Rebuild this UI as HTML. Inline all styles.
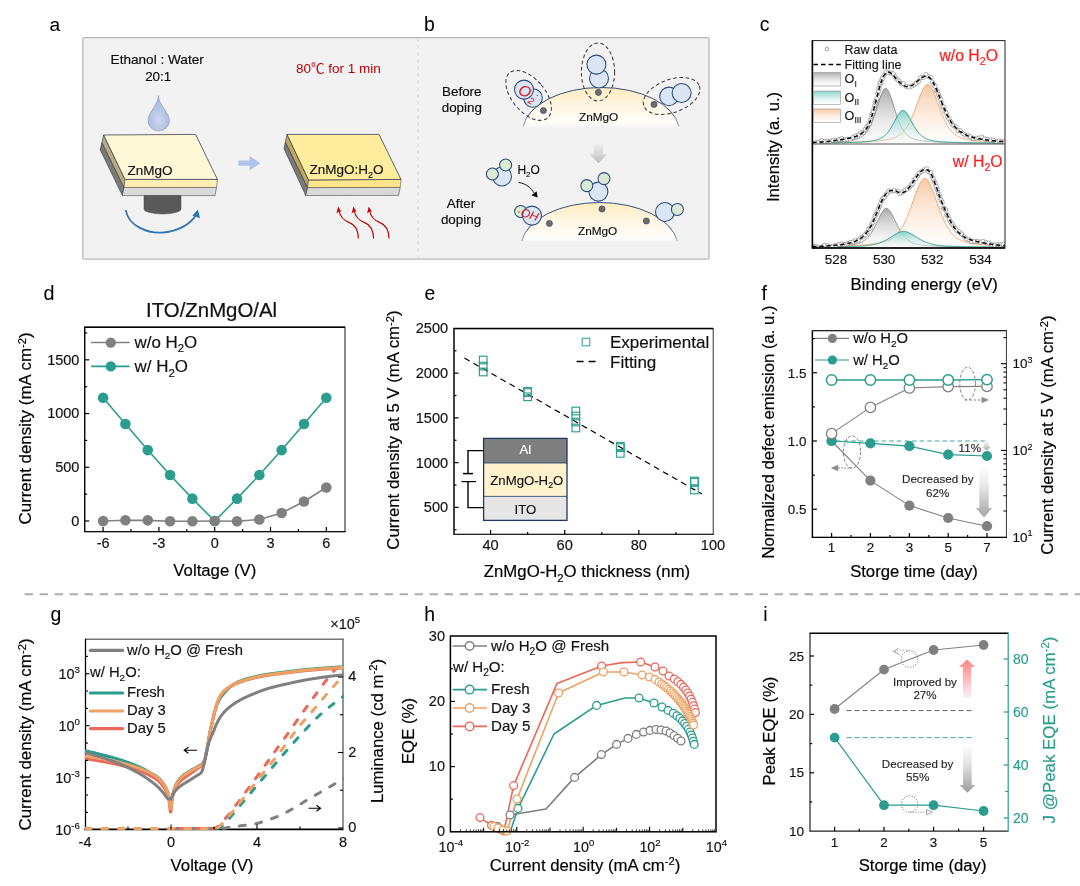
<!DOCTYPE html>
<html lang="en"><head><meta charset="utf-8"><title>Figure</title>
<style>
html,body{margin:0;padding:0;background:#fff;}
body{width:1080px;height:886px;overflow:hidden;}
svg{display:block;font-family:'Liberation Sans', 'Noto Sans CJK SC', sans-serif;}
text{paint-order:stroke;}
</style></head><body>
<svg width="1080" height="886" viewBox="0 0 1080 886">
<defs>
<radialGradient id="drop" cx="0.5" cy="0.68" r="0.5"><stop offset="0" stop-color="#cbd6ea"/><stop offset="1" stop-color="#a9bde3"/></radialGradient>
<linearGradient id="dome" x1="0" y1="0" x2="0" y2="1" gradientUnits="objectBoundingBox"><stop offset="0" stop-color="#ffecbf" stop-opacity="1"/><stop offset="0.45" stop-color="#fff5e0" stop-opacity="1"/><stop offset="0.85" stop-color="#fffdf8" stop-opacity="1"/><stop offset="1" stop-color="#fffefc" stop-opacity="0.5"/></linearGradient>
<linearGradient id="domeS" x1="0" y1="0" x2="1" y2="0" gradientUnits="objectBoundingBox"><stop offset="0" stop-color="#33507f" stop-opacity="0.5"/><stop offset="0.04" stop-color="#33507f" stop-opacity="1"/><stop offset="0.96" stop-color="#33507f" stop-opacity="1"/><stop offset="1" stop-color="#33507f" stop-opacity="0.5"/></linearGradient>
<linearGradient id="garr" x1="0" y1="0" x2="0" y2="1" gradientUnits="objectBoundingBox"><stop offset="0" stop-color="#d0d0d0" stop-opacity="0"/><stop offset="0.5" stop-color="#cfcfcf" stop-opacity="0.7"/><stop offset="1" stop-color="#bdbdbd" stop-opacity="1"/></linearGradient>
<linearGradient id="cg1" x1="0" y1="0" x2="0" y2="1" gradientUnits="objectBoundingBox"><stop offset="0" stop-color="#a6a6a6" stop-opacity="0.95"/><stop offset="1" stop-color="#f2f2f2" stop-opacity="0.2"/></linearGradient>
<linearGradient id="cg2" x1="0" y1="0" x2="0" y2="1" gradientUnits="objectBoundingBox"><stop offset="0" stop-color="#7fd0c6" stop-opacity="0.95"/><stop offset="1" stop-color="#eefaf8" stop-opacity="0.2"/></linearGradient>
<linearGradient id="cg3" x1="0" y1="0" x2="0" y2="1" gradientUnits="objectBoundingBox"><stop offset="0" stop-color="#f6c6a0" stop-opacity="0.95"/><stop offset="1" stop-color="#fff4ec" stop-opacity="0.2"/></linearGradient>
<clipPath id="clipc1"><rect x="812.4" y="40.6" width="192.6" height="103.4"/></clipPath>
<clipPath id="clipc2"><rect x="812.4" y="144" width="192.6" height="104"/></clipPath>
<linearGradient id="farr" x1="0" y1="0" x2="0" y2="1" gradientUnits="objectBoundingBox"><stop offset="0" stop-color="#f2f2f2" stop-opacity="0.3"/><stop offset="0.5" stop-color="#d9d9d9" stop-opacity="1"/><stop offset="1" stop-color="#a6a6a6" stop-opacity="1"/></linearGradient>
<clipPath id="clipg"><rect x="85" y="638.8" width="259" height="191.8"/></clipPath>
<linearGradient id="iarrR" x1="0" y1="0" x2="0" y2="1" gradientUnits="objectBoundingBox"><stop offset="0" stop-color="#ff8585" stop-opacity="1"/><stop offset="0.45" stop-color="#ffb3b3" stop-opacity="1"/><stop offset="1" stop-color="#f4f0fb" stop-opacity="0.9"/></linearGradient>
<linearGradient id="iarrG" x1="0" y1="0" x2="0" y2="1" gradientUnits="objectBoundingBox"><stop offset="0" stop-color="#f4f4f8" stop-opacity="0.6"/><stop offset="0.5" stop-color="#d4d4d4" stop-opacity="1"/><stop offset="1" stop-color="#9c9c9c" stop-opacity="1"/></linearGradient>
</defs>
<rect x="0" y="0" width="1080" height="886" fill="#fff"/>
<text x="49.4" y="30.6" font-size="19.2" text-anchor="start" fill="#000" stroke="#000" stroke-width="0.05">a</text>
<text x="424" y="30.6" font-size="19.4" text-anchor="start" fill="#000" stroke="#000" stroke-width="0.05">b</text>
<rect x="82.8" y="37.7" width="626.2" height="221.4" fill="#f2f2f2" stroke="#a6a6a6" stroke-width="1" rx="0.8"/>
<line x1="418" y1="38" x2="418" y2="259" stroke="#d9d9d9" stroke-width="1" stroke-dasharray="4 3"/>
<text x="157.2" y="64.4" font-size="13.6" text-anchor="middle" fill="#0a0a0a" stroke="#0a0a0a" stroke-width="0.15">Ethanol : Water</text>
<text x="158.2" y="80.6" font-size="13.4" text-anchor="middle" fill="#0a0a0a" stroke="#0a0a0a" stroke-width="0.15">20:1</text>
<text x="296" y="72.6" font-size="13.5" text-anchor="start" fill="#c00000" stroke="#c00000" stroke-width="0">80℃ for 1 min</text>
<path d="M158.4,95.6 C159,106 169.4,112 169.4,120.6 A10.7,10.4 0 0 1 148,120.6 C148,112 157.8,106 158.4,95.6 Z" stroke="#8a97ad" stroke-width="0.6" fill="url(#drop)"/>
<polygon points="101.9,142.4 124,187.4 122.4,195.6 100.2,149.8" fill="#7a7a7a" stroke="#2a2a2a" stroke-width="0.55"/>
<polygon points="103.6,135 125,179.4 124,187.4 101.9,142.4" fill="#b9ab82" stroke="#2a2a2a" stroke-width="0.55"/>
<polygon points="124,187.4 216.6,187.4 215,195.6 122.4,195.6" fill="#d9d9d9" stroke="#3a3a3a" stroke-width="0.55"/>
<polygon points="125,179.4 217.4,179.4 216.6,187.4 124,187.4" fill="#ffefb5" stroke="#3a3a3a" stroke-width="0.5"/>
<polygon points="103.6,135 195.6,134.4 217.4,179.4 125,179.4" fill="#fff8d6" stroke="#1f2a44" stroke-width="0.7"/>
<text x="127.4" y="175" font-size="13.5" text-anchor="start" fill="#111" stroke="#111" stroke-width="0.15">ZnMgO</text>
<path d="M144,195.6 L181,195.6 L181,209 A18.5,5 0 0 1 144,209 Z" stroke="#444" stroke-width="0.5" fill="#595959"/>
<path d="M125.8,210 C128,226 148,233.4 162,232.6 C177,231.6 190,225 196,215" stroke="#2e75b6" stroke-width="1.8" fill="none"/>
<polygon points="198,209.6 192.4,215.4 200,218.2" fill="#2e75b6" stroke="none" stroke-width="1"/>
<polygon points="238.4,160.6 249.6,160.6 249.6,156 260.2,163.2 249.6,170.4 249.6,165.8 238.4,165.8" fill="#adc3e9" stroke="none" stroke-width="1"/>
<polygon points="285.4,142 307.6,187.6 305.8,195.5 284,148.8" fill="#7a7a7a" stroke="#2a2a2a" stroke-width="0.55"/>
<polygon points="287,134.4 308.6,180 307.6,187.6 285.4,142" fill="#bfa661" stroke="#2a2a2a" stroke-width="0.55"/>
<polygon points="307.6,187.6 400.2,187.4 398.6,195.4 305.8,195.5" fill="#d9d9d9" stroke="#3a3a3a" stroke-width="0.55"/>
<polygon points="308.6,180 401,179.4 400.2,187.4 307.6,187.6" fill="#ffe48e" stroke="#3a3a3a" stroke-width="0.5"/>
<polygon points="287,134.4 379,134.4 401,179.4 308.6,180" fill="#ffec9c" stroke="#1f2a44" stroke-width="0.7"/>
<text x="309.4" y="174.4" font-size="13.5" text-anchor="start" fill="#111" stroke="#111" stroke-width="0.15">ZnMgO:H<tspan dy="3.65" font-size="9.04">2</tspan><tspan dy="-3.65">O</tspan></text>
<path d="M358.4,238.6 C358.2,231 356,225 349.4,222.6 C343,220.4 340.2,217 338.7,210" stroke="#c00000" stroke-width="1.15" fill="none"/>
<polygon points="338.2,206.6 336.4,213.4 338.9,211.4 341.2,211.8" fill="#c00000" stroke="none" stroke-width="1"/>
<path d="M373.6,238.6 C373.4,231 371.2,225 364.6,222.6 C358.2,220.4 355.4,217 353.9,210" stroke="#c00000" stroke-width="1.15" fill="none"/>
<polygon points="353.4,206.6 351.6,213.4 354.1,211.4 356.4,211.8" fill="#c00000" stroke="none" stroke-width="1"/>
<path d="M389,238.6 C388.8,231 386.6,225 380,222.6 C373.6,220.4 370.8,217 369.3,210" stroke="#c00000" stroke-width="1.15" fill="none"/>
<polygon points="368.8,206.6 367,213.4 369.5,211.4 371.8,211.8" fill="#c00000" stroke="none" stroke-width="1"/>
<text x="461.8" y="96" font-size="13.4" text-anchor="middle" fill="#0a0a0a" stroke="#0a0a0a" stroke-width="0.15">Before</text>
<text x="461.8" y="112" font-size="13.4" text-anchor="middle" fill="#0a0a0a" stroke="#0a0a0a" stroke-width="0.15">doping</text>
<text x="461" y="208" font-size="13.4" text-anchor="middle" fill="#0a0a0a" stroke="#0a0a0a" stroke-width="0.15">After</text>
<text x="461" y="224" font-size="13.4" text-anchor="middle" fill="#0a0a0a" stroke="#0a0a0a" stroke-width="0.15">doping</text>
<path d="M523.12,126.4 A78.5,44.5 0 0 1 678.88,126.4 Z" stroke="none" stroke-width="1" fill="url(#dome)"/>
<path d="M523.12,126.4 A78.5,44.5 0 0 1 678.88,126.4" stroke="url(#domeS)" stroke-width="1" fill="none"/>
<text x="598.6" y="121" font-size="11.8" text-anchor="middle" fill="#0a0a0a" stroke="#0a0a0a" stroke-width="0.13">ZnMgO</text>
<circle cx="599" cy="78.4" r="9.5" fill="#dbe6f4" stroke="#2c4a80" stroke-width="1.05"/>
<circle cx="596.4" cy="64.6" r="9.5" fill="#dbe6f4" stroke="#2c4a80" stroke-width="1.05"/>
<circle cx="533" cy="98" r="9.3" fill="#dbe6f4" stroke="#2c4a80" stroke-width="1.05"/>
<circle cx="524" cy="89.6" r="9.5" fill="#dbe6f4" stroke="#2c4a80" stroke-width="1.05"/>
<circle cx="669" cy="96.4" r="9.3" fill="#dbe6f4" stroke="#2c4a80" stroke-width="1.05"/>
<circle cx="681.6" cy="93" r="9.5" fill="#dbe6f4" stroke="#2c4a80" stroke-width="1.05"/>
<circle cx="598.4" cy="92.4" r="3" fill="#6e6e6e" stroke="#3b4a6b" stroke-width="0.8"/>
<circle cx="543.4" cy="110.6" r="3" fill="#6e6e6e" stroke="#3b4a6b" stroke-width="0.8"/>
<circle cx="654" cy="104.4" r="3" fill="#6e6e6e" stroke="#3b4a6b" stroke-width="0.8"/>
<ellipse cx="598" cy="72" rx="16.6" ry="29" fill="none" stroke="#3a3a3a" stroke-width="1.05" stroke-dasharray="3.6 2.6" transform="rotate(0 598 72)"/>
<ellipse cx="528.6" cy="95.4" rx="16.5" ry="29.5" fill="none" stroke="#3a3a3a" stroke-width="1.05" stroke-dasharray="3.6 2.6" transform="rotate(-40 528.6 95.4)"/>
<ellipse cx="671.6" cy="96" rx="29.5" ry="16.5" fill="none" stroke="#3a3a3a" stroke-width="1.05" stroke-dasharray="3.6 2.6" transform="rotate(-20 671.6 96)"/>
<text fill="#e0101a" font-style="italic" text-anchor="middle" font-size="15.6" transform="rotate(28 525 91)"><tspan x="525" y="96.4">O</tspan><tspan x="535" y="100.2" font-size="9.5">2</tspan><tspan x="538" y="92.2" font-size="10">·</tspan></text>
<polygon points="593.8,142 603,142 603,154.4 607.1,154.4 598.4,163.2 589.7,154.4 593.8,154.4" fill="url(#garr)" stroke="none" stroke-width="1"/>
<circle cx="502" cy="176.4" r="9.5" fill="#dbe6f4" stroke="#2c4a80" stroke-width="1.05"/>
<circle cx="505.6" cy="165" r="6" fill="#dbead3" stroke="#2c4a80" stroke-width="1.05"/>
<circle cx="492.4" cy="174" r="6" fill="#dbead3" stroke="#2c4a80" stroke-width="1.05"/>
<text x="517.4" y="173.6" font-size="12" text-anchor="start" fill="#0a0a0a" stroke="#0a0a0a" stroke-width="0.13">H<tspan dy="3.24" font-size="8.04">2</tspan><tspan dy="-3.24">O</tspan></text>
<path d="M518.4,182.4 C526,183.6 531,187.6 534.4,193.4" stroke="#000" stroke-width="0.9" fill="none"/>
<polygon points="537.6,197.4 531.4,195.2 536.6,191.6" fill="#000" stroke="none" stroke-width="1"/>
<path d="M521.72,241 A78.5,44.5 0 0 1 677.28,241 Z" stroke="none" stroke-width="1" fill="url(#dome)"/>
<path d="M521.72,241 A78.5,44.5 0 0 1 677.28,241" stroke="url(#domeS)" stroke-width="1" fill="none"/>
<text x="597.6" y="235" font-size="11.8" text-anchor="middle" fill="#0a0a0a" stroke="#0a0a0a" stroke-width="0.13">ZnMgO</text>
<circle cx="520.6" cy="211.4" r="6" fill="#dbead3" stroke="#2c4a80" stroke-width="1.05"/>
<circle cx="532" cy="215.6" r="9.5" fill="#dbe6f4" stroke="#2c4a80" stroke-width="1.05"/>
<text x="527.8" y="218" font-size="11.8" text-anchor="middle" fill="#e0101a" font-style="italic" transform="rotate(18 527.8 214)">·OH</text>
<circle cx="598.4" cy="191.6" r="9.5" fill="#dbe6f4" stroke="#2c4a80" stroke-width="1.05"/>
<circle cx="604" cy="178.6" r="6" fill="#dbead3" stroke="#2c4a80" stroke-width="1.05"/>
<circle cx="586.8" cy="185.6" r="6" fill="#dbead3" stroke="#2c4a80" stroke-width="1.05"/>
<circle cx="665" cy="212" r="9.5" fill="#dbe6f4" stroke="#2c4a80" stroke-width="1.05"/>
<circle cx="677.4" cy="209.4" r="6" fill="#dbead3" stroke="#2c4a80" stroke-width="1.05"/>
<circle cx="549.4" cy="223.4" r="3" fill="#6e6e6e" stroke="#3b4a6b" stroke-width="0.8"/>
<circle cx="602" cy="209" r="3" fill="#6e6e6e" stroke="#3b4a6b" stroke-width="0.8"/>
<circle cx="646.4" cy="221" r="3" fill="#6e6e6e" stroke="#3b4a6b" stroke-width="0.8"/>
<text x="759.8" y="30.6" font-size="19.4" text-anchor="start" fill="#000" stroke="#000" stroke-width="0.05">c</text>
<g clip-path="url(#clipc1)">
<path d="M812.4,143.4 L812.4,142.7 L812.9,142.69 L813.4,142.68 L813.9,142.67 L814.4,142.66 L814.9,142.65 L815.4,142.64 L815.9,142.63 L816.4,142.62 L816.9,142.61 L817.4,142.6 L817.9,142.59 L818.4,142.58 L818.9,142.56 L819.4,142.55 L819.9,142.54 L820.4,142.53 L820.9,142.51 L821.4,142.5 L821.9,142.49 L822.4,142.47 L822.9,142.46 L823.4,142.44 L823.9,142.43 L824.4,142.41 L824.9,142.4 L825.4,142.38 L825.9,142.36 L826.4,142.35 L826.9,142.33 L827.4,142.31 L827.9,142.29 L828.4,142.27 L828.9,142.25 L829.4,142.23 L829.9,142.21 L830.4,142.19 L830.9,142.17 L831.4,142.15 L831.9,142.13 L832.4,142.11 L832.9,142.08 L833.4,142.06 L833.9,142.03 L834.4,142.01 L834.9,141.98 L835.4,141.95 L835.9,141.93 L836.4,141.9 L836.9,141.87 L837.4,141.84 L837.9,141.81 L838.4,141.77 L838.9,141.74 L839.4,141.71 L839.9,141.67 L840.4,141.64 L840.9,141.6 L841.4,141.56 L841.9,141.52 L842.4,141.48 L842.9,141.44 L843.4,141.39 L843.9,141.35 L844.4,141.3 L844.9,141.25 L845.4,141.2 L845.9,141.15 L846.4,141.09 L846.9,141.04 L847.4,140.98 L847.9,140.92 L848.4,140.85 L848.9,140.79 L849.4,140.72 L849.9,140.64 L850.4,140.57 L850.9,140.49 L851.4,140.41 L851.9,140.32 L852.4,140.23 L852.9,140.13 L853.4,140.02 L853.9,139.92 L854.4,139.8 L854.9,139.68 L855.4,139.55 L855.9,139.41 L856.4,139.26 L856.9,139.1 L857.4,138.93 L857.9,138.75 L858.4,138.55 L858.9,138.34 L859.4,138.11 L859.9,137.87 L860.4,137.61 L860.9,137.33 L861.4,137.02 L861.9,136.7 L862.4,136.34 L862.9,135.96 L863.4,135.55 L863.9,135.11 L864.4,134.64 L864.9,134.13 L865.4,133.59 L865.9,133.01 L866.4,132.38 L866.9,131.72 L867.4,131 L867.9,130.25 L868.4,129.44 L868.9,128.58 L869.4,127.68 L869.9,126.72 L870.4,125.71 L870.9,124.65 L871.4,123.53 L871.9,122.36 L872.4,121.14 L872.9,119.87 L873.4,118.54 L873.9,117.17 L874.4,115.76 L874.9,114.3 L875.4,112.8 L875.9,111.27 L876.4,109.7 L876.9,108.12 L877.4,106.52 L877.9,104.91 L878.4,103.31 L878.9,101.71 L879.4,100.15 L879.9,98.61 L880.4,97.13 L880.9,95.72 L881.4,94.38 L881.9,93.14 L882.4,92.01 L882.9,91.02 L883.4,90.16 L883.9,89.46 L884.4,88.93 L884.9,88.58 L885.4,88.41 L885.9,88.43 L886.4,88.64 L886.9,89.03 L887.4,89.59 L887.9,90.32 L888.4,91.2 L888.9,92.23 L889.4,93.38 L889.9,94.64 L890.4,95.99 L890.9,97.42 L891.4,98.92 L891.9,100.46 L892.4,102.03 L892.9,103.63 L893.4,105.23 L893.9,106.84 L894.4,108.44 L894.9,110.02 L895.4,111.57 L895.9,113.1 L896.4,114.59 L896.9,116.04 L897.4,117.45 L897.9,118.81 L898.4,120.13 L898.9,121.39 L899.4,122.6 L899.9,123.76 L900.4,124.86 L900.9,125.92 L901.4,126.92 L901.9,127.86 L902.4,128.76 L902.9,129.6 L903.4,130.4 L903.9,131.15 L904.4,131.85 L904.9,132.51 L905.4,133.13 L905.9,133.7 L906.4,134.24 L906.9,134.74 L907.4,135.21 L907.9,135.64 L908.4,136.04 L908.9,136.42 L909.4,136.76 L909.9,137.09 L910.4,137.39 L910.9,137.66 L911.4,137.92 L911.9,138.16 L912.4,138.38 L912.9,138.59 L913.4,138.78 L913.9,138.96 L914.4,139.13 L914.9,139.29 L915.4,139.44 L915.9,139.57 L916.4,139.7 L916.9,139.82 L917.4,139.94 L917.9,140.05 L918.4,140.15 L918.9,140.24 L919.4,140.34 L919.9,140.42 L920.4,140.51 L920.9,140.58 L921.4,140.66 L921.9,140.73 L922.4,140.8 L922.9,140.87 L923.4,140.93 L923.9,140.99 L924.4,141.05 L924.9,141.1 L925.4,141.16 L925.9,141.21 L926.4,141.26 L926.9,141.31 L927.4,141.36 L927.9,141.4 L928.4,141.44 L928.9,141.49 L929.4,141.53 L929.9,141.57 L930.4,141.61 L930.9,141.64 L931.4,141.68 L931.9,141.71 L932.4,141.75 L932.9,141.78 L933.4,141.81 L933.9,141.84 L934.4,141.87 L934.9,141.9 L935.4,141.93 L935.9,141.96 L936.4,141.99 L936.9,142.01 L937.4,142.04 L937.9,142.06 L938.4,142.09 L938.9,142.11 L939.4,142.13 L939.9,142.15 L940.4,142.18 L940.9,142.2 L941.4,142.22 L941.9,142.24 L942.4,142.26 L942.9,142.28 L943.4,142.3 L943.9,142.31 L944.4,142.33 L944.9,142.35 L945.4,142.37 L945.9,142.38 L946.4,142.4 L946.9,142.41 L947.4,142.43 L947.9,142.44 L948.4,142.46 L948.9,142.47 L949.4,142.49 L949.9,142.5 L950.4,142.51 L950.9,142.53 L951.4,142.54 L951.9,142.55 L952.4,142.57 L952.9,142.58 L953.4,142.59 L953.9,142.6 L954.4,142.61 L954.9,142.62 L955.4,142.63 L955.9,142.64 L956.4,142.66 L956.9,142.67 L957.4,142.68 L957.9,142.68 L958.4,142.69 L958.9,142.7 L959.4,142.71 L959.9,142.72 L960.4,142.73 L960.9,142.74 L961.4,142.75 L961.9,142.76 L962.4,142.76 L962.9,142.77 L963.4,142.78 L963.9,142.79 L964.4,142.8 L964.9,142.8 L965.4,142.81 L965.9,142.82 L966.4,142.82 L966.9,142.83 L967.4,142.84 L967.9,142.85 L968.4,142.85 L968.9,142.86 L969.4,142.86 L969.9,142.87 L970.4,142.88 L970.9,142.88 L971.4,142.89 L971.9,142.89 L972.4,142.9 L972.9,142.91 L973.4,142.91 L973.9,142.92 L974.4,142.92 L974.9,142.93 L975.4,142.93 L975.9,142.94 L976.4,142.94 L976.9,142.95 L977.4,142.95 L977.9,142.96 L978.4,142.96 L978.9,142.97 L979.4,142.97 L979.9,142.98 L980.4,142.98 L980.9,142.98 L981.4,142.99 L981.9,142.99 L982.4,143 L982.9,143 L983.4,143 L983.9,143.01 L984.4,143.01 L984.9,143.02 L985.4,143.02 L985.9,143.02 L986.4,143.03 L986.9,143.03 L987.4,143.04 L987.9,143.04 L988.4,143.04 L988.9,143.05 L989.4,143.05 L989.9,143.05 L990.4,143.06 L990.9,143.06 L991.4,143.06 L991.9,143.06 L992.4,143.07 L992.9,143.07 L993.4,143.07 L993.9,143.08 L994.4,143.08 L994.9,143.08 L995.4,143.09 L995.9,143.09 L996.4,143.09 L996.9,143.09 L997.4,143.1 L997.9,143.1 L998.4,143.1 L998.9,143.1 L999.4,143.11 L999.9,143.11 L1000.4,143.11 L1000.9,143.11 L1001.4,143.12 L1001.9,143.12 L1002.4,143.12 L1002.9,143.12 L1003.4,143.13 L1003.9,143.13 L1004.4,143.13 L1004.9,143.13 L1005,143.4 Z" stroke="none" stroke-width="1" fill="url(#cg1)"/>
<polyline points="812.4,142.7 812.9,142.69 813.4,142.68 813.9,142.67 814.4,142.66 814.9,142.65 815.4,142.64 815.9,142.63 816.4,142.62 816.9,142.61 817.4,142.6 817.9,142.59 818.4,142.58 818.9,142.56 819.4,142.55 819.9,142.54 820.4,142.53 820.9,142.51 821.4,142.5 821.9,142.49 822.4,142.47 822.9,142.46 823.4,142.44 823.9,142.43 824.4,142.41 824.9,142.4 825.4,142.38 825.9,142.36 826.4,142.35 826.9,142.33 827.4,142.31 827.9,142.29 828.4,142.27 828.9,142.25 829.4,142.23 829.9,142.21 830.4,142.19 830.9,142.17 831.4,142.15 831.9,142.13 832.4,142.11 832.9,142.08 833.4,142.06 833.9,142.03 834.4,142.01 834.9,141.98 835.4,141.95 835.9,141.93 836.4,141.9 836.9,141.87 837.4,141.84 837.9,141.81 838.4,141.77 838.9,141.74 839.4,141.71 839.9,141.67 840.4,141.64 840.9,141.6 841.4,141.56 841.9,141.52 842.4,141.48 842.9,141.44 843.4,141.39 843.9,141.35 844.4,141.3 844.9,141.25 845.4,141.2 845.9,141.15 846.4,141.09 846.9,141.04 847.4,140.98 847.9,140.92 848.4,140.85 848.9,140.79 849.4,140.72 849.9,140.64 850.4,140.57 850.9,140.49 851.4,140.41 851.9,140.32 852.4,140.23 852.9,140.13 853.4,140.02 853.9,139.92 854.4,139.8 854.9,139.68 855.4,139.55 855.9,139.41 856.4,139.26 856.9,139.1 857.4,138.93 857.9,138.75 858.4,138.55 858.9,138.34 859.4,138.11 859.9,137.87 860.4,137.61 860.9,137.33 861.4,137.02 861.9,136.7 862.4,136.34 862.9,135.96 863.4,135.55 863.9,135.11 864.4,134.64 864.9,134.13 865.4,133.59 865.9,133.01 866.4,132.38 866.9,131.72 867.4,131 867.9,130.25 868.4,129.44 868.9,128.58 869.4,127.68 869.9,126.72 870.4,125.71 870.9,124.65 871.4,123.53 871.9,122.36 872.4,121.14 872.9,119.87 873.4,118.54 873.9,117.17 874.4,115.76 874.9,114.3 875.4,112.8 875.9,111.27 876.4,109.7 876.9,108.12 877.4,106.52 877.9,104.91 878.4,103.31 878.9,101.71 879.4,100.15 879.9,98.61 880.4,97.13 880.9,95.72 881.4,94.38 881.9,93.14 882.4,92.01 882.9,91.02 883.4,90.16 883.9,89.46 884.4,88.93 884.9,88.58 885.4,88.41 885.9,88.43 886.4,88.64 886.9,89.03 887.4,89.59 887.9,90.32 888.4,91.2 888.9,92.23 889.4,93.38 889.9,94.64 890.4,95.99 890.9,97.42 891.4,98.92 891.9,100.46 892.4,102.03 892.9,103.63 893.4,105.23 893.9,106.84 894.4,108.44 894.9,110.02 895.4,111.57 895.9,113.1 896.4,114.59 896.9,116.04 897.4,117.45 897.9,118.81 898.4,120.13 898.9,121.39 899.4,122.6 899.9,123.76 900.4,124.86 900.9,125.92 901.4,126.92 901.9,127.86 902.4,128.76 902.9,129.6 903.4,130.4 903.9,131.15 904.4,131.85 904.9,132.51 905.4,133.13 905.9,133.7 906.4,134.24 906.9,134.74 907.4,135.21 907.9,135.64 908.4,136.04 908.9,136.42 909.4,136.76 909.9,137.09 910.4,137.39 910.9,137.66 911.4,137.92 911.9,138.16 912.4,138.38 912.9,138.59 913.4,138.78 913.9,138.96 914.4,139.13 914.9,139.29 915.4,139.44 915.9,139.57 916.4,139.7 916.9,139.82 917.4,139.94 917.9,140.05 918.4,140.15 918.9,140.24 919.4,140.34 919.9,140.42 920.4,140.51 920.9,140.58 921.4,140.66 921.9,140.73 922.4,140.8 922.9,140.87 923.4,140.93 923.9,140.99 924.4,141.05 924.9,141.1 925.4,141.16 925.9,141.21 926.4,141.26 926.9,141.31 927.4,141.36 927.9,141.4 928.4,141.44 928.9,141.49 929.4,141.53 929.9,141.57 930.4,141.61 930.9,141.64 931.4,141.68 931.9,141.71 932.4,141.75 932.9,141.78 933.4,141.81 933.9,141.84 934.4,141.87 934.9,141.9 935.4,141.93 935.9,141.96 936.4,141.99 936.9,142.01 937.4,142.04 937.9,142.06 938.4,142.09 938.9,142.11 939.4,142.13 939.9,142.15 940.4,142.18 940.9,142.2 941.4,142.22 941.9,142.24 942.4,142.26 942.9,142.28 943.4,142.3 943.9,142.31 944.4,142.33 944.9,142.35 945.4,142.37 945.9,142.38 946.4,142.4 946.9,142.41 947.4,142.43 947.9,142.44 948.4,142.46 948.9,142.47 949.4,142.49 949.9,142.5 950.4,142.51 950.9,142.53 951.4,142.54 951.9,142.55 952.4,142.57 952.9,142.58 953.4,142.59 953.9,142.6 954.4,142.61 954.9,142.62 955.4,142.63 955.9,142.64 956.4,142.66 956.9,142.67 957.4,142.68 957.9,142.68 958.4,142.69 958.9,142.7 959.4,142.71 959.9,142.72 960.4,142.73 960.9,142.74 961.4,142.75 961.9,142.76 962.4,142.76 962.9,142.77 963.4,142.78 963.9,142.79 964.4,142.8 964.9,142.8 965.4,142.81 965.9,142.82 966.4,142.82 966.9,142.83 967.4,142.84 967.9,142.85 968.4,142.85 968.9,142.86 969.4,142.86 969.9,142.87 970.4,142.88 970.9,142.88 971.4,142.89 971.9,142.89 972.4,142.9 972.9,142.91 973.4,142.91 973.9,142.92 974.4,142.92 974.9,142.93 975.4,142.93 975.9,142.94 976.4,142.94 976.9,142.95 977.4,142.95 977.9,142.96 978.4,142.96 978.9,142.97 979.4,142.97 979.9,142.98 980.4,142.98 980.9,142.98 981.4,142.99 981.9,142.99 982.4,143 982.9,143 983.4,143 983.9,143.01 984.4,143.01 984.9,143.02 985.4,143.02 985.9,143.02 986.4,143.03 986.9,143.03 987.4,143.04 987.9,143.04 988.4,143.04 988.9,143.05 989.4,143.05 989.9,143.05 990.4,143.06 990.9,143.06 991.4,143.06 991.9,143.06 992.4,143.07 992.9,143.07 993.4,143.07 993.9,143.08 994.4,143.08 994.9,143.08 995.4,143.09 995.9,143.09 996.4,143.09 996.9,143.09 997.4,143.1 997.9,143.1 998.4,143.1 998.9,143.1 999.4,143.11 999.9,143.11 1000.4,143.11 1000.9,143.11 1001.4,143.12 1001.9,143.12 1002.4,143.12 1002.9,143.12 1003.4,143.13 1003.9,143.13 1004.4,143.13 1004.9,143.13" fill="none" stroke="#8c8c8c" stroke-width="1"/>
<path d="M812.4,143.4 L812.4,142.91 L812.9,142.91 L813.4,142.9 L813.9,142.9 L814.4,142.89 L814.9,142.89 L815.4,142.88 L815.9,142.88 L816.4,142.88 L816.9,142.87 L817.4,142.87 L817.9,142.86 L818.4,142.86 L818.9,142.85 L819.4,142.85 L819.9,142.84 L820.4,142.84 L820.9,142.83 L821.4,142.83 L821.9,142.82 L822.4,142.82 L822.9,142.81 L823.4,142.8 L823.9,142.8 L824.4,142.79 L824.9,142.79 L825.4,142.78 L825.9,142.78 L826.4,142.77 L826.9,142.76 L827.4,142.76 L827.9,142.75 L828.4,142.74 L828.9,142.74 L829.4,142.73 L829.9,142.72 L830.4,142.72 L830.9,142.71 L831.4,142.7 L831.9,142.7 L832.4,142.69 L832.9,142.68 L833.4,142.67 L833.9,142.67 L834.4,142.66 L834.9,142.65 L835.4,142.64 L835.9,142.63 L836.4,142.63 L836.9,142.62 L837.4,142.61 L837.9,142.6 L838.4,142.59 L838.9,142.58 L839.4,142.57 L839.9,142.57 L840.4,142.56 L840.9,142.55 L841.4,142.54 L841.9,142.53 L842.4,142.52 L842.9,142.51 L843.4,142.5 L843.9,142.49 L844.4,142.48 L844.9,142.46 L845.4,142.45 L845.9,142.44 L846.4,142.43 L846.9,142.42 L847.4,142.41 L847.9,142.39 L848.4,142.38 L848.9,142.37 L849.4,142.36 L849.9,142.34 L850.4,142.33 L850.9,142.32 L851.4,142.3 L851.9,142.29 L852.4,142.28 L852.9,142.26 L853.4,142.25 L853.9,142.23 L854.4,142.22 L854.9,142.2 L855.4,142.18 L855.9,142.17 L856.4,142.15 L856.9,142.13 L857.4,142.12 L857.9,142.1 L858.4,142.08 L858.9,142.06 L859.4,142.04 L859.9,142.02 L860.4,142 L860.9,141.98 L861.4,141.96 L861.9,141.94 L862.4,141.92 L862.9,141.9 L863.4,141.88 L863.9,141.85 L864.4,141.83 L864.9,141.81 L865.4,141.78 L865.9,141.76 L866.4,141.73 L866.9,141.7 L867.4,141.68 L867.9,141.65 L868.4,141.62 L868.9,141.59 L869.4,141.56 L869.9,141.53 L870.4,141.5 L870.9,141.47 L871.4,141.44 L871.9,141.41 L872.4,141.37 L872.9,141.34 L873.4,141.3 L873.9,141.26 L874.4,141.23 L874.9,141.19 L875.4,141.15 L875.9,141.11 L876.4,141.06 L876.9,141.02 L877.4,140.98 L877.9,140.93 L878.4,140.88 L878.9,140.83 L879.4,140.78 L879.9,140.73 L880.4,140.68 L880.9,140.62 L881.4,140.56 L881.9,140.5 L882.4,140.44 L882.9,140.38 L883.4,140.31 L883.9,140.24 L884.4,140.17 L884.9,140.1 L885.4,140.02 L885.9,139.94 L886.4,139.85 L886.9,139.76 L887.4,139.67 L887.9,139.57 L888.4,139.47 L888.9,139.37 L889.4,139.25 L889.9,139.14 L890.4,139.01 L890.9,138.88 L891.4,138.74 L891.9,138.6 L892.4,138.44 L892.9,138.28 L893.4,138.11 L893.9,137.93 L894.4,137.74 L894.9,137.53 L895.4,137.31 L895.9,137.09 L896.4,136.84 L896.9,136.58 L897.4,136.31 L897.9,136.02 L898.4,135.71 L898.9,135.39 L899.4,135.04 L899.9,134.67 L900.4,134.29 L900.9,133.88 L901.4,133.44 L901.9,132.98 L902.4,132.5 L902.9,131.99 L903.4,131.45 L903.9,130.88 L904.4,130.28 L904.9,129.65 L905.4,128.99 L905.9,128.3 L906.4,127.58 L906.9,126.82 L907.4,126.02 L907.9,125.19 L908.4,124.33 L908.9,123.43 L909.4,122.5 L909.9,121.53 L910.4,120.52 L910.9,119.48 L911.4,118.41 L911.9,117.3 L912.4,116.15 L912.9,114.98 L913.4,113.78 L913.9,112.55 L914.4,111.29 L914.9,110.01 L915.4,108.7 L915.9,107.38 L916.4,106.04 L916.9,104.69 L917.4,103.33 L917.9,101.97 L918.4,100.61 L918.9,99.26 L919.4,97.92 L919.9,96.6 L920.4,95.31 L920.9,94.05 L921.4,92.83 L921.9,91.66 L922.4,90.55 L922.9,89.51 L923.4,88.55 L923.9,87.66 L924.4,86.87 L924.9,86.18 L925.4,85.59 L925.9,85.12 L926.4,84.76 L926.9,84.52 L927.4,84.41 L927.9,84.42 L928.4,84.56 L928.9,84.82 L929.4,85.2 L929.9,85.7 L930.4,86.31 L930.9,87.02 L931.4,87.83 L931.9,88.73 L932.4,89.71 L932.9,90.77 L933.4,91.89 L933.9,93.07 L934.4,94.3 L934.9,95.56 L935.4,96.86 L935.9,98.18 L936.4,99.53 L936.9,100.88 L937.4,102.24 L937.9,103.6 L938.4,104.96 L938.9,106.31 L939.4,107.64 L939.9,108.96 L940.4,110.26 L940.9,111.54 L941.4,112.8 L941.9,114.02 L942.4,115.22 L942.9,116.39 L943.4,117.52 L943.9,118.62 L944.4,119.69 L944.9,120.72 L945.4,121.72 L945.9,122.69 L946.4,123.61 L946.9,124.51 L947.4,125.36 L947.9,126.18 L948.4,126.97 L948.9,127.72 L949.4,128.44 L949.9,129.13 L950.4,129.78 L950.9,130.4 L951.4,131 L951.9,131.56 L952.4,132.09 L952.9,132.6 L953.4,133.08 L953.9,133.53 L954.4,133.96 L954.9,134.37 L955.4,134.75 L955.9,135.11 L956.4,135.45 L956.9,135.78 L957.4,136.08 L957.9,136.37 L958.4,136.64 L958.9,136.89 L959.4,137.13 L959.9,137.36 L960.4,137.57 L960.9,137.77 L961.4,137.97 L961.9,138.14 L962.4,138.31 L962.9,138.48 L963.4,138.63 L963.9,138.77 L964.4,138.91 L964.9,139.04 L965.4,139.16 L965.9,139.28 L966.4,139.39 L966.9,139.49 L967.4,139.59 L967.9,139.69 L968.4,139.78 L968.9,139.87 L969.4,139.95 L969.9,140.03 L970.4,140.11 L970.9,140.18 L971.4,140.26 L971.9,140.32 L972.4,140.39 L972.9,140.45 L973.4,140.52 L973.9,140.57 L974.4,140.63 L974.9,140.69 L975.4,140.74 L975.9,140.79 L976.4,140.84 L976.9,140.89 L977.4,140.94 L977.9,140.98 L978.4,141.03 L978.9,141.07 L979.4,141.11 L979.9,141.16 L980.4,141.19 L980.9,141.23 L981.4,141.27 L981.9,141.31 L982.4,141.34 L982.9,141.38 L983.4,141.41 L983.9,141.45 L984.4,141.48 L984.9,141.51 L985.4,141.54 L985.9,141.57 L986.4,141.6 L986.9,141.63 L987.4,141.66 L987.9,141.68 L988.4,141.71 L988.9,141.74 L989.4,141.76 L989.9,141.79 L990.4,141.81 L990.9,141.83 L991.4,141.86 L991.9,141.88 L992.4,141.9 L992.9,141.92 L993.4,141.95 L993.9,141.97 L994.4,141.99 L994.9,142.01 L995.4,142.03 L995.9,142.05 L996.4,142.07 L996.9,142.08 L997.4,142.1 L997.9,142.12 L998.4,142.14 L998.9,142.15 L999.4,142.17 L999.9,142.19 L1000.4,142.2 L1000.9,142.22 L1001.4,142.23 L1001.9,142.25 L1002.4,142.26 L1002.9,142.28 L1003.4,142.29 L1003.9,142.31 L1004.4,142.32 L1004.9,142.33 L1005,143.4 Z" stroke="none" stroke-width="1" fill="url(#cg3)"/>
<polyline points="812.4,142.91 812.9,142.91 813.4,142.9 813.9,142.9 814.4,142.89 814.9,142.89 815.4,142.88 815.9,142.88 816.4,142.88 816.9,142.87 817.4,142.87 817.9,142.86 818.4,142.86 818.9,142.85 819.4,142.85 819.9,142.84 820.4,142.84 820.9,142.83 821.4,142.83 821.9,142.82 822.4,142.82 822.9,142.81 823.4,142.8 823.9,142.8 824.4,142.79 824.9,142.79 825.4,142.78 825.9,142.78 826.4,142.77 826.9,142.76 827.4,142.76 827.9,142.75 828.4,142.74 828.9,142.74 829.4,142.73 829.9,142.72 830.4,142.72 830.9,142.71 831.4,142.7 831.9,142.7 832.4,142.69 832.9,142.68 833.4,142.67 833.9,142.67 834.4,142.66 834.9,142.65 835.4,142.64 835.9,142.63 836.4,142.63 836.9,142.62 837.4,142.61 837.9,142.6 838.4,142.59 838.9,142.58 839.4,142.57 839.9,142.57 840.4,142.56 840.9,142.55 841.4,142.54 841.9,142.53 842.4,142.52 842.9,142.51 843.4,142.5 843.9,142.49 844.4,142.48 844.9,142.46 845.4,142.45 845.9,142.44 846.4,142.43 846.9,142.42 847.4,142.41 847.9,142.39 848.4,142.38 848.9,142.37 849.4,142.36 849.9,142.34 850.4,142.33 850.9,142.32 851.4,142.3 851.9,142.29 852.4,142.28 852.9,142.26 853.4,142.25 853.9,142.23 854.4,142.22 854.9,142.2 855.4,142.18 855.9,142.17 856.4,142.15 856.9,142.13 857.4,142.12 857.9,142.1 858.4,142.08 858.9,142.06 859.4,142.04 859.9,142.02 860.4,142 860.9,141.98 861.4,141.96 861.9,141.94 862.4,141.92 862.9,141.9 863.4,141.88 863.9,141.85 864.4,141.83 864.9,141.81 865.4,141.78 865.9,141.76 866.4,141.73 866.9,141.7 867.4,141.68 867.9,141.65 868.4,141.62 868.9,141.59 869.4,141.56 869.9,141.53 870.4,141.5 870.9,141.47 871.4,141.44 871.9,141.41 872.4,141.37 872.9,141.34 873.4,141.3 873.9,141.26 874.4,141.23 874.9,141.19 875.4,141.15 875.9,141.11 876.4,141.06 876.9,141.02 877.4,140.98 877.9,140.93 878.4,140.88 878.9,140.83 879.4,140.78 879.9,140.73 880.4,140.68 880.9,140.62 881.4,140.56 881.9,140.5 882.4,140.44 882.9,140.38 883.4,140.31 883.9,140.24 884.4,140.17 884.9,140.1 885.4,140.02 885.9,139.94 886.4,139.85 886.9,139.76 887.4,139.67 887.9,139.57 888.4,139.47 888.9,139.37 889.4,139.25 889.9,139.14 890.4,139.01 890.9,138.88 891.4,138.74 891.9,138.6 892.4,138.44 892.9,138.28 893.4,138.11 893.9,137.93 894.4,137.74 894.9,137.53 895.4,137.31 895.9,137.09 896.4,136.84 896.9,136.58 897.4,136.31 897.9,136.02 898.4,135.71 898.9,135.39 899.4,135.04 899.9,134.67 900.4,134.29 900.9,133.88 901.4,133.44 901.9,132.98 902.4,132.5 902.9,131.99 903.4,131.45 903.9,130.88 904.4,130.28 904.9,129.65 905.4,128.99 905.9,128.3 906.4,127.58 906.9,126.82 907.4,126.02 907.9,125.19 908.4,124.33 908.9,123.43 909.4,122.5 909.9,121.53 910.4,120.52 910.9,119.48 911.4,118.41 911.9,117.3 912.4,116.15 912.9,114.98 913.4,113.78 913.9,112.55 914.4,111.29 914.9,110.01 915.4,108.7 915.9,107.38 916.4,106.04 916.9,104.69 917.4,103.33 917.9,101.97 918.4,100.61 918.9,99.26 919.4,97.92 919.9,96.6 920.4,95.31 920.9,94.05 921.4,92.83 921.9,91.66 922.4,90.55 922.9,89.51 923.4,88.55 923.9,87.66 924.4,86.87 924.9,86.18 925.4,85.59 925.9,85.12 926.4,84.76 926.9,84.52 927.4,84.41 927.9,84.42 928.4,84.56 928.9,84.82 929.4,85.2 929.9,85.7 930.4,86.31 930.9,87.02 931.4,87.83 931.9,88.73 932.4,89.71 932.9,90.77 933.4,91.89 933.9,93.07 934.4,94.3 934.9,95.56 935.4,96.86 935.9,98.18 936.4,99.53 936.9,100.88 937.4,102.24 937.9,103.6 938.4,104.96 938.9,106.31 939.4,107.64 939.9,108.96 940.4,110.26 940.9,111.54 941.4,112.8 941.9,114.02 942.4,115.22 942.9,116.39 943.4,117.52 943.9,118.62 944.4,119.69 944.9,120.72 945.4,121.72 945.9,122.69 946.4,123.61 946.9,124.51 947.4,125.36 947.9,126.18 948.4,126.97 948.9,127.72 949.4,128.44 949.9,129.13 950.4,129.78 950.9,130.4 951.4,131 951.9,131.56 952.4,132.09 952.9,132.6 953.4,133.08 953.9,133.53 954.4,133.96 954.9,134.37 955.4,134.75 955.9,135.11 956.4,135.45 956.9,135.78 957.4,136.08 957.9,136.37 958.4,136.64 958.9,136.89 959.4,137.13 959.9,137.36 960.4,137.57 960.9,137.77 961.4,137.97 961.9,138.14 962.4,138.31 962.9,138.48 963.4,138.63 963.9,138.77 964.4,138.91 964.9,139.04 965.4,139.16 965.9,139.28 966.4,139.39 966.9,139.49 967.4,139.59 967.9,139.69 968.4,139.78 968.9,139.87 969.4,139.95 969.9,140.03 970.4,140.11 970.9,140.18 971.4,140.26 971.9,140.32 972.4,140.39 972.9,140.45 973.4,140.52 973.9,140.57 974.4,140.63 974.9,140.69 975.4,140.74 975.9,140.79 976.4,140.84 976.9,140.89 977.4,140.94 977.9,140.98 978.4,141.03 978.9,141.07 979.4,141.11 979.9,141.16 980.4,141.19 980.9,141.23 981.4,141.27 981.9,141.31 982.4,141.34 982.9,141.38 983.4,141.41 983.9,141.45 984.4,141.48 984.9,141.51 985.4,141.54 985.9,141.57 986.4,141.6 986.9,141.63 987.4,141.66 987.9,141.68 988.4,141.71 988.9,141.74 989.4,141.76 989.9,141.79 990.4,141.81 990.9,141.83 991.4,141.86 991.9,141.88 992.4,141.9 992.9,141.92 993.4,141.95 993.9,141.97 994.4,141.99 994.9,142.01 995.4,142.03 995.9,142.05 996.4,142.07 996.9,142.08 997.4,142.1 997.9,142.12 998.4,142.14 998.9,142.15 999.4,142.17 999.9,142.19 1000.4,142.2 1000.9,142.22 1001.4,142.23 1001.9,142.25 1002.4,142.26 1002.9,142.28 1003.4,142.29 1003.9,142.31 1004.4,142.32 1004.9,142.33" fill="none" stroke="#f0a46a" stroke-width="1"/>
<path d="M812.4,143.4 L812.4,143.09 L812.9,143.08 L813.4,143.08 L813.9,143.08 L814.4,143.07 L814.9,143.07 L815.4,143.06 L815.9,143.06 L816.4,143.06 L816.9,143.05 L817.4,143.05 L817.9,143.04 L818.4,143.04 L818.9,143.04 L819.4,143.03 L819.9,143.03 L820.4,143.02 L820.9,143.02 L821.4,143.01 L821.9,143.01 L822.4,143 L822.9,143 L823.4,143 L823.9,142.99 L824.4,142.99 L824.9,142.98 L825.4,142.97 L825.9,142.97 L826.4,142.96 L826.9,142.96 L827.4,142.95 L827.9,142.95 L828.4,142.94 L828.9,142.93 L829.4,142.93 L829.9,142.92 L830.4,142.92 L830.9,142.91 L831.4,142.9 L831.9,142.9 L832.4,142.89 L832.9,142.88 L833.4,142.87 L833.9,142.87 L834.4,142.86 L834.9,142.85 L835.4,142.84 L835.9,142.84 L836.4,142.83 L836.9,142.82 L837.4,142.81 L837.9,142.8 L838.4,142.79 L838.9,142.78 L839.4,142.77 L839.9,142.76 L840.4,142.75 L840.9,142.74 L841.4,142.73 L841.9,142.72 L842.4,142.71 L842.9,142.7 L843.4,142.69 L843.9,142.68 L844.4,142.67 L844.9,142.65 L845.4,142.64 L845.9,142.63 L846.4,142.62 L846.9,142.6 L847.4,142.59 L847.9,142.57 L848.4,142.56 L848.9,142.54 L849.4,142.53 L849.9,142.51 L850.4,142.5 L850.9,142.48 L851.4,142.46 L851.9,142.45 L852.4,142.43 L852.9,142.41 L853.4,142.39 L853.9,142.37 L854.4,142.35 L854.9,142.33 L855.4,142.31 L855.9,142.29 L856.4,142.26 L856.9,142.24 L857.4,142.22 L857.9,142.19 L858.4,142.17 L858.9,142.14 L859.4,142.11 L859.9,142.08 L860.4,142.05 L860.9,142.02 L861.4,141.99 L861.9,141.96 L862.4,141.93 L862.9,141.89 L863.4,141.86 L863.9,141.82 L864.4,141.78 L864.9,141.74 L865.4,141.7 L865.9,141.65 L866.4,141.61 L866.9,141.56 L867.4,141.51 L867.9,141.46 L868.4,141.41 L868.9,141.35 L869.4,141.29 L869.9,141.23 L870.4,141.16 L870.9,141.09 L871.4,141.01 L871.9,140.94 L872.4,140.85 L872.9,140.76 L873.4,140.67 L873.9,140.57 L874.4,140.46 L874.9,140.35 L875.4,140.23 L875.9,140.1 L876.4,139.96 L876.9,139.81 L877.4,139.65 L877.9,139.48 L878.4,139.3 L878.9,139.1 L879.4,138.89 L879.9,138.66 L880.4,138.42 L880.9,138.16 L881.4,137.88 L881.9,137.59 L882.4,137.27 L882.9,136.93 L883.4,136.57 L883.9,136.18 L884.4,135.77 L884.9,135.34 L885.4,134.87 L885.9,134.38 L886.4,133.86 L886.9,133.32 L887.4,132.74 L887.9,132.14 L888.4,131.5 L888.9,130.83 L889.4,130.14 L889.9,129.41 L890.4,128.66 L890.9,127.88 L891.4,127.07 L891.9,126.23 L892.4,125.37 L892.9,124.49 L893.4,123.59 L893.9,122.67 L894.4,121.74 L894.9,120.81 L895.4,119.87 L895.9,118.93 L896.4,118 L896.9,117.09 L897.4,116.2 L897.9,115.34 L898.4,114.52 L898.9,113.75 L899.4,113.03 L899.9,112.39 L900.4,111.82 L900.9,111.34 L901.4,110.95 L901.9,110.66 L902.4,110.48 L902.9,110.4 L903.4,110.43 L903.9,110.58 L904.4,110.82 L904.9,111.17 L905.4,111.62 L905.9,112.15 L906.4,112.77 L906.9,113.45 L907.4,114.2 L907.9,115 L908.4,115.85 L908.9,116.73 L909.4,117.63 L909.9,118.56 L910.4,119.49 L910.9,120.43 L911.4,121.37 L911.9,122.3 L912.4,123.22 L912.9,124.13 L913.4,125.02 L913.9,125.89 L914.4,126.73 L914.9,127.55 L915.4,128.35 L915.9,129.11 L916.4,129.85 L916.9,130.56 L917.4,131.24 L917.9,131.89 L918.4,132.5 L918.9,133.09 L919.4,133.65 L919.9,134.18 L920.4,134.68 L920.9,135.15 L921.4,135.6 L921.9,136.02 L922.4,136.42 L922.9,136.79 L923.4,137.13 L923.9,137.46 L924.4,137.77 L924.9,138.05 L925.4,138.32 L925.9,138.57 L926.4,138.8 L926.9,139.02 L927.4,139.22 L927.9,139.41 L928.4,139.58 L928.9,139.75 L929.4,139.9 L929.9,140.04 L930.4,140.18 L930.9,140.3 L931.4,140.42 L931.9,140.53 L932.4,140.63 L932.9,140.73 L933.4,140.82 L933.9,140.9 L934.4,140.98 L934.9,141.06 L935.4,141.13 L935.9,141.2 L936.4,141.26 L936.9,141.32 L937.4,141.38 L937.9,141.44 L938.4,141.49 L938.9,141.54 L939.4,141.59 L939.9,141.64 L940.4,141.68 L940.9,141.72 L941.4,141.76 L941.9,141.8 L942.4,141.84 L942.9,141.88 L943.4,141.91 L943.9,141.95 L944.4,141.98 L944.9,142.01 L945.4,142.04 L945.9,142.07 L946.4,142.1 L946.9,142.13 L947.4,142.15 L947.9,142.18 L948.4,142.21 L948.9,142.23 L949.4,142.25 L949.9,142.28 L950.4,142.3 L950.9,142.32 L951.4,142.34 L951.9,142.36 L952.4,142.38 L952.9,142.4 L953.4,142.42 L953.9,142.44 L954.4,142.46 L954.9,142.47 L955.4,142.49 L955.9,142.51 L956.4,142.52 L956.9,142.54 L957.4,142.55 L957.9,142.57 L958.4,142.58 L958.9,142.6 L959.4,142.61 L959.9,142.62 L960.4,142.64 L960.9,142.65 L961.4,142.66 L961.9,142.67 L962.4,142.68 L962.9,142.7 L963.4,142.71 L963.9,142.72 L964.4,142.73 L964.9,142.74 L965.4,142.75 L965.9,142.76 L966.4,142.77 L966.9,142.78 L967.4,142.79 L967.9,142.8 L968.4,142.81 L968.9,142.81 L969.4,142.82 L969.9,142.83 L970.4,142.84 L970.9,142.85 L971.4,142.86 L971.9,142.86 L972.4,142.87 L972.9,142.88 L973.4,142.89 L973.9,142.89 L974.4,142.9 L974.9,142.91 L975.4,142.91 L975.9,142.92 L976.4,142.93 L976.9,142.93 L977.4,142.94 L977.9,142.94 L978.4,142.95 L978.9,142.96 L979.4,142.96 L979.9,142.97 L980.4,142.97 L980.9,142.98 L981.4,142.98 L981.9,142.99 L982.4,142.99 L982.9,143 L983.4,143 L983.9,143.01 L984.4,143.01 L984.9,143.02 L985.4,143.02 L985.9,143.03 L986.4,143.03 L986.9,143.03 L987.4,143.04 L987.9,143.04 L988.4,143.05 L988.9,143.05 L989.4,143.06 L989.9,143.06 L990.4,143.06 L990.9,143.07 L991.4,143.07 L991.9,143.07 L992.4,143.08 L992.9,143.08 L993.4,143.08 L993.9,143.09 L994.4,143.09 L994.9,143.09 L995.4,143.1 L995.9,143.1 L996.4,143.1 L996.9,143.11 L997.4,143.11 L997.9,143.11 L998.4,143.12 L998.9,143.12 L999.4,143.12 L999.9,143.12 L1000.4,143.13 L1000.9,143.13 L1001.4,143.13 L1001.9,143.14 L1002.4,143.14 L1002.9,143.14 L1003.4,143.14 L1003.9,143.15 L1004.4,143.15 L1004.9,143.15 L1005,143.4 Z" stroke="none" stroke-width="1" fill="url(#cg2)"/>
<polyline points="812.4,143.09 812.9,143.08 813.4,143.08 813.9,143.08 814.4,143.07 814.9,143.07 815.4,143.06 815.9,143.06 816.4,143.06 816.9,143.05 817.4,143.05 817.9,143.04 818.4,143.04 818.9,143.04 819.4,143.03 819.9,143.03 820.4,143.02 820.9,143.02 821.4,143.01 821.9,143.01 822.4,143 822.9,143 823.4,143 823.9,142.99 824.4,142.99 824.9,142.98 825.4,142.97 825.9,142.97 826.4,142.96 826.9,142.96 827.4,142.95 827.9,142.95 828.4,142.94 828.9,142.93 829.4,142.93 829.9,142.92 830.4,142.92 830.9,142.91 831.4,142.9 831.9,142.9 832.4,142.89 832.9,142.88 833.4,142.87 833.9,142.87 834.4,142.86 834.9,142.85 835.4,142.84 835.9,142.84 836.4,142.83 836.9,142.82 837.4,142.81 837.9,142.8 838.4,142.79 838.9,142.78 839.4,142.77 839.9,142.76 840.4,142.75 840.9,142.74 841.4,142.73 841.9,142.72 842.4,142.71 842.9,142.7 843.4,142.69 843.9,142.68 844.4,142.67 844.9,142.65 845.4,142.64 845.9,142.63 846.4,142.62 846.9,142.6 847.4,142.59 847.9,142.57 848.4,142.56 848.9,142.54 849.4,142.53 849.9,142.51 850.4,142.5 850.9,142.48 851.4,142.46 851.9,142.45 852.4,142.43 852.9,142.41 853.4,142.39 853.9,142.37 854.4,142.35 854.9,142.33 855.4,142.31 855.9,142.29 856.4,142.26 856.9,142.24 857.4,142.22 857.9,142.19 858.4,142.17 858.9,142.14 859.4,142.11 859.9,142.08 860.4,142.05 860.9,142.02 861.4,141.99 861.9,141.96 862.4,141.93 862.9,141.89 863.4,141.86 863.9,141.82 864.4,141.78 864.9,141.74 865.4,141.7 865.9,141.65 866.4,141.61 866.9,141.56 867.4,141.51 867.9,141.46 868.4,141.41 868.9,141.35 869.4,141.29 869.9,141.23 870.4,141.16 870.9,141.09 871.4,141.01 871.9,140.94 872.4,140.85 872.9,140.76 873.4,140.67 873.9,140.57 874.4,140.46 874.9,140.35 875.4,140.23 875.9,140.1 876.4,139.96 876.9,139.81 877.4,139.65 877.9,139.48 878.4,139.3 878.9,139.1 879.4,138.89 879.9,138.66 880.4,138.42 880.9,138.16 881.4,137.88 881.9,137.59 882.4,137.27 882.9,136.93 883.4,136.57 883.9,136.18 884.4,135.77 884.9,135.34 885.4,134.87 885.9,134.38 886.4,133.86 886.9,133.32 887.4,132.74 887.9,132.14 888.4,131.5 888.9,130.83 889.4,130.14 889.9,129.41 890.4,128.66 890.9,127.88 891.4,127.07 891.9,126.23 892.4,125.37 892.9,124.49 893.4,123.59 893.9,122.67 894.4,121.74 894.9,120.81 895.4,119.87 895.9,118.93 896.4,118 896.9,117.09 897.4,116.2 897.9,115.34 898.4,114.52 898.9,113.75 899.4,113.03 899.9,112.39 900.4,111.82 900.9,111.34 901.4,110.95 901.9,110.66 902.4,110.48 902.9,110.4 903.4,110.43 903.9,110.58 904.4,110.82 904.9,111.17 905.4,111.62 905.9,112.15 906.4,112.77 906.9,113.45 907.4,114.2 907.9,115 908.4,115.85 908.9,116.73 909.4,117.63 909.9,118.56 910.4,119.49 910.9,120.43 911.4,121.37 911.9,122.3 912.4,123.22 912.9,124.13 913.4,125.02 913.9,125.89 914.4,126.73 914.9,127.55 915.4,128.35 915.9,129.11 916.4,129.85 916.9,130.56 917.4,131.24 917.9,131.89 918.4,132.5 918.9,133.09 919.4,133.65 919.9,134.18 920.4,134.68 920.9,135.15 921.4,135.6 921.9,136.02 922.4,136.42 922.9,136.79 923.4,137.13 923.9,137.46 924.4,137.77 924.9,138.05 925.4,138.32 925.9,138.57 926.4,138.8 926.9,139.02 927.4,139.22 927.9,139.41 928.4,139.58 928.9,139.75 929.4,139.9 929.9,140.04 930.4,140.18 930.9,140.3 931.4,140.42 931.9,140.53 932.4,140.63 932.9,140.73 933.4,140.82 933.9,140.9 934.4,140.98 934.9,141.06 935.4,141.13 935.9,141.2 936.4,141.26 936.9,141.32 937.4,141.38 937.9,141.44 938.4,141.49 938.9,141.54 939.4,141.59 939.9,141.64 940.4,141.68 940.9,141.72 941.4,141.76 941.9,141.8 942.4,141.84 942.9,141.88 943.4,141.91 943.9,141.95 944.4,141.98 944.9,142.01 945.4,142.04 945.9,142.07 946.4,142.1 946.9,142.13 947.4,142.15 947.9,142.18 948.4,142.21 948.9,142.23 949.4,142.25 949.9,142.28 950.4,142.3 950.9,142.32 951.4,142.34 951.9,142.36 952.4,142.38 952.9,142.4 953.4,142.42 953.9,142.44 954.4,142.46 954.9,142.47 955.4,142.49 955.9,142.51 956.4,142.52 956.9,142.54 957.4,142.55 957.9,142.57 958.4,142.58 958.9,142.6 959.4,142.61 959.9,142.62 960.4,142.64 960.9,142.65 961.4,142.66 961.9,142.67 962.4,142.68 962.9,142.7 963.4,142.71 963.9,142.72 964.4,142.73 964.9,142.74 965.4,142.75 965.9,142.76 966.4,142.77 966.9,142.78 967.4,142.79 967.9,142.8 968.4,142.81 968.9,142.81 969.4,142.82 969.9,142.83 970.4,142.84 970.9,142.85 971.4,142.86 971.9,142.86 972.4,142.87 972.9,142.88 973.4,142.89 973.9,142.89 974.4,142.9 974.9,142.91 975.4,142.91 975.9,142.92 976.4,142.93 976.9,142.93 977.4,142.94 977.9,142.94 978.4,142.95 978.9,142.96 979.4,142.96 979.9,142.97 980.4,142.97 980.9,142.98 981.4,142.98 981.9,142.99 982.4,142.99 982.9,143 983.4,143 983.9,143.01 984.4,143.01 984.9,143.02 985.4,143.02 985.9,143.03 986.4,143.03 986.9,143.03 987.4,143.04 987.9,143.04 988.4,143.05 988.9,143.05 989.4,143.06 989.9,143.06 990.4,143.06 990.9,143.07 991.4,143.07 991.9,143.07 992.4,143.08 992.9,143.08 993.4,143.08 993.9,143.09 994.4,143.09 994.9,143.09 995.4,143.1 995.9,143.1 996.4,143.1 996.9,143.11 997.4,143.11 997.9,143.11 998.4,143.12 998.9,143.12 999.4,143.12 999.9,143.12 1000.4,143.13 1000.9,143.13 1001.4,143.13 1001.9,143.14 1002.4,143.14 1002.9,143.14 1003.4,143.14 1003.9,143.15 1004.4,143.15 1004.9,143.15" fill="none" stroke="#2a9d8f" stroke-width="1"/>
<circle cx="812.9" cy="143.9" r="2.15" fill="#fff" stroke="#333" stroke-width="0.38"/>
<circle cx="815.8" cy="142.73" r="2.15" fill="#fff" stroke="#333" stroke-width="0.38"/>
<circle cx="818.69" cy="142.28" r="2.15" fill="#fff" stroke="#333" stroke-width="0.38"/>
<circle cx="821.58" cy="140.59" r="2.15" fill="#fff" stroke="#333" stroke-width="0.38"/>
<circle cx="824.47" cy="141.53" r="2.15" fill="#fff" stroke="#333" stroke-width="0.38"/>
<circle cx="827.36" cy="141.2" r="2.15" fill="#fff" stroke="#333" stroke-width="0.38"/>
<circle cx="830.24" cy="141.09" r="2.15" fill="#fff" stroke="#333" stroke-width="0.38"/>
<circle cx="833.12" cy="140.33" r="2.15" fill="#fff" stroke="#333" stroke-width="0.38"/>
<circle cx="835.99" cy="140.37" r="2.15" fill="#fff" stroke="#333" stroke-width="0.38"/>
<circle cx="838.86" cy="139.62" r="2.15" fill="#fff" stroke="#333" stroke-width="0.38"/>
<circle cx="841.72" cy="138.55" r="2.15" fill="#fff" stroke="#333" stroke-width="0.38"/>
<circle cx="844.59" cy="139.74" r="2.15" fill="#fff" stroke="#333" stroke-width="0.38"/>
<circle cx="847.44" cy="139.23" r="2.15" fill="#fff" stroke="#333" stroke-width="0.38"/>
<circle cx="850.28" cy="139.26" r="2.15" fill="#fff" stroke="#333" stroke-width="0.38"/>
<circle cx="853.09" cy="137.3" r="2.15" fill="#fff" stroke="#333" stroke-width="0.38"/>
<circle cx="855.85" cy="136.07" r="2.15" fill="#fff" stroke="#333" stroke-width="0.38"/>
<circle cx="858.5" cy="134.79" r="2.15" fill="#fff" stroke="#333" stroke-width="0.38"/>
<circle cx="861.01" cy="132.58" r="2.15" fill="#fff" stroke="#333" stroke-width="0.38"/>
<circle cx="863.35" cy="132.77" r="2.15" fill="#fff" stroke="#333" stroke-width="0.38"/>
<circle cx="865.41" cy="129.18" r="2.15" fill="#fff" stroke="#333" stroke-width="0.38"/>
<circle cx="867.05" cy="126.72" r="2.15" fill="#fff" stroke="#333" stroke-width="0.38"/>
<circle cx="868.46" cy="124.92" r="2.15" fill="#fff" stroke="#333" stroke-width="0.38"/>
<circle cx="869.68" cy="123.56" r="2.15" fill="#fff" stroke="#333" stroke-width="0.38"/>
<circle cx="870.66" cy="119.9" r="2.15" fill="#fff" stroke="#333" stroke-width="0.38"/>
<circle cx="871.53" cy="116.19" r="2.15" fill="#fff" stroke="#333" stroke-width="0.38"/>
<circle cx="872.35" cy="113.64" r="2.15" fill="#fff" stroke="#333" stroke-width="0.38"/>
<circle cx="873.18" cy="111.86" r="2.15" fill="#fff" stroke="#333" stroke-width="0.38"/>
<circle cx="873.97" cy="108.48" r="2.15" fill="#fff" stroke="#333" stroke-width="0.38"/>
<circle cx="874.71" cy="105.22" r="2.15" fill="#fff" stroke="#333" stroke-width="0.38"/>
<circle cx="875.44" cy="102.82" r="2.15" fill="#fff" stroke="#333" stroke-width="0.38"/>
<circle cx="876.16" cy="100.74" r="2.15" fill="#fff" stroke="#333" stroke-width="0.38"/>
<circle cx="876.9" cy="98.86" r="2.15" fill="#fff" stroke="#333" stroke-width="0.38"/>
<circle cx="877.63" cy="93.64" r="2.15" fill="#fff" stroke="#333" stroke-width="0.38"/>
<circle cx="878.34" cy="91.29" r="2.15" fill="#fff" stroke="#333" stroke-width="0.38"/>
<circle cx="879.06" cy="88.35" r="2.15" fill="#fff" stroke="#333" stroke-width="0.38"/>
<circle cx="879.83" cy="84.34" r="2.15" fill="#fff" stroke="#333" stroke-width="0.38"/>
<circle cx="880.71" cy="82.7" r="2.15" fill="#fff" stroke="#333" stroke-width="0.38"/>
<circle cx="881.65" cy="79.88" r="2.15" fill="#fff" stroke="#333" stroke-width="0.38"/>
<circle cx="882.69" cy="78.79" r="2.15" fill="#fff" stroke="#333" stroke-width="0.38"/>
<circle cx="884.07" cy="75.31" r="2.15" fill="#fff" stroke="#333" stroke-width="0.38"/>
<circle cx="885.92" cy="71.96" r="2.15" fill="#fff" stroke="#333" stroke-width="0.38"/>
<circle cx="888.45" cy="72.52" r="2.15" fill="#fff" stroke="#333" stroke-width="0.38"/>
<circle cx="891.03" cy="73.05" r="2.15" fill="#fff" stroke="#333" stroke-width="0.38"/>
<circle cx="893.25" cy="73.86" r="2.15" fill="#fff" stroke="#333" stroke-width="0.38"/>
<circle cx="895.07" cy="76.97" r="2.15" fill="#fff" stroke="#333" stroke-width="0.38"/>
<circle cx="897" cy="79.14" r="2.15" fill="#fff" stroke="#333" stroke-width="0.38"/>
<circle cx="898.98" cy="81.05" r="2.15" fill="#fff" stroke="#333" stroke-width="0.38"/>
<circle cx="901.16" cy="83.64" r="2.15" fill="#fff" stroke="#333" stroke-width="0.38"/>
<circle cx="903.47" cy="83.67" r="2.15" fill="#fff" stroke="#333" stroke-width="0.38"/>
<circle cx="906.08" cy="86.37" r="2.15" fill="#fff" stroke="#333" stroke-width="0.38"/>
<circle cx="908.96" cy="87.06" r="2.15" fill="#fff" stroke="#333" stroke-width="0.38"/>
<circle cx="911.74" cy="86.13" r="2.15" fill="#fff" stroke="#333" stroke-width="0.38"/>
<circle cx="914.21" cy="84.85" r="2.15" fill="#fff" stroke="#333" stroke-width="0.38"/>
<circle cx="916.39" cy="82.94" r="2.15" fill="#fff" stroke="#333" stroke-width="0.38"/>
<circle cx="918.61" cy="81.35" r="2.15" fill="#fff" stroke="#333" stroke-width="0.38"/>
<circle cx="920.82" cy="77.52" r="2.15" fill="#fff" stroke="#333" stroke-width="0.38"/>
<circle cx="923.31" cy="77.52" r="2.15" fill="#fff" stroke="#333" stroke-width="0.38"/>
<circle cx="926.04" cy="74.61" r="2.15" fill="#fff" stroke="#333" stroke-width="0.38"/>
<circle cx="928.7" cy="76.61" r="2.15" fill="#fff" stroke="#333" stroke-width="0.38"/>
<circle cx="930.92" cy="77.48" r="2.15" fill="#fff" stroke="#333" stroke-width="0.38"/>
<circle cx="932.52" cy="82.11" r="2.15" fill="#fff" stroke="#333" stroke-width="0.38"/>
<circle cx="933.9" cy="84.87" r="2.15" fill="#fff" stroke="#333" stroke-width="0.38"/>
<circle cx="935.22" cy="86.31" r="2.15" fill="#fff" stroke="#333" stroke-width="0.38"/>
<circle cx="936.38" cy="90.45" r="2.15" fill="#fff" stroke="#333" stroke-width="0.38"/>
<circle cx="937.45" cy="91.3" r="2.15" fill="#fff" stroke="#333" stroke-width="0.38"/>
<circle cx="938.5" cy="94.62" r="2.15" fill="#fff" stroke="#333" stroke-width="0.38"/>
<circle cx="939.58" cy="97.32" r="2.15" fill="#fff" stroke="#333" stroke-width="0.38"/>
<circle cx="940.67" cy="99.09" r="2.15" fill="#fff" stroke="#333" stroke-width="0.38"/>
<circle cx="941.75" cy="102.91" r="2.15" fill="#fff" stroke="#333" stroke-width="0.38"/>
<circle cx="942.84" cy="106.72" r="2.15" fill="#fff" stroke="#333" stroke-width="0.38"/>
<circle cx="943.97" cy="107.17" r="2.15" fill="#fff" stroke="#333" stroke-width="0.38"/>
<circle cx="945.15" cy="111.27" r="2.15" fill="#fff" stroke="#333" stroke-width="0.38"/>
<circle cx="946.36" cy="113.11" r="2.15" fill="#fff" stroke="#333" stroke-width="0.38"/>
<circle cx="947.64" cy="117.15" r="2.15" fill="#fff" stroke="#333" stroke-width="0.38"/>
<circle cx="949.03" cy="118.74" r="2.15" fill="#fff" stroke="#333" stroke-width="0.38"/>
<circle cx="950.47" cy="121.4" r="2.15" fill="#fff" stroke="#333" stroke-width="0.38"/>
<circle cx="952.04" cy="123.81" r="2.15" fill="#fff" stroke="#333" stroke-width="0.38"/>
<circle cx="953.83" cy="125.79" r="2.15" fill="#fff" stroke="#333" stroke-width="0.38"/>
<circle cx="955.78" cy="126.71" r="2.15" fill="#fff" stroke="#333" stroke-width="0.38"/>
<circle cx="957.88" cy="130.79" r="2.15" fill="#fff" stroke="#333" stroke-width="0.38"/>
<circle cx="960.18" cy="130.49" r="2.15" fill="#fff" stroke="#333" stroke-width="0.38"/>
<circle cx="962.61" cy="133.28" r="2.15" fill="#fff" stroke="#333" stroke-width="0.38"/>
<circle cx="965.13" cy="135" r="2.15" fill="#fff" stroke="#333" stroke-width="0.38"/>
<circle cx="967.75" cy="135.15" r="2.15" fill="#fff" stroke="#333" stroke-width="0.38"/>
<circle cx="970.48" cy="136.86" r="2.15" fill="#fff" stroke="#333" stroke-width="0.38"/>
<circle cx="973.27" cy="138.41" r="2.15" fill="#fff" stroke="#333" stroke-width="0.38"/>
<circle cx="976.09" cy="138.19" r="2.15" fill="#fff" stroke="#333" stroke-width="0.38"/>
<circle cx="978.93" cy="138.12" r="2.15" fill="#fff" stroke="#333" stroke-width="0.38"/>
<circle cx="981.79" cy="137.09" r="2.15" fill="#fff" stroke="#333" stroke-width="0.38"/>
<circle cx="984.66" cy="138.96" r="2.15" fill="#fff" stroke="#333" stroke-width="0.38"/>
<circle cx="987.53" cy="139.63" r="2.15" fill="#fff" stroke="#333" stroke-width="0.38"/>
<circle cx="990.41" cy="140.04" r="2.15" fill="#fff" stroke="#333" stroke-width="0.38"/>
<circle cx="993.29" cy="140.04" r="2.15" fill="#fff" stroke="#333" stroke-width="0.38"/>
<circle cx="996.18" cy="141.34" r="2.15" fill="#fff" stroke="#333" stroke-width="0.38"/>
<circle cx="999.07" cy="140.87" r="2.15" fill="#fff" stroke="#333" stroke-width="0.38"/>
<circle cx="1001.96" cy="141.4" r="2.15" fill="#fff" stroke="#333" stroke-width="0.38"/>
<circle cx="1004.86" cy="142.11" r="2.15" fill="#fff" stroke="#333" stroke-width="0.38"/>
<polyline points="812.4,142.58 812.9,142.56 813.4,142.53 813.9,142.51 814.4,142.48 814.9,142.45 815.4,142.43 815.9,142.4 816.4,142.36 816.9,142.33 817.4,142.3 817.9,142.26 818.4,142.23 818.9,142.19 819.4,142.16 819.9,142.12 820.4,142.08 820.9,142.04 821.4,142 821.9,141.96 822.4,141.92 822.9,141.88 823.4,141.83 823.9,141.79 824.4,141.74 824.9,141.7 825.4,141.65 825.9,141.61 826.4,141.56 826.9,141.51 827.4,141.47 827.9,141.41 828.4,141.36 828.9,141.31 829.4,141.25 829.9,141.2 830.4,141.14 830.9,141.08 831.4,141.02 831.9,140.95 832.4,140.89 832.9,140.83 833.4,140.76 833.9,140.69 834.4,140.63 834.9,140.56 835.4,140.49 835.9,140.42 836.4,140.34 836.9,140.27 837.4,140.2 837.9,140.12 838.4,140.05 838.9,139.97 839.4,139.89 839.9,139.82 840.4,139.74 840.9,139.66 841.4,139.58 841.9,139.5 842.4,139.43 842.9,139.35 843.4,139.27 843.9,139.19 844.4,139.11 844.9,139.02 845.4,138.94 845.9,138.85 846.4,138.76 846.9,138.67 847.4,138.58 847.9,138.48 848.4,138.38 848.9,138.28 849.4,138.17 849.9,138.06 850.4,137.95 850.9,137.83 851.4,137.71 851.9,137.59 852.4,137.45 852.9,137.32 853.4,137.18 853.9,137.03 854.4,136.88 854.9,136.71 855.4,136.54 855.9,136.35 856.4,136.16 856.9,135.95 857.4,135.73 857.9,135.49 858.4,135.25 858.9,134.99 859.4,134.71 859.9,134.43 860.4,134.13 860.9,133.81 861.4,133.48 861.9,133.13 862.4,132.77 862.9,132.39 863.4,132 863.9,131.58 864.4,131.14 864.9,130.61 865.4,130.02 865.9,129.36 866.4,128.64 866.9,127.85 867.4,127.02 867.9,126.12 868.4,125.19 868.9,124.2 869.4,123.13 869.9,121.88 870.4,120.48 870.9,118.97 871.4,117.37 871.9,115.71 872.4,114.02 872.9,112.33 873.4,110.63 873.9,108.85 874.4,106.99 874.9,105.08 875.4,103.15 875.9,101.21 876.4,99.27 876.9,97.37 877.4,95.48 877.9,93.51 878.4,91.53 878.9,89.57 879.4,87.68 879.9,85.91 880.4,84.3 880.9,82.82 881.4,81.37 881.9,79.96 882.4,78.65 882.9,77.47 883.4,76.45 883.9,75.63 884.4,74.98 884.9,74.35 885.4,73.74 885.9,73.2 886.4,72.73 886.9,72.36 887.4,72.11 887.9,72 888.4,72.03 888.9,72.15 889.4,72.34 889.9,72.6 890.4,72.9 890.9,73.23 891.4,73.58 891.9,73.93 892.4,74.31 892.9,74.79 893.4,75.34 893.9,75.94 894.4,76.57 894.9,77.2 895.4,77.82 895.9,78.39 896.4,78.93 896.9,79.47 897.4,80.02 897.9,80.57 898.4,81.1 898.9,81.63 899.4,82.13 899.9,82.6 900.4,83.03 900.9,83.43 901.4,83.8 901.9,84.18 902.4,84.56 902.9,84.94 903.4,85.31 903.9,85.65 904.4,85.95 904.9,86.2 905.4,86.41 905.9,86.54 906.4,86.6 906.9,86.59 907.4,86.56 907.9,86.5 908.4,86.42 908.9,86.32 909.4,86.2 909.9,86.07 910.4,85.92 910.9,85.77 911.4,85.6 911.9,85.43 912.4,85.24 912.9,84.97 913.4,84.64 913.9,84.27 914.4,83.86 914.9,83.42 915.4,82.98 915.9,82.53 916.4,82.09 916.9,81.68 917.4,81.28 917.9,80.86 918.4,80.42 918.9,79.97 919.4,79.53 919.9,79.1 920.4,78.69 920.9,78.3 921.4,77.95 921.9,77.65 922.4,77.38 922.9,77.11 923.4,76.84 923.9,76.58 924.4,76.36 924.9,76.18 925.4,76.06 925.9,76 926.4,76.03 926.9,76.14 927.4,76.32 927.9,76.57 928.4,76.86 928.9,77.2 929.4,77.55 929.9,77.93 930.4,78.34 930.9,78.89 931.4,79.54 931.9,80.29 932.4,81.12 932.9,82 933.4,82.92 933.9,83.86 934.4,84.81 934.9,85.78 935.4,86.84 935.9,87.98 936.4,89.17 936.9,90.41 937.4,91.68 937.9,92.96 938.4,94.25 938.9,95.52 939.4,96.76 939.9,97.98 940.4,99.21 940.9,100.46 941.4,101.71 941.9,102.96 942.4,104.2 942.9,105.42 943.4,106.61 943.9,107.77 944.4,108.91 944.9,110.03 945.4,111.15 945.9,112.25 946.4,113.32 946.9,114.35 947.4,115.36 947.9,116.31 948.4,117.24 948.9,118.15 949.4,119.04 949.9,119.92 950.4,120.77 950.9,121.59 951.4,122.37 951.9,123.12 952.4,123.82 952.9,124.48 953.4,125.09 953.9,125.68 954.4,126.26 954.9,126.81 955.4,127.35 955.9,127.87 956.4,128.38 956.9,128.86 957.4,129.32 957.9,129.76 958.4,130.19 958.9,130.59 959.4,130.97 959.9,131.33 960.4,131.67 960.9,132.01 961.4,132.34 961.9,132.66 962.4,132.97 962.9,133.28 963.4,133.58 963.9,133.87 964.4,134.15 964.9,134.42 965.4,134.68 965.9,134.94 966.4,135.18 966.9,135.41 967.4,135.63 967.9,135.84 968.4,136.04 968.9,136.23 969.4,136.4 969.9,136.57 970.4,136.72 970.9,136.87 971.4,137.02 971.9,137.16 972.4,137.3 972.9,137.43 973.4,137.57 973.9,137.69 974.4,137.82 974.9,137.94 975.4,138.05 975.9,138.17 976.4,138.28 976.9,138.39 977.4,138.49 977.9,138.59 978.4,138.69 978.9,138.78 979.4,138.88 979.9,138.97 980.4,139.05 980.9,139.14 981.4,139.22 981.9,139.3 982.4,139.37 982.9,139.45 983.4,139.52 983.9,139.59 984.4,139.65 984.9,139.72 985.4,139.79 985.9,139.86 986.4,139.92 986.9,139.99 987.4,140.05 987.9,140.12 988.4,140.18 988.9,140.24 989.4,140.31 989.9,140.37 990.4,140.43 990.9,140.49 991.4,140.55 991.9,140.61 992.4,140.67 992.9,140.72 993.4,140.78 993.9,140.83 994.4,140.88 994.9,140.93 995.4,140.98 995.9,141.03 996.4,141.08 996.9,141.12 997.4,141.17 997.9,141.21 998.4,141.25 998.9,141.29 999.4,141.33 999.9,141.36 1000.4,141.39 1000.9,141.43 1001.4,141.45 1001.9,141.48 1002.4,141.51 1002.9,141.53 1003.4,141.55 1003.9,141.57 1004.4,141.58 1004.9,141.6" fill="none" stroke="#000" stroke-width="1.45" stroke-dasharray="4.2 2.8"/>
</g>
<g clip-path="url(#clipc2)">
<path d="M812.4,247.4 L812.4,246.83 L812.9,246.82 L813.4,246.81 L813.9,246.8 L814.4,246.8 L814.9,246.79 L815.4,246.78 L815.9,246.77 L816.4,246.76 L816.9,246.75 L817.4,246.74 L817.9,246.74 L818.4,246.73 L818.9,246.72 L819.4,246.71 L819.9,246.7 L820.4,246.69 L820.9,246.68 L821.4,246.66 L821.9,246.65 L822.4,246.64 L822.9,246.63 L823.4,246.62 L823.9,246.61 L824.4,246.59 L824.9,246.58 L825.4,246.57 L825.9,246.56 L826.4,246.54 L826.9,246.53 L827.4,246.51 L827.9,246.5 L828.4,246.48 L828.9,246.47 L829.4,246.45 L829.9,246.44 L830.4,246.42 L830.9,246.4 L831.4,246.39 L831.9,246.37 L832.4,246.35 L832.9,246.33 L833.4,246.31 L833.9,246.29 L834.4,246.27 L834.9,246.25 L835.4,246.23 L835.9,246.21 L836.4,246.19 L836.9,246.16 L837.4,246.14 L837.9,246.11 L838.4,246.09 L838.9,246.06 L839.4,246.03 L839.9,246.01 L840.4,245.98 L840.9,245.95 L841.4,245.92 L841.9,245.89 L842.4,245.85 L842.9,245.82 L843.4,245.79 L843.9,245.75 L844.4,245.71 L844.9,245.67 L845.4,245.63 L845.9,245.59 L846.4,245.55 L846.9,245.5 L847.4,245.46 L847.9,245.41 L848.4,245.36 L848.9,245.31 L849.4,245.25 L849.9,245.19 L850.4,245.13 L850.9,245.07 L851.4,245 L851.9,244.93 L852.4,244.85 L852.9,244.77 L853.4,244.69 L853.9,244.6 L854.4,244.5 L854.9,244.4 L855.4,244.3 L855.9,244.18 L856.4,244.06 L856.9,243.93 L857.4,243.79 L857.9,243.64 L858.4,243.48 L858.9,243.31 L859.4,243.13 L859.9,242.94 L860.4,242.73 L860.9,242.51 L861.4,242.27 L861.9,242.01 L862.4,241.74 L862.9,241.45 L863.4,241.14 L863.9,240.8 L864.4,240.45 L864.9,240.07 L865.4,239.67 L865.9,239.24 L866.4,238.78 L866.9,238.3 L867.4,237.79 L867.9,237.25 L868.4,236.68 L868.9,236.08 L869.4,235.45 L869.9,234.79 L870.4,234.09 L870.9,233.37 L871.4,232.61 L871.9,231.82 L872.4,231 L872.9,230.15 L873.4,229.27 L873.9,228.36 L874.4,227.43 L874.9,226.47 L875.4,225.49 L875.9,224.49 L876.4,223.47 L876.9,222.44 L877.4,221.4 L877.9,220.35 L878.4,219.3 L878.9,218.26 L879.4,217.23 L879.9,216.22 L880.4,215.24 L880.9,214.29 L881.4,213.38 L881.9,212.52 L882.4,211.72 L882.9,210.98 L883.4,210.33 L883.9,209.76 L884.4,209.28 L884.9,208.9 L885.4,208.62 L885.9,208.46 L886.4,208.4 L886.9,208.46 L887.4,208.62 L887.9,208.9 L888.4,209.28 L888.9,209.76 L889.4,210.33 L889.9,210.98 L890.4,211.72 L890.9,212.52 L891.4,213.38 L891.9,214.29 L892.4,215.24 L892.9,216.22 L893.4,217.23 L893.9,218.26 L894.4,219.3 L894.9,220.35 L895.4,221.4 L895.9,222.44 L896.4,223.47 L896.9,224.49 L897.4,225.49 L897.9,226.47 L898.4,227.43 L898.9,228.36 L899.4,229.27 L899.9,230.15 L900.4,231 L900.9,231.82 L901.4,232.61 L901.9,233.37 L902.4,234.09 L902.9,234.79 L903.4,235.45 L903.9,236.08 L904.4,236.68 L904.9,237.25 L905.4,237.79 L905.9,238.3 L906.4,238.78 L906.9,239.24 L907.4,239.67 L907.9,240.07 L908.4,240.45 L908.9,240.8 L909.4,241.14 L909.9,241.45 L910.4,241.74 L910.9,242.01 L911.4,242.27 L911.9,242.51 L912.4,242.73 L912.9,242.94 L913.4,243.13 L913.9,243.31 L914.4,243.48 L914.9,243.64 L915.4,243.79 L915.9,243.93 L916.4,244.06 L916.9,244.18 L917.4,244.3 L917.9,244.4 L918.4,244.5 L918.9,244.6 L919.4,244.69 L919.9,244.77 L920.4,244.85 L920.9,244.93 L921.4,245 L921.9,245.07 L922.4,245.13 L922.9,245.19 L923.4,245.25 L923.9,245.31 L924.4,245.36 L924.9,245.41 L925.4,245.46 L925.9,245.5 L926.4,245.55 L926.9,245.59 L927.4,245.63 L927.9,245.67 L928.4,245.71 L928.9,245.75 L929.4,245.79 L929.9,245.82 L930.4,245.85 L930.9,245.89 L931.4,245.92 L931.9,245.95 L932.4,245.98 L932.9,246.01 L933.4,246.03 L933.9,246.06 L934.4,246.09 L934.9,246.11 L935.4,246.14 L935.9,246.16 L936.4,246.19 L936.9,246.21 L937.4,246.23 L937.9,246.25 L938.4,246.27 L938.9,246.29 L939.4,246.31 L939.9,246.33 L940.4,246.35 L940.9,246.37 L941.4,246.39 L941.9,246.4 L942.4,246.42 L942.9,246.44 L943.4,246.45 L943.9,246.47 L944.4,246.48 L944.9,246.5 L945.4,246.51 L945.9,246.53 L946.4,246.54 L946.9,246.56 L947.4,246.57 L947.9,246.58 L948.4,246.59 L948.9,246.61 L949.4,246.62 L949.9,246.63 L950.4,246.64 L950.9,246.65 L951.4,246.66 L951.9,246.68 L952.4,246.69 L952.9,246.7 L953.4,246.71 L953.9,246.72 L954.4,246.73 L954.9,246.74 L955.4,246.74 L955.9,246.75 L956.4,246.76 L956.9,246.77 L957.4,246.78 L957.9,246.79 L958.4,246.8 L958.9,246.8 L959.4,246.81 L959.9,246.82 L960.4,246.83 L960.9,246.84 L961.4,246.84 L961.9,246.85 L962.4,246.86 L962.9,246.86 L963.4,246.87 L963.9,246.88 L964.4,246.88 L964.9,246.89 L965.4,246.9 L965.9,246.9 L966.4,246.91 L966.9,246.91 L967.4,246.92 L967.9,246.93 L968.4,246.93 L968.9,246.94 L969.4,246.94 L969.9,246.95 L970.4,246.95 L970.9,246.96 L971.4,246.96 L971.9,246.97 L972.4,246.97 L972.9,246.98 L973.4,246.98 L973.9,246.99 L974.4,246.99 L974.9,247 L975.4,247 L975.9,247.01 L976.4,247.01 L976.9,247.01 L977.4,247.02 L977.9,247.02 L978.4,247.03 L978.9,247.03 L979.4,247.03 L979.9,247.04 L980.4,247.04 L980.9,247.05 L981.4,247.05 L981.9,247.05 L982.4,247.06 L982.9,247.06 L983.4,247.06 L983.9,247.07 L984.4,247.07 L984.9,247.07 L985.4,247.08 L985.9,247.08 L986.4,247.08 L986.9,247.09 L987.4,247.09 L987.9,247.09 L988.4,247.1 L988.9,247.1 L989.4,247.1 L989.9,247.1 L990.4,247.11 L990.9,247.11 L991.4,247.11 L991.9,247.11 L992.4,247.12 L992.9,247.12 L993.4,247.12 L993.9,247.13 L994.4,247.13 L994.9,247.13 L995.4,247.13 L995.9,247.13 L996.4,247.14 L996.9,247.14 L997.4,247.14 L997.9,247.14 L998.4,247.15 L998.9,247.15 L999.4,247.15 L999.9,247.15 L1000.4,247.16 L1000.9,247.16 L1001.4,247.16 L1001.9,247.16 L1002.4,247.16 L1002.9,247.17 L1003.4,247.17 L1003.9,247.17 L1004.4,247.17 L1004.9,247.17 L1005,247.4 Z" stroke="none" stroke-width="1" fill="url(#cg1)"/>
<polyline points="812.4,246.83 812.9,246.82 813.4,246.81 813.9,246.8 814.4,246.8 814.9,246.79 815.4,246.78 815.9,246.77 816.4,246.76 816.9,246.75 817.4,246.74 817.9,246.74 818.4,246.73 818.9,246.72 819.4,246.71 819.9,246.7 820.4,246.69 820.9,246.68 821.4,246.66 821.9,246.65 822.4,246.64 822.9,246.63 823.4,246.62 823.9,246.61 824.4,246.59 824.9,246.58 825.4,246.57 825.9,246.56 826.4,246.54 826.9,246.53 827.4,246.51 827.9,246.5 828.4,246.48 828.9,246.47 829.4,246.45 829.9,246.44 830.4,246.42 830.9,246.4 831.4,246.39 831.9,246.37 832.4,246.35 832.9,246.33 833.4,246.31 833.9,246.29 834.4,246.27 834.9,246.25 835.4,246.23 835.9,246.21 836.4,246.19 836.9,246.16 837.4,246.14 837.9,246.11 838.4,246.09 838.9,246.06 839.4,246.03 839.9,246.01 840.4,245.98 840.9,245.95 841.4,245.92 841.9,245.89 842.4,245.85 842.9,245.82 843.4,245.79 843.9,245.75 844.4,245.71 844.9,245.67 845.4,245.63 845.9,245.59 846.4,245.55 846.9,245.5 847.4,245.46 847.9,245.41 848.4,245.36 848.9,245.31 849.4,245.25 849.9,245.19 850.4,245.13 850.9,245.07 851.4,245 851.9,244.93 852.4,244.85 852.9,244.77 853.4,244.69 853.9,244.6 854.4,244.5 854.9,244.4 855.4,244.3 855.9,244.18 856.4,244.06 856.9,243.93 857.4,243.79 857.9,243.64 858.4,243.48 858.9,243.31 859.4,243.13 859.9,242.94 860.4,242.73 860.9,242.51 861.4,242.27 861.9,242.01 862.4,241.74 862.9,241.45 863.4,241.14 863.9,240.8 864.4,240.45 864.9,240.07 865.4,239.67 865.9,239.24 866.4,238.78 866.9,238.3 867.4,237.79 867.9,237.25 868.4,236.68 868.9,236.08 869.4,235.45 869.9,234.79 870.4,234.09 870.9,233.37 871.4,232.61 871.9,231.82 872.4,231 872.9,230.15 873.4,229.27 873.9,228.36 874.4,227.43 874.9,226.47 875.4,225.49 875.9,224.49 876.4,223.47 876.9,222.44 877.4,221.4 877.9,220.35 878.4,219.3 878.9,218.26 879.4,217.23 879.9,216.22 880.4,215.24 880.9,214.29 881.4,213.38 881.9,212.52 882.4,211.72 882.9,210.98 883.4,210.33 883.9,209.76 884.4,209.28 884.9,208.9 885.4,208.62 885.9,208.46 886.4,208.4 886.9,208.46 887.4,208.62 887.9,208.9 888.4,209.28 888.9,209.76 889.4,210.33 889.9,210.98 890.4,211.72 890.9,212.52 891.4,213.38 891.9,214.29 892.4,215.24 892.9,216.22 893.4,217.23 893.9,218.26 894.4,219.3 894.9,220.35 895.4,221.4 895.9,222.44 896.4,223.47 896.9,224.49 897.4,225.49 897.9,226.47 898.4,227.43 898.9,228.36 899.4,229.27 899.9,230.15 900.4,231 900.9,231.82 901.4,232.61 901.9,233.37 902.4,234.09 902.9,234.79 903.4,235.45 903.9,236.08 904.4,236.68 904.9,237.25 905.4,237.79 905.9,238.3 906.4,238.78 906.9,239.24 907.4,239.67 907.9,240.07 908.4,240.45 908.9,240.8 909.4,241.14 909.9,241.45 910.4,241.74 910.9,242.01 911.4,242.27 911.9,242.51 912.4,242.73 912.9,242.94 913.4,243.13 913.9,243.31 914.4,243.48 914.9,243.64 915.4,243.79 915.9,243.93 916.4,244.06 916.9,244.18 917.4,244.3 917.9,244.4 918.4,244.5 918.9,244.6 919.4,244.69 919.9,244.77 920.4,244.85 920.9,244.93 921.4,245 921.9,245.07 922.4,245.13 922.9,245.19 923.4,245.25 923.9,245.31 924.4,245.36 924.9,245.41 925.4,245.46 925.9,245.5 926.4,245.55 926.9,245.59 927.4,245.63 927.9,245.67 928.4,245.71 928.9,245.75 929.4,245.79 929.9,245.82 930.4,245.85 930.9,245.89 931.4,245.92 931.9,245.95 932.4,245.98 932.9,246.01 933.4,246.03 933.9,246.06 934.4,246.09 934.9,246.11 935.4,246.14 935.9,246.16 936.4,246.19 936.9,246.21 937.4,246.23 937.9,246.25 938.4,246.27 938.9,246.29 939.4,246.31 939.9,246.33 940.4,246.35 940.9,246.37 941.4,246.39 941.9,246.4 942.4,246.42 942.9,246.44 943.4,246.45 943.9,246.47 944.4,246.48 944.9,246.5 945.4,246.51 945.9,246.53 946.4,246.54 946.9,246.56 947.4,246.57 947.9,246.58 948.4,246.59 948.9,246.61 949.4,246.62 949.9,246.63 950.4,246.64 950.9,246.65 951.4,246.66 951.9,246.68 952.4,246.69 952.9,246.7 953.4,246.71 953.9,246.72 954.4,246.73 954.9,246.74 955.4,246.74 955.9,246.75 956.4,246.76 956.9,246.77 957.4,246.78 957.9,246.79 958.4,246.8 958.9,246.8 959.4,246.81 959.9,246.82 960.4,246.83 960.9,246.84 961.4,246.84 961.9,246.85 962.4,246.86 962.9,246.86 963.4,246.87 963.9,246.88 964.4,246.88 964.9,246.89 965.4,246.9 965.9,246.9 966.4,246.91 966.9,246.91 967.4,246.92 967.9,246.93 968.4,246.93 968.9,246.94 969.4,246.94 969.9,246.95 970.4,246.95 970.9,246.96 971.4,246.96 971.9,246.97 972.4,246.97 972.9,246.98 973.4,246.98 973.9,246.99 974.4,246.99 974.9,247 975.4,247 975.9,247.01 976.4,247.01 976.9,247.01 977.4,247.02 977.9,247.02 978.4,247.03 978.9,247.03 979.4,247.03 979.9,247.04 980.4,247.04 980.9,247.05 981.4,247.05 981.9,247.05 982.4,247.06 982.9,247.06 983.4,247.06 983.9,247.07 984.4,247.07 984.9,247.07 985.4,247.08 985.9,247.08 986.4,247.08 986.9,247.09 987.4,247.09 987.9,247.09 988.4,247.1 988.9,247.1 989.4,247.1 989.9,247.1 990.4,247.11 990.9,247.11 991.4,247.11 991.9,247.11 992.4,247.12 992.9,247.12 993.4,247.12 993.9,247.13 994.4,247.13 994.9,247.13 995.4,247.13 995.9,247.13 996.4,247.14 996.9,247.14 997.4,247.14 997.9,247.14 998.4,247.15 998.9,247.15 999.4,247.15 999.9,247.15 1000.4,247.16 1000.9,247.16 1001.4,247.16 1001.9,247.16 1002.4,247.16 1002.9,247.17 1003.4,247.17 1003.9,247.17 1004.4,247.17 1004.9,247.17" fill="none" stroke="#8c8c8c" stroke-width="1"/>
<path d="M812.4,247.4 L812.4,246.65 L812.9,246.64 L813.4,246.63 L813.9,246.63 L814.4,246.62 L814.9,246.61 L815.4,246.61 L815.9,246.6 L816.4,246.59 L816.9,246.58 L817.4,246.58 L817.9,246.57 L818.4,246.56 L818.9,246.55 L819.4,246.55 L819.9,246.54 L820.4,246.53 L820.9,246.52 L821.4,246.51 L821.9,246.5 L822.4,246.5 L822.9,246.49 L823.4,246.48 L823.9,246.47 L824.4,246.46 L824.9,246.45 L825.4,246.44 L825.9,246.43 L826.4,246.42 L826.9,246.41 L827.4,246.4 L827.9,246.39 L828.4,246.38 L828.9,246.37 L829.4,246.36 L829.9,246.35 L830.4,246.34 L830.9,246.33 L831.4,246.32 L831.9,246.31 L832.4,246.3 L832.9,246.28 L833.4,246.27 L833.9,246.26 L834.4,246.25 L834.9,246.23 L835.4,246.22 L835.9,246.21 L836.4,246.2 L836.9,246.18 L837.4,246.17 L837.9,246.16 L838.4,246.14 L838.9,246.13 L839.4,246.11 L839.9,246.1 L840.4,246.08 L840.9,246.07 L841.4,246.05 L841.9,246.04 L842.4,246.02 L842.9,246 L843.4,245.99 L843.9,245.97 L844.4,245.95 L844.9,245.94 L845.4,245.92 L845.9,245.9 L846.4,245.88 L846.9,245.86 L847.4,245.84 L847.9,245.83 L848.4,245.81 L848.9,245.79 L849.4,245.76 L849.9,245.74 L850.4,245.72 L850.9,245.7 L851.4,245.68 L851.9,245.66 L852.4,245.63 L852.9,245.61 L853.4,245.59 L853.9,245.56 L854.4,245.54 L854.9,245.51 L855.4,245.48 L855.9,245.46 L856.4,245.43 L856.9,245.4 L857.4,245.38 L857.9,245.35 L858.4,245.32 L858.9,245.29 L859.4,245.26 L859.9,245.23 L860.4,245.19 L860.9,245.16 L861.4,245.13 L861.9,245.09 L862.4,245.06 L862.9,245.02 L863.4,244.99 L863.9,244.95 L864.4,244.91 L864.9,244.87 L865.4,244.83 L865.9,244.79 L866.4,244.75 L866.9,244.7 L867.4,244.66 L867.9,244.61 L868.4,244.57 L868.9,244.52 L869.4,244.47 L869.9,244.42 L870.4,244.37 L870.9,244.31 L871.4,244.26 L871.9,244.2 L872.4,244.15 L872.9,244.09 L873.4,244.02 L873.9,243.96 L874.4,243.89 L874.9,243.83 L875.4,243.75 L875.9,243.68 L876.4,243.61 L876.9,243.53 L877.4,243.45 L877.9,243.36 L878.4,243.28 L878.9,243.18 L879.4,243.09 L879.9,242.99 L880.4,242.89 L880.9,242.78 L881.4,242.67 L881.9,242.55 L882.4,242.43 L882.9,242.3 L883.4,242.17 L883.9,242.03 L884.4,241.88 L884.9,241.73 L885.4,241.56 L885.9,241.39 L886.4,241.21 L886.9,241.02 L887.4,240.83 L887.9,240.62 L888.4,240.4 L888.9,240.16 L889.4,239.92 L889.9,239.66 L890.4,239.39 L890.9,239.1 L891.4,238.8 L891.9,238.48 L892.4,238.15 L892.9,237.8 L893.4,237.43 L893.9,237.04 L894.4,236.62 L894.9,236.19 L895.4,235.74 L895.9,235.26 L896.4,234.76 L896.9,234.23 L897.4,233.68 L897.9,233.11 L898.4,232.5 L898.9,231.87 L899.4,231.21 L899.9,230.52 L900.4,229.79 L900.9,229.04 L901.4,228.26 L901.9,227.45 L902.4,226.6 L902.9,225.72 L903.4,224.81 L903.9,223.86 L904.4,222.88 L904.9,221.87 L905.4,220.83 L905.9,219.75 L906.4,218.64 L906.9,217.5 L907.4,216.33 L907.9,215.13 L908.4,213.9 L908.9,212.65 L909.4,211.36 L909.9,210.05 L910.4,208.72 L910.9,207.37 L911.4,206 L911.9,204.61 L912.4,203.21 L912.9,201.8 L913.4,200.39 L913.9,198.97 L914.4,197.55 L914.9,196.14 L915.4,194.74 L915.9,193.36 L916.4,192 L916.9,190.67 L917.4,189.37 L917.9,188.11 L918.4,186.89 L918.9,185.74 L919.4,184.64 L919.9,183.61 L920.4,182.65 L920.9,181.78 L921.4,181 L921.9,180.31 L922.4,179.72 L922.9,179.23 L923.4,178.85 L923.9,178.59 L924.4,178.44 L924.9,178.4 L925.4,178.48 L925.9,178.68 L926.4,178.99 L926.9,179.41 L927.4,179.94 L927.9,180.57 L928.4,181.3 L928.9,182.12 L929.4,183.03 L929.9,184.01 L930.4,185.07 L930.9,186.19 L931.4,187.37 L931.9,188.6 L932.4,189.88 L932.9,191.2 L933.4,192.54 L933.9,193.91 L934.4,195.3 L934.9,196.71 L935.4,198.12 L935.9,199.54 L936.4,200.96 L936.9,202.37 L937.4,203.78 L937.9,205.17 L938.4,206.55 L938.9,207.91 L939.4,209.26 L939.9,210.58 L940.4,211.88 L940.9,213.15 L941.4,214.4 L941.9,215.62 L942.4,216.81 L942.9,217.96 L943.4,219.09 L943.9,220.19 L944.4,221.25 L944.9,222.28 L945.4,223.28 L945.9,224.24 L946.4,225.18 L946.9,226.07 L947.4,226.94 L947.9,227.77 L948.4,228.58 L948.9,229.35 L949.4,230.09 L949.9,230.8 L950.4,231.47 L950.9,232.12 L951.4,232.75 L951.9,233.34 L952.4,233.91 L952.9,234.45 L953.4,234.96 L953.9,235.46 L954.4,235.92 L954.9,236.37 L955.4,236.79 L955.9,237.19 L956.4,237.58 L956.9,237.94 L957.4,238.29 L957.9,238.61 L958.4,238.92 L958.9,239.22 L959.4,239.5 L959.9,239.77 L960.4,240.02 L960.9,240.26 L961.4,240.49 L961.9,240.7 L962.4,240.91 L962.9,241.1 L963.4,241.29 L963.9,241.46 L964.4,241.63 L964.9,241.79 L965.4,241.94 L965.9,242.09 L966.4,242.22 L966.9,242.35 L967.4,242.48 L967.9,242.6 L968.4,242.72 L968.9,242.83 L969.4,242.93 L969.9,243.03 L970.4,243.13 L970.9,243.22 L971.4,243.31 L971.9,243.4 L972.4,243.48 L972.9,243.56 L973.4,243.64 L973.9,243.71 L974.4,243.78 L974.9,243.85 L975.4,243.92 L975.9,243.99 L976.4,244.05 L976.9,244.11 L977.4,244.17 L977.9,244.23 L978.4,244.28 L978.9,244.34 L979.4,244.39 L979.9,244.44 L980.4,244.49 L980.9,244.54 L981.4,244.59 L981.9,244.63 L982.4,244.68 L982.9,244.72 L983.4,244.76 L983.9,244.81 L984.4,244.85 L984.9,244.89 L985.4,244.93 L985.9,244.96 L986.4,245 L986.9,245.04 L987.4,245.07 L987.9,245.11 L988.4,245.14 L988.9,245.17 L989.4,245.21 L989.9,245.24 L990.4,245.27 L990.9,245.3 L991.4,245.33 L991.9,245.36 L992.4,245.39 L992.9,245.41 L993.4,245.44 L993.9,245.47 L994.4,245.5 L994.9,245.52 L995.4,245.55 L995.9,245.57 L996.4,245.6 L996.9,245.62 L997.4,245.64 L997.9,245.67 L998.4,245.69 L998.9,245.71 L999.4,245.73 L999.9,245.75 L1000.4,245.77 L1000.9,245.79 L1001.4,245.81 L1001.9,245.83 L1002.4,245.85 L1002.9,245.87 L1003.4,245.89 L1003.9,245.91 L1004.4,245.93 L1004.9,245.94 L1005,247.4 Z" stroke="none" stroke-width="1" fill="url(#cg3)"/>
<polyline points="812.4,246.65 812.9,246.64 813.4,246.63 813.9,246.63 814.4,246.62 814.9,246.61 815.4,246.61 815.9,246.6 816.4,246.59 816.9,246.58 817.4,246.58 817.9,246.57 818.4,246.56 818.9,246.55 819.4,246.55 819.9,246.54 820.4,246.53 820.9,246.52 821.4,246.51 821.9,246.5 822.4,246.5 822.9,246.49 823.4,246.48 823.9,246.47 824.4,246.46 824.9,246.45 825.4,246.44 825.9,246.43 826.4,246.42 826.9,246.41 827.4,246.4 827.9,246.39 828.4,246.38 828.9,246.37 829.4,246.36 829.9,246.35 830.4,246.34 830.9,246.33 831.4,246.32 831.9,246.31 832.4,246.3 832.9,246.28 833.4,246.27 833.9,246.26 834.4,246.25 834.9,246.23 835.4,246.22 835.9,246.21 836.4,246.2 836.9,246.18 837.4,246.17 837.9,246.16 838.4,246.14 838.9,246.13 839.4,246.11 839.9,246.1 840.4,246.08 840.9,246.07 841.4,246.05 841.9,246.04 842.4,246.02 842.9,246 843.4,245.99 843.9,245.97 844.4,245.95 844.9,245.94 845.4,245.92 845.9,245.9 846.4,245.88 846.9,245.86 847.4,245.84 847.9,245.83 848.4,245.81 848.9,245.79 849.4,245.76 849.9,245.74 850.4,245.72 850.9,245.7 851.4,245.68 851.9,245.66 852.4,245.63 852.9,245.61 853.4,245.59 853.9,245.56 854.4,245.54 854.9,245.51 855.4,245.48 855.9,245.46 856.4,245.43 856.9,245.4 857.4,245.38 857.9,245.35 858.4,245.32 858.9,245.29 859.4,245.26 859.9,245.23 860.4,245.19 860.9,245.16 861.4,245.13 861.9,245.09 862.4,245.06 862.9,245.02 863.4,244.99 863.9,244.95 864.4,244.91 864.9,244.87 865.4,244.83 865.9,244.79 866.4,244.75 866.9,244.7 867.4,244.66 867.9,244.61 868.4,244.57 868.9,244.52 869.4,244.47 869.9,244.42 870.4,244.37 870.9,244.31 871.4,244.26 871.9,244.2 872.4,244.15 872.9,244.09 873.4,244.02 873.9,243.96 874.4,243.89 874.9,243.83 875.4,243.75 875.9,243.68 876.4,243.61 876.9,243.53 877.4,243.45 877.9,243.36 878.4,243.28 878.9,243.18 879.4,243.09 879.9,242.99 880.4,242.89 880.9,242.78 881.4,242.67 881.9,242.55 882.4,242.43 882.9,242.3 883.4,242.17 883.9,242.03 884.4,241.88 884.9,241.73 885.4,241.56 885.9,241.39 886.4,241.21 886.9,241.02 887.4,240.83 887.9,240.62 888.4,240.4 888.9,240.16 889.4,239.92 889.9,239.66 890.4,239.39 890.9,239.1 891.4,238.8 891.9,238.48 892.4,238.15 892.9,237.8 893.4,237.43 893.9,237.04 894.4,236.62 894.9,236.19 895.4,235.74 895.9,235.26 896.4,234.76 896.9,234.23 897.4,233.68 897.9,233.11 898.4,232.5 898.9,231.87 899.4,231.21 899.9,230.52 900.4,229.79 900.9,229.04 901.4,228.26 901.9,227.45 902.4,226.6 902.9,225.72 903.4,224.81 903.9,223.86 904.4,222.88 904.9,221.87 905.4,220.83 905.9,219.75 906.4,218.64 906.9,217.5 907.4,216.33 907.9,215.13 908.4,213.9 908.9,212.65 909.4,211.36 909.9,210.05 910.4,208.72 910.9,207.37 911.4,206 911.9,204.61 912.4,203.21 912.9,201.8 913.4,200.39 913.9,198.97 914.4,197.55 914.9,196.14 915.4,194.74 915.9,193.36 916.4,192 916.9,190.67 917.4,189.37 917.9,188.11 918.4,186.89 918.9,185.74 919.4,184.64 919.9,183.61 920.4,182.65 920.9,181.78 921.4,181 921.9,180.31 922.4,179.72 922.9,179.23 923.4,178.85 923.9,178.59 924.4,178.44 924.9,178.4 925.4,178.48 925.9,178.68 926.4,178.99 926.9,179.41 927.4,179.94 927.9,180.57 928.4,181.3 928.9,182.12 929.4,183.03 929.9,184.01 930.4,185.07 930.9,186.19 931.4,187.37 931.9,188.6 932.4,189.88 932.9,191.2 933.4,192.54 933.9,193.91 934.4,195.3 934.9,196.71 935.4,198.12 935.9,199.54 936.4,200.96 936.9,202.37 937.4,203.78 937.9,205.17 938.4,206.55 938.9,207.91 939.4,209.26 939.9,210.58 940.4,211.88 940.9,213.15 941.4,214.4 941.9,215.62 942.4,216.81 942.9,217.96 943.4,219.09 943.9,220.19 944.4,221.25 944.9,222.28 945.4,223.28 945.9,224.24 946.4,225.18 946.9,226.07 947.4,226.94 947.9,227.77 948.4,228.58 948.9,229.35 949.4,230.09 949.9,230.8 950.4,231.47 950.9,232.12 951.4,232.75 951.9,233.34 952.4,233.91 952.9,234.45 953.4,234.96 953.9,235.46 954.4,235.92 954.9,236.37 955.4,236.79 955.9,237.19 956.4,237.58 956.9,237.94 957.4,238.29 957.9,238.61 958.4,238.92 958.9,239.22 959.4,239.5 959.9,239.77 960.4,240.02 960.9,240.26 961.4,240.49 961.9,240.7 962.4,240.91 962.9,241.1 963.4,241.29 963.9,241.46 964.4,241.63 964.9,241.79 965.4,241.94 965.9,242.09 966.4,242.22 966.9,242.35 967.4,242.48 967.9,242.6 968.4,242.72 968.9,242.83 969.4,242.93 969.9,243.03 970.4,243.13 970.9,243.22 971.4,243.31 971.9,243.4 972.4,243.48 972.9,243.56 973.4,243.64 973.9,243.71 974.4,243.78 974.9,243.85 975.4,243.92 975.9,243.99 976.4,244.05 976.9,244.11 977.4,244.17 977.9,244.23 978.4,244.28 978.9,244.34 979.4,244.39 979.9,244.44 980.4,244.49 980.9,244.54 981.4,244.59 981.9,244.63 982.4,244.68 982.9,244.72 983.4,244.76 983.9,244.81 984.4,244.85 984.9,244.89 985.4,244.93 985.9,244.96 986.4,245 986.9,245.04 987.4,245.07 987.9,245.11 988.4,245.14 988.9,245.17 989.4,245.21 989.9,245.24 990.4,245.27 990.9,245.3 991.4,245.33 991.9,245.36 992.4,245.39 992.9,245.41 993.4,245.44 993.9,245.47 994.4,245.5 994.9,245.52 995.4,245.55 995.9,245.57 996.4,245.6 996.9,245.62 997.4,245.64 997.9,245.67 998.4,245.69 998.9,245.71 999.4,245.73 999.9,245.75 1000.4,245.77 1000.9,245.79 1001.4,245.81 1001.9,245.83 1002.4,245.85 1002.9,245.87 1003.4,245.89 1003.9,245.91 1004.4,245.93 1004.9,245.94" fill="none" stroke="#f0a46a" stroke-width="1"/>
<path d="M812.4,247.4 L812.4,247.1 L812.9,247.09 L813.4,247.09 L813.9,247.09 L814.4,247.08 L814.9,247.08 L815.4,247.08 L815.9,247.07 L816.4,247.07 L816.9,247.06 L817.4,247.06 L817.9,247.06 L818.4,247.05 L818.9,247.05 L819.4,247.04 L819.9,247.04 L820.4,247.04 L820.9,247.03 L821.4,247.03 L821.9,247.02 L822.4,247.02 L822.9,247.01 L823.4,247.01 L823.9,247.01 L824.4,247 L824.9,247 L825.4,246.99 L825.9,246.99 L826.4,246.98 L826.9,246.98 L827.4,246.97 L827.9,246.96 L828.4,246.96 L828.9,246.95 L829.4,246.95 L829.9,246.94 L830.4,246.94 L830.9,246.93 L831.4,246.92 L831.9,246.92 L832.4,246.91 L832.9,246.9 L833.4,246.9 L833.9,246.89 L834.4,246.88 L834.9,246.88 L835.4,246.87 L835.9,246.86 L836.4,246.85 L836.9,246.85 L837.4,246.84 L837.9,246.83 L838.4,246.82 L838.9,246.81 L839.4,246.8 L839.9,246.8 L840.4,246.79 L840.9,246.78 L841.4,246.77 L841.9,246.76 L842.4,246.75 L842.9,246.74 L843.4,246.73 L843.9,246.72 L844.4,246.71 L844.9,246.7 L845.4,246.68 L845.9,246.67 L846.4,246.66 L846.9,246.65 L847.4,246.64 L847.9,246.62 L848.4,246.61 L848.9,246.6 L849.4,246.58 L849.9,246.57 L850.4,246.55 L850.9,246.54 L851.4,246.52 L851.9,246.51 L852.4,246.49 L852.9,246.47 L853.4,246.45 L853.9,246.44 L854.4,246.42 L854.9,246.4 L855.4,246.38 L855.9,246.35 L856.4,246.33 L856.9,246.31 L857.4,246.29 L857.9,246.26 L858.4,246.24 L858.9,246.21 L859.4,246.18 L859.9,246.15 L860.4,246.12 L860.9,246.09 L861.4,246.06 L861.9,246.02 L862.4,245.99 L862.9,245.95 L863.4,245.91 L863.9,245.87 L864.4,245.83 L864.9,245.78 L865.4,245.73 L865.9,245.69 L866.4,245.63 L866.9,245.58 L867.4,245.52 L867.9,245.46 L868.4,245.4 L868.9,245.33 L869.4,245.26 L869.9,245.19 L870.4,245.11 L870.9,245.03 L871.4,244.95 L871.9,244.86 L872.4,244.77 L872.9,244.67 L873.4,244.57 L873.9,244.46 L874.4,244.35 L874.9,244.23 L875.4,244.11 L875.9,243.98 L876.4,243.84 L876.9,243.7 L877.4,243.56 L877.9,243.41 L878.4,243.25 L878.9,243.08 L879.4,242.91 L879.9,242.73 L880.4,242.55 L880.9,242.36 L881.4,242.16 L881.9,241.95 L882.4,241.74 L882.9,241.52 L883.4,241.29 L883.9,241.06 L884.4,240.82 L884.9,240.57 L885.4,240.32 L885.9,240.05 L886.4,239.79 L886.9,239.51 L887.4,239.23 L887.9,238.94 L888.4,238.65 L888.9,238.36 L889.4,238.05 L889.9,237.75 L890.4,237.44 L890.9,237.13 L891.4,236.81 L891.9,236.5 L892.4,236.18 L892.9,235.86 L893.4,235.54 L893.9,235.23 L894.4,234.92 L894.9,234.61 L895.4,234.31 L895.9,234.01 L896.4,233.73 L896.9,233.45 L897.4,233.18 L897.9,232.93 L898.4,232.69 L898.9,232.47 L899.4,232.27 L899.9,232.08 L900.4,231.91 L900.9,231.77 L901.4,231.65 L901.9,231.55 L902.4,231.47 L902.9,231.43 L903.4,231.4 L903.9,231.4 L904.4,231.43 L904.9,231.49 L905.4,231.57 L905.9,231.67 L906.4,231.8 L906.9,231.94 L907.4,232.11 L907.9,232.3 L908.4,232.51 L908.9,232.74 L909.4,232.98 L909.9,233.24 L910.4,233.5 L910.9,233.78 L911.4,234.07 L911.9,234.37 L912.4,234.67 L912.9,234.98 L913.4,235.29 L913.9,235.61 L914.4,235.92 L914.9,236.24 L915.4,236.56 L915.9,236.88 L916.4,237.19 L916.9,237.5 L917.4,237.81 L917.9,238.12 L918.4,238.42 L918.9,238.71 L919.4,239 L919.9,239.29 L920.4,239.57 L920.9,239.84 L921.4,240.11 L921.9,240.37 L922.4,240.62 L922.9,240.87 L923.4,241.11 L923.9,241.34 L924.4,241.57 L924.9,241.78 L925.4,241.99 L925.9,242.2 L926.4,242.4 L926.9,242.59 L927.4,242.77 L927.9,242.95 L928.4,243.12 L928.9,243.28 L929.4,243.44 L929.9,243.59 L930.4,243.73 L930.9,243.87 L931.4,244 L931.9,244.13 L932.4,244.25 L932.9,244.37 L933.4,244.48 L933.9,244.59 L934.4,244.69 L934.9,244.78 L935.4,244.88 L935.9,244.96 L936.4,245.05 L936.9,245.13 L937.4,245.2 L937.9,245.28 L938.4,245.34 L938.9,245.41 L939.4,245.47 L939.9,245.53 L940.4,245.59 L940.9,245.64 L941.4,245.7 L941.9,245.74 L942.4,245.79 L942.9,245.84 L943.4,245.88 L943.9,245.92 L944.4,245.96 L944.9,246 L945.4,246.03 L945.9,246.06 L946.4,246.1 L946.9,246.13 L947.4,246.16 L947.9,246.19 L948.4,246.21 L948.9,246.24 L949.4,246.27 L949.9,246.29 L950.4,246.31 L950.9,246.34 L951.4,246.36 L951.9,246.38 L952.4,246.4 L952.9,246.42 L953.4,246.44 L953.9,246.46 L954.4,246.47 L954.9,246.49 L955.4,246.51 L955.9,246.52 L956.4,246.54 L956.9,246.56 L957.4,246.57 L957.9,246.58 L958.4,246.6 L958.9,246.61 L959.4,246.63 L959.9,246.64 L960.4,246.65 L960.9,246.66 L961.4,246.68 L961.9,246.69 L962.4,246.7 L962.9,246.71 L963.4,246.72 L963.9,246.73 L964.4,246.74 L964.9,246.75 L965.4,246.76 L965.9,246.77 L966.4,246.78 L966.9,246.79 L967.4,246.8 L967.9,246.81 L968.4,246.82 L968.9,246.82 L969.4,246.83 L969.9,246.84 L970.4,246.85 L970.9,246.86 L971.4,246.86 L971.9,246.87 L972.4,246.88 L972.9,246.88 L973.4,246.89 L973.9,246.9 L974.4,246.91 L974.9,246.91 L975.4,246.92 L975.9,246.92 L976.4,246.93 L976.9,246.94 L977.4,246.94 L977.9,246.95 L978.4,246.95 L978.9,246.96 L979.4,246.97 L979.9,246.97 L980.4,246.98 L980.9,246.98 L981.4,246.99 L981.9,246.99 L982.4,247 L982.9,247 L983.4,247.01 L983.9,247.01 L984.4,247.02 L984.9,247.02 L985.4,247.02 L985.9,247.03 L986.4,247.03 L986.9,247.04 L987.4,247.04 L987.9,247.05 L988.4,247.05 L988.9,247.05 L989.4,247.06 L989.9,247.06 L990.4,247.07 L990.9,247.07 L991.4,247.07 L991.9,247.08 L992.4,247.08 L992.9,247.08 L993.4,247.09 L993.9,247.09 L994.4,247.09 L994.9,247.1 L995.4,247.1 L995.9,247.1 L996.4,247.11 L996.9,247.11 L997.4,247.11 L997.9,247.11 L998.4,247.12 L998.9,247.12 L999.4,247.12 L999.9,247.13 L1000.4,247.13 L1000.9,247.13 L1001.4,247.13 L1001.9,247.14 L1002.4,247.14 L1002.9,247.14 L1003.4,247.14 L1003.9,247.15 L1004.4,247.15 L1004.9,247.15 L1005,247.4 Z" stroke="none" stroke-width="1" fill="url(#cg2)"/>
<polyline points="812.4,247.1 812.9,247.09 813.4,247.09 813.9,247.09 814.4,247.08 814.9,247.08 815.4,247.08 815.9,247.07 816.4,247.07 816.9,247.06 817.4,247.06 817.9,247.06 818.4,247.05 818.9,247.05 819.4,247.04 819.9,247.04 820.4,247.04 820.9,247.03 821.4,247.03 821.9,247.02 822.4,247.02 822.9,247.01 823.4,247.01 823.9,247.01 824.4,247 824.9,247 825.4,246.99 825.9,246.99 826.4,246.98 826.9,246.98 827.4,246.97 827.9,246.96 828.4,246.96 828.9,246.95 829.4,246.95 829.9,246.94 830.4,246.94 830.9,246.93 831.4,246.92 831.9,246.92 832.4,246.91 832.9,246.9 833.4,246.9 833.9,246.89 834.4,246.88 834.9,246.88 835.4,246.87 835.9,246.86 836.4,246.85 836.9,246.85 837.4,246.84 837.9,246.83 838.4,246.82 838.9,246.81 839.4,246.8 839.9,246.8 840.4,246.79 840.9,246.78 841.4,246.77 841.9,246.76 842.4,246.75 842.9,246.74 843.4,246.73 843.9,246.72 844.4,246.71 844.9,246.7 845.4,246.68 845.9,246.67 846.4,246.66 846.9,246.65 847.4,246.64 847.9,246.62 848.4,246.61 848.9,246.6 849.4,246.58 849.9,246.57 850.4,246.55 850.9,246.54 851.4,246.52 851.9,246.51 852.4,246.49 852.9,246.47 853.4,246.45 853.9,246.44 854.4,246.42 854.9,246.4 855.4,246.38 855.9,246.35 856.4,246.33 856.9,246.31 857.4,246.29 857.9,246.26 858.4,246.24 858.9,246.21 859.4,246.18 859.9,246.15 860.4,246.12 860.9,246.09 861.4,246.06 861.9,246.02 862.4,245.99 862.9,245.95 863.4,245.91 863.9,245.87 864.4,245.83 864.9,245.78 865.4,245.73 865.9,245.69 866.4,245.63 866.9,245.58 867.4,245.52 867.9,245.46 868.4,245.4 868.9,245.33 869.4,245.26 869.9,245.19 870.4,245.11 870.9,245.03 871.4,244.95 871.9,244.86 872.4,244.77 872.9,244.67 873.4,244.57 873.9,244.46 874.4,244.35 874.9,244.23 875.4,244.11 875.9,243.98 876.4,243.84 876.9,243.7 877.4,243.56 877.9,243.41 878.4,243.25 878.9,243.08 879.4,242.91 879.9,242.73 880.4,242.55 880.9,242.36 881.4,242.16 881.9,241.95 882.4,241.74 882.9,241.52 883.4,241.29 883.9,241.06 884.4,240.82 884.9,240.57 885.4,240.32 885.9,240.05 886.4,239.79 886.9,239.51 887.4,239.23 887.9,238.94 888.4,238.65 888.9,238.36 889.4,238.05 889.9,237.75 890.4,237.44 890.9,237.13 891.4,236.81 891.9,236.5 892.4,236.18 892.9,235.86 893.4,235.54 893.9,235.23 894.4,234.92 894.9,234.61 895.4,234.31 895.9,234.01 896.4,233.73 896.9,233.45 897.4,233.18 897.9,232.93 898.4,232.69 898.9,232.47 899.4,232.27 899.9,232.08 900.4,231.91 900.9,231.77 901.4,231.65 901.9,231.55 902.4,231.47 902.9,231.43 903.4,231.4 903.9,231.4 904.4,231.43 904.9,231.49 905.4,231.57 905.9,231.67 906.4,231.8 906.9,231.94 907.4,232.11 907.9,232.3 908.4,232.51 908.9,232.74 909.4,232.98 909.9,233.24 910.4,233.5 910.9,233.78 911.4,234.07 911.9,234.37 912.4,234.67 912.9,234.98 913.4,235.29 913.9,235.61 914.4,235.92 914.9,236.24 915.4,236.56 915.9,236.88 916.4,237.19 916.9,237.5 917.4,237.81 917.9,238.12 918.4,238.42 918.9,238.71 919.4,239 919.9,239.29 920.4,239.57 920.9,239.84 921.4,240.11 921.9,240.37 922.4,240.62 922.9,240.87 923.4,241.11 923.9,241.34 924.4,241.57 924.9,241.78 925.4,241.99 925.9,242.2 926.4,242.4 926.9,242.59 927.4,242.77 927.9,242.95 928.4,243.12 928.9,243.28 929.4,243.44 929.9,243.59 930.4,243.73 930.9,243.87 931.4,244 931.9,244.13 932.4,244.25 932.9,244.37 933.4,244.48 933.9,244.59 934.4,244.69 934.9,244.78 935.4,244.88 935.9,244.96 936.4,245.05 936.9,245.13 937.4,245.2 937.9,245.28 938.4,245.34 938.9,245.41 939.4,245.47 939.9,245.53 940.4,245.59 940.9,245.64 941.4,245.7 941.9,245.74 942.4,245.79 942.9,245.84 943.4,245.88 943.9,245.92 944.4,245.96 944.9,246 945.4,246.03 945.9,246.06 946.4,246.1 946.9,246.13 947.4,246.16 947.9,246.19 948.4,246.21 948.9,246.24 949.4,246.27 949.9,246.29 950.4,246.31 950.9,246.34 951.4,246.36 951.9,246.38 952.4,246.4 952.9,246.42 953.4,246.44 953.9,246.46 954.4,246.47 954.9,246.49 955.4,246.51 955.9,246.52 956.4,246.54 956.9,246.56 957.4,246.57 957.9,246.58 958.4,246.6 958.9,246.61 959.4,246.63 959.9,246.64 960.4,246.65 960.9,246.66 961.4,246.68 961.9,246.69 962.4,246.7 962.9,246.71 963.4,246.72 963.9,246.73 964.4,246.74 964.9,246.75 965.4,246.76 965.9,246.77 966.4,246.78 966.9,246.79 967.4,246.8 967.9,246.81 968.4,246.82 968.9,246.82 969.4,246.83 969.9,246.84 970.4,246.85 970.9,246.86 971.4,246.86 971.9,246.87 972.4,246.88 972.9,246.88 973.4,246.89 973.9,246.9 974.4,246.91 974.9,246.91 975.4,246.92 975.9,246.92 976.4,246.93 976.9,246.94 977.4,246.94 977.9,246.95 978.4,246.95 978.9,246.96 979.4,246.97 979.9,246.97 980.4,246.98 980.9,246.98 981.4,246.99 981.9,246.99 982.4,247 982.9,247 983.4,247.01 983.9,247.01 984.4,247.02 984.9,247.02 985.4,247.02 985.9,247.03 986.4,247.03 986.9,247.04 987.4,247.04 987.9,247.05 988.4,247.05 988.9,247.05 989.4,247.06 989.9,247.06 990.4,247.07 990.9,247.07 991.4,247.07 991.9,247.08 992.4,247.08 992.9,247.08 993.4,247.09 993.9,247.09 994.4,247.09 994.9,247.1 995.4,247.1 995.9,247.1 996.4,247.11 996.9,247.11 997.4,247.11 997.9,247.11 998.4,247.12 998.9,247.12 999.4,247.12 999.9,247.13 1000.4,247.13 1000.9,247.13 1001.4,247.13 1001.9,247.14 1002.4,247.14 1002.9,247.14 1003.4,247.14 1003.9,247.15 1004.4,247.15 1004.9,247.15" fill="none" stroke="#2a9d8f" stroke-width="1"/>
<circle cx="812.9" cy="245.96" r="2.15" fill="#fff" stroke="#333" stroke-width="0.38"/>
<circle cx="815.8" cy="246.32" r="2.15" fill="#fff" stroke="#333" stroke-width="0.38"/>
<circle cx="818.7" cy="248.07" r="2.15" fill="#fff" stroke="#333" stroke-width="0.38"/>
<circle cx="821.59" cy="246.96" r="2.15" fill="#fff" stroke="#333" stroke-width="0.38"/>
<circle cx="824.49" cy="245.16" r="2.15" fill="#fff" stroke="#333" stroke-width="0.38"/>
<circle cx="827.38" cy="245.87" r="2.15" fill="#fff" stroke="#333" stroke-width="0.38"/>
<circle cx="830.27" cy="246.13" r="2.15" fill="#fff" stroke="#333" stroke-width="0.38"/>
<circle cx="833.16" cy="246.39" r="2.15" fill="#fff" stroke="#333" stroke-width="0.38"/>
<circle cx="836.05" cy="245.33" r="2.15" fill="#fff" stroke="#333" stroke-width="0.38"/>
<circle cx="838.94" cy="244.51" r="2.15" fill="#fff" stroke="#333" stroke-width="0.38"/>
<circle cx="841.81" cy="243.98" r="2.15" fill="#fff" stroke="#333" stroke-width="0.38"/>
<circle cx="844.68" cy="244.56" r="2.15" fill="#fff" stroke="#333" stroke-width="0.38"/>
<circle cx="847.53" cy="243.77" r="2.15" fill="#fff" stroke="#333" stroke-width="0.38"/>
<circle cx="850.36" cy="242.53" r="2.15" fill="#fff" stroke="#333" stroke-width="0.38"/>
<circle cx="853.13" cy="241.92" r="2.15" fill="#fff" stroke="#333" stroke-width="0.38"/>
<circle cx="855.8" cy="240.62" r="2.15" fill="#fff" stroke="#333" stroke-width="0.38"/>
<circle cx="858.37" cy="240.14" r="2.15" fill="#fff" stroke="#333" stroke-width="0.38"/>
<circle cx="860.85" cy="237.58" r="2.15" fill="#fff" stroke="#333" stroke-width="0.38"/>
<circle cx="863.13" cy="236.67" r="2.15" fill="#fff" stroke="#333" stroke-width="0.38"/>
<circle cx="865.14" cy="234.85" r="2.15" fill="#fff" stroke="#333" stroke-width="0.38"/>
<circle cx="867" cy="232.36" r="2.15" fill="#fff" stroke="#333" stroke-width="0.38"/>
<circle cx="868.71" cy="229.02" r="2.15" fill="#fff" stroke="#333" stroke-width="0.38"/>
<circle cx="870.24" cy="228.2" r="2.15" fill="#fff" stroke="#333" stroke-width="0.38"/>
<circle cx="871.65" cy="224.15" r="2.15" fill="#fff" stroke="#333" stroke-width="0.38"/>
<circle cx="872.94" cy="222.38" r="2.15" fill="#fff" stroke="#333" stroke-width="0.38"/>
<circle cx="874.1" cy="218.83" r="2.15" fill="#fff" stroke="#333" stroke-width="0.38"/>
<circle cx="875.18" cy="215.4" r="2.15" fill="#fff" stroke="#333" stroke-width="0.38"/>
<circle cx="876.26" cy="214.19" r="2.15" fill="#fff" stroke="#333" stroke-width="0.38"/>
<circle cx="877.36" cy="211.55" r="2.15" fill="#fff" stroke="#333" stroke-width="0.38"/>
<circle cx="878.47" cy="208.6" r="2.15" fill="#fff" stroke="#333" stroke-width="0.38"/>
<circle cx="879.56" cy="206.18" r="2.15" fill="#fff" stroke="#333" stroke-width="0.38"/>
<circle cx="880.68" cy="202.81" r="2.15" fill="#fff" stroke="#333" stroke-width="0.38"/>
<circle cx="881.89" cy="200.1" r="2.15" fill="#fff" stroke="#333" stroke-width="0.38"/>
<circle cx="883.29" cy="197.99" r="2.15" fill="#fff" stroke="#333" stroke-width="0.38"/>
<circle cx="884.8" cy="197.08" r="2.15" fill="#fff" stroke="#333" stroke-width="0.38"/>
<circle cx="886.59" cy="193.98" r="2.15" fill="#fff" stroke="#333" stroke-width="0.38"/>
<circle cx="888.82" cy="191.12" r="2.15" fill="#fff" stroke="#333" stroke-width="0.38"/>
<circle cx="891.5" cy="191.03" r="2.15" fill="#fff" stroke="#333" stroke-width="0.38"/>
<circle cx="894.38" cy="190.49" r="2.15" fill="#fff" stroke="#333" stroke-width="0.38"/>
<circle cx="897.14" cy="191.3" r="2.15" fill="#fff" stroke="#333" stroke-width="0.38"/>
<circle cx="899.73" cy="193.57" r="2.15" fill="#fff" stroke="#333" stroke-width="0.38"/>
<circle cx="902.58" cy="192.2" r="2.15" fill="#fff" stroke="#333" stroke-width="0.38"/>
<circle cx="905.25" cy="190.22" r="2.15" fill="#fff" stroke="#333" stroke-width="0.38"/>
<circle cx="907.42" cy="188.88" r="2.15" fill="#fff" stroke="#333" stroke-width="0.38"/>
<circle cx="909.26" cy="187.39" r="2.15" fill="#fff" stroke="#333" stroke-width="0.38"/>
<circle cx="911.04" cy="185.13" r="2.15" fill="#fff" stroke="#333" stroke-width="0.38"/>
<circle cx="912.65" cy="183.56" r="2.15" fill="#fff" stroke="#333" stroke-width="0.38"/>
<circle cx="914.21" cy="179.65" r="2.15" fill="#fff" stroke="#333" stroke-width="0.38"/>
<circle cx="915.86" cy="178.34" r="2.15" fill="#fff" stroke="#333" stroke-width="0.38"/>
<circle cx="917.56" cy="175.77" r="2.15" fill="#fff" stroke="#333" stroke-width="0.38"/>
<circle cx="919.3" cy="173.01" r="2.15" fill="#fff" stroke="#333" stroke-width="0.38"/>
<circle cx="921.36" cy="171.72" r="2.15" fill="#fff" stroke="#333" stroke-width="0.38"/>
<circle cx="923.86" cy="170" r="2.15" fill="#fff" stroke="#333" stroke-width="0.38"/>
<circle cx="926.66" cy="168.79" r="2.15" fill="#fff" stroke="#333" stroke-width="0.38"/>
<circle cx="928.99" cy="171.94" r="2.15" fill="#fff" stroke="#333" stroke-width="0.38"/>
<circle cx="930.79" cy="172.47" r="2.15" fill="#fff" stroke="#333" stroke-width="0.38"/>
<circle cx="932.05" cy="176.04" r="2.15" fill="#fff" stroke="#333" stroke-width="0.38"/>
<circle cx="933.16" cy="178.68" r="2.15" fill="#fff" stroke="#333" stroke-width="0.38"/>
<circle cx="934.24" cy="181.69" r="2.15" fill="#fff" stroke="#333" stroke-width="0.38"/>
<circle cx="935.31" cy="183.52" r="2.15" fill="#fff" stroke="#333" stroke-width="0.38"/>
<circle cx="936.28" cy="186.77" r="2.15" fill="#fff" stroke="#333" stroke-width="0.38"/>
<circle cx="937.21" cy="189.44" r="2.15" fill="#fff" stroke="#333" stroke-width="0.38"/>
<circle cx="938.13" cy="193.04" r="2.15" fill="#fff" stroke="#333" stroke-width="0.38"/>
<circle cx="939.06" cy="194.44" r="2.15" fill="#fff" stroke="#333" stroke-width="0.38"/>
<circle cx="940.06" cy="197.81" r="2.15" fill="#fff" stroke="#333" stroke-width="0.38"/>
<circle cx="941.11" cy="200.27" r="2.15" fill="#fff" stroke="#333" stroke-width="0.38"/>
<circle cx="942.19" cy="202.18" r="2.15" fill="#fff" stroke="#333" stroke-width="0.38"/>
<circle cx="943.3" cy="207.84" r="2.15" fill="#fff" stroke="#333" stroke-width="0.38"/>
<circle cx="944.44" cy="208.45" r="2.15" fill="#fff" stroke="#333" stroke-width="0.38"/>
<circle cx="945.61" cy="210.04" r="2.15" fill="#fff" stroke="#333" stroke-width="0.38"/>
<circle cx="946.82" cy="214.85" r="2.15" fill="#fff" stroke="#333" stroke-width="0.38"/>
<circle cx="948.03" cy="215.62" r="2.15" fill="#fff" stroke="#333" stroke-width="0.38"/>
<circle cx="949.29" cy="219.32" r="2.15" fill="#fff" stroke="#333" stroke-width="0.38"/>
<circle cx="950.61" cy="222.27" r="2.15" fill="#fff" stroke="#333" stroke-width="0.38"/>
<circle cx="952.08" cy="223.63" r="2.15" fill="#fff" stroke="#333" stroke-width="0.38"/>
<circle cx="953.67" cy="226.22" r="2.15" fill="#fff" stroke="#333" stroke-width="0.38"/>
<circle cx="955.37" cy="228.48" r="2.15" fill="#fff" stroke="#333" stroke-width="0.38"/>
<circle cx="957.23" cy="231.02" r="2.15" fill="#fff" stroke="#333" stroke-width="0.38"/>
<circle cx="959.31" cy="231.92" r="2.15" fill="#fff" stroke="#333" stroke-width="0.38"/>
<circle cx="961.53" cy="234.08" r="2.15" fill="#fff" stroke="#333" stroke-width="0.38"/>
<circle cx="963.88" cy="236.6" r="2.15" fill="#fff" stroke="#333" stroke-width="0.38"/>
<circle cx="966.4" cy="238.91" r="2.15" fill="#fff" stroke="#333" stroke-width="0.38"/>
<circle cx="969.08" cy="239.71" r="2.15" fill="#fff" stroke="#333" stroke-width="0.38"/>
<circle cx="971.82" cy="241.47" r="2.15" fill="#fff" stroke="#333" stroke-width="0.38"/>
<circle cx="974.61" cy="241.5" r="2.15" fill="#fff" stroke="#333" stroke-width="0.38"/>
<circle cx="977.43" cy="241.28" r="2.15" fill="#fff" stroke="#333" stroke-width="0.38"/>
<circle cx="980.27" cy="242.16" r="2.15" fill="#fff" stroke="#333" stroke-width="0.38"/>
<circle cx="983.11" cy="241.27" r="2.15" fill="#fff" stroke="#333" stroke-width="0.38"/>
<circle cx="985.97" cy="242.6" r="2.15" fill="#fff" stroke="#333" stroke-width="0.38"/>
<circle cx="988.82" cy="243.05" r="2.15" fill="#fff" stroke="#333" stroke-width="0.38"/>
<circle cx="991.69" cy="244.48" r="2.15" fill="#fff" stroke="#333" stroke-width="0.38"/>
<circle cx="994.56" cy="245.17" r="2.15" fill="#fff" stroke="#333" stroke-width="0.38"/>
<circle cx="997.44" cy="244.62" r="2.15" fill="#fff" stroke="#333" stroke-width="0.38"/>
<circle cx="1000.32" cy="244.88" r="2.15" fill="#fff" stroke="#333" stroke-width="0.38"/>
<circle cx="1003.21" cy="244.36" r="2.15" fill="#fff" stroke="#333" stroke-width="0.38"/>
<polyline points="812.4,246.6 812.9,246.6 813.4,246.59 813.9,246.59 814.4,246.58 814.9,246.57 815.4,246.56 815.9,246.55 816.4,246.53 816.9,246.52 817.4,246.5 817.9,246.48 818.4,246.46 818.9,246.44 819.4,246.42 819.9,246.4 820.4,246.37 820.9,246.35 821.4,246.32 821.9,246.29 822.4,246.26 822.9,246.23 823.4,246.2 823.9,246.17 824.4,246.14 824.9,246.1 825.4,246.07 825.9,246.03 826.4,246 826.9,245.96 827.4,245.92 827.9,245.89 828.4,245.85 828.9,245.81 829.4,245.77 829.9,245.73 830.4,245.69 830.9,245.65 831.4,245.61 831.9,245.57 832.4,245.53 832.9,245.49 833.4,245.45 833.9,245.41 834.4,245.37 834.9,245.32 835.4,245.28 835.9,245.23 836.4,245.18 836.9,245.13 837.4,245.08 837.9,245.03 838.4,244.97 838.9,244.91 839.4,244.85 839.9,244.79 840.4,244.72 840.9,244.66 841.4,244.59 841.9,244.52 842.4,244.44 842.9,244.37 843.4,244.29 843.9,244.21 844.4,244.12 844.9,244.04 845.4,243.95 845.9,243.86 846.4,243.76 846.9,243.66 847.4,243.57 847.9,243.46 848.4,243.36 848.9,243.25 849.4,243.14 849.9,243.02 850.4,242.9 850.9,242.77 851.4,242.63 851.9,242.48 852.4,242.31 852.9,242.14 853.4,241.96 853.9,241.76 854.4,241.56 854.9,241.34 855.4,241.12 855.9,240.88 856.4,240.64 856.9,240.39 857.4,240.13 857.9,239.86 858.4,239.58 858.9,239.29 859.4,239 859.9,238.7 860.4,238.38 860.9,238.06 861.4,237.73 861.9,237.36 862.4,236.95 862.9,236.51 863.4,236.04 863.9,235.55 864.4,235.02 864.9,234.48 865.4,233.92 865.9,233.33 866.4,232.74 866.9,232.12 867.4,231.49 867.9,230.82 868.4,230.11 868.9,229.36 869.4,228.58 869.9,227.76 870.4,226.91 870.9,226.03 871.4,225.12 871.9,224.19 872.4,223.21 872.9,222.16 873.4,221.04 873.9,219.87 874.4,218.66 874.9,217.42 875.4,216.17 875.9,214.91 876.4,213.66 876.9,212.43 877.4,211.23 877.9,210.05 878.4,208.84 878.9,207.61 879.4,206.37 879.9,205.14 880.4,203.94 880.9,202.78 881.4,201.67 881.9,200.63 882.4,199.68 882.9,198.8 883.4,197.93 883.9,197.08 884.4,196.27 884.9,195.5 885.4,194.79 885.9,194.14 886.4,193.57 886.9,193.09 887.4,192.66 887.9,192.24 888.4,191.83 888.9,191.45 889.4,191.12 889.9,190.86 890.4,190.68 890.9,190.6 891.4,190.6 891.9,190.62 892.4,190.65 892.9,190.69 893.4,190.73 893.9,190.79 894.4,190.85 894.9,190.91 895.4,190.99 895.9,191.09 896.4,191.27 896.9,191.51 897.4,191.79 897.9,192.09 898.4,192.37 898.9,192.63 899.4,192.84 899.9,192.97 900.4,193 900.9,192.97 901.4,192.9 901.9,192.79 902.4,192.65 902.9,192.48 903.4,192.3 903.9,192.09 904.4,191.87 904.9,191.65 905.4,191.39 905.9,191.04 906.4,190.61 906.9,190.12 907.4,189.58 907.9,189 908.4,188.39 908.9,187.77 909.4,187.14 909.9,186.52 910.4,185.9 910.9,185.23 911.4,184.52 911.9,183.78 912.4,183.02 912.9,182.24 913.4,181.45 913.9,180.67 914.4,179.9 914.9,179.15 915.4,178.42 915.9,177.73 916.4,177.06 916.9,176.38 917.4,175.68 917.9,174.98 918.4,174.29 918.9,173.63 919.4,173 919.9,172.42 920.4,171.9 920.9,171.44 921.4,171.06 921.9,170.75 922.4,170.43 922.9,170.13 923.4,169.85 923.9,169.61 924.4,169.42 924.9,169.28 925.4,169.21 925.9,169.22 926.4,169.34 926.9,169.55 927.4,169.85 927.9,170.2 928.4,170.61 928.9,171.05 929.4,171.51 929.9,172.03 930.4,172.73 930.9,173.59 931.4,174.57 931.9,175.66 932.4,176.82 932.9,178.04 933.4,179.28 933.9,180.53 934.4,181.76 934.9,182.99 935.4,184.3 935.9,185.69 936.4,187.13 936.9,188.61 937.4,190.11 937.9,191.61 938.4,193.1 938.9,194.57 939.4,195.98 939.9,197.34 940.4,198.64 940.9,199.92 941.4,201.18 941.9,202.43 942.4,203.66 942.9,204.88 943.4,206.07 943.9,207.25 944.4,208.41 944.9,209.55 945.4,210.68 945.9,211.78 946.4,212.87 946.9,213.97 947.4,215.06 947.9,216.14 948.4,217.2 948.9,218.25 949.4,219.27 949.9,220.26 950.4,221.22 950.9,222.14 951.4,223.02 951.9,223.84 952.4,224.62 952.9,225.39 953.4,226.14 953.9,226.87 954.4,227.58 954.9,228.26 955.4,228.92 955.9,229.56 956.4,230.17 956.9,230.75 957.4,231.3 957.9,231.82 958.4,232.31 958.9,232.77 959.4,233.22 959.9,233.66 960.4,234.08 960.9,234.5 961.4,234.91 961.9,235.3 962.4,235.67 962.9,236.04 963.4,236.39 963.9,236.72 964.4,237.04 964.9,237.34 965.4,237.62 965.9,237.88 966.4,238.13 966.9,238.36 967.4,238.57 967.9,238.77 968.4,238.97 968.9,239.16 969.4,239.35 969.9,239.53 970.4,239.71 970.9,239.88 971.4,240.04 971.9,240.2 972.4,240.35 972.9,240.5 973.4,240.65 973.9,240.79 974.4,240.93 974.9,241.06 975.4,241.19 975.9,241.31 976.4,241.43 976.9,241.55 977.4,241.66 977.9,241.77 978.4,241.88 978.9,241.98 979.4,242.08 979.9,242.18 980.4,242.28 980.9,242.37 981.4,242.47 981.9,242.56 982.4,242.66 982.9,242.75 983.4,242.85 983.9,242.94 984.4,243.03 984.9,243.13 985.4,243.22 985.9,243.31 986.4,243.4 986.9,243.49 987.4,243.57 987.9,243.66 988.4,243.75 988.9,243.83 989.4,243.91 989.9,244 990.4,244.08 990.9,244.16 991.4,244.23 991.9,244.31 992.4,244.38 992.9,244.46 993.4,244.53 993.9,244.6 994.4,244.67 994.9,244.73 995.4,244.8 995.9,244.86 996.4,244.92 996.9,244.98 997.4,245.04 997.9,245.09 998.4,245.14 998.9,245.19 999.4,245.24 999.9,245.29 1000.4,245.33 1000.9,245.37 1001.4,245.41 1001.9,245.44 1002.4,245.47 1002.9,245.5 1003.4,245.53 1003.9,245.56 1004.4,245.58 1004.9,245.6" fill="none" stroke="#000" stroke-width="1.45" stroke-dasharray="4.2 2.8"/>
</g>
<rect x="812.4" y="40.6" width="192.6" height="207.4" fill="none" stroke="#222" stroke-width="1"/>
<line x1="812.4" y1="144" x2="1005" y2="144" stroke="#555" stroke-width="1.2"/>
<line x1="812.4" y1="40.1" x2="812.4" y2="248.6" stroke="#000" stroke-width="1.6"/>
<line x1="812.4" y1="248" x2="1005" y2="248" stroke="#000" stroke-width="1.3"/>
<circle cx="827" cy="49" r="1.8" fill="#fff" stroke="#333" stroke-width="0.45"/>
<text x="844.6" y="53.6" font-size="12.5" text-anchor="start" fill="#111" stroke="#111" stroke-width="0.14">Raw data</text>
<line x1="813.4" y1="64.6" x2="842" y2="64.6" stroke="#000" stroke-width="1.5" stroke-dasharray="4.6 3"/>
<text x="844.6" y="68.8" font-size="12.5" text-anchor="start" fill="#111" stroke="#111" stroke-width="0.14">Fitting line</text>
<rect x="813.4" y="72.4" width="27" height="13.6" fill="url(#cg1)" stroke="#a0a0a0" stroke-width="0.7"/>
<text x="844.6" y="83.4" font-size="12.6" text-anchor="start" fill="#111" stroke="#111" stroke-width="0.14">O<tspan dy="3.4" font-size="8.44">I</tspan></text>
<rect x="813.4" y="91" width="27" height="13.6" fill="url(#cg2)" stroke="#a0a0a0" stroke-width="0.7"/>
<text x="844.6" y="102" font-size="12.6" text-anchor="start" fill="#111" stroke="#111" stroke-width="0.14">O<tspan dy="3.4" font-size="8.44">II</tspan></text>
<rect x="813.4" y="109" width="27" height="13.6" fill="url(#cg3)" stroke="#a0a0a0" stroke-width="0.7"/>
<text x="844.6" y="120" font-size="12.6" text-anchor="start" fill="#111" stroke="#111" stroke-width="0.14">O<tspan dy="3.4" font-size="8.44">III</tspan></text>
<text x="939.4" y="61" font-size="15.8" text-anchor="start" fill="#ff1a1a" stroke="#ff1a1a" stroke-width="0.17">w/o H<tspan dy="4.27" font-size="10.59">2</tspan><tspan dy="-4.27">O</tspan></text>
<text x="952.8" y="166.6" font-size="15.8" text-anchor="start" fill="#ff1a1a" stroke="#ff1a1a" stroke-width="0.17">w/ H<tspan dy="4.27" font-size="10.59">2</tspan><tspan dy="-4.27">O</tspan></text>
<text x="836" y="263.6" font-size="13.4" text-anchor="middle" fill="#111" stroke="#111" stroke-width="0.15">528</text>
<text x="884.14" y="263.6" font-size="13.4" text-anchor="middle" fill="#111" stroke="#111" stroke-width="0.15">530</text>
<text x="932.28" y="263.6" font-size="13.4" text-anchor="middle" fill="#111" stroke="#111" stroke-width="0.15">532</text>
<text x="980.42" y="263.6" font-size="13.4" text-anchor="middle" fill="#111" stroke="#111" stroke-width="0.15">534</text>
<text x="924.2" y="290" font-size="16.67" text-anchor="middle" fill="#000" stroke="#000" stroke-width="0.18">Binding energy (eV)</text>
<text x="779" y="147" font-size="16.67" text-anchor="middle" fill="#000" stroke="#000" stroke-width="0.18" transform="rotate(-90 779 147)">Intensity (a. u.)</text>
<text x="43.6" y="299.8" font-size="19.8" text-anchor="start" fill="#000" stroke="#000" stroke-width="0.05">d</text>
<text x="211.6" y="317" font-size="20.4" text-anchor="middle" fill="#111" stroke="#111" stroke-width="0.22">ITO/ZnMgO/Al</text>
<rect x="84.7" y="327.2" width="260.3" height="204.4" fill="none" stroke="#222" stroke-width="1.05"/>
<line x1="84.1" y1="327.2" x2="345" y2="327.2" stroke="#000" stroke-width="1.6"/>
<line x1="84.7" y1="327.2" x2="84.7" y2="531.6" stroke="#000" stroke-width="1.15"/>
<line x1="84.1" y1="531.6" x2="345.5" y2="531.6" stroke="#111" stroke-width="1.3"/>
<line x1="103.1" y1="531.6" x2="103.1" y2="527.1" stroke="#000" stroke-width="1.2"/>
<line x1="158.9" y1="531.6" x2="158.9" y2="527.1" stroke="#000" stroke-width="1.2"/>
<line x1="214.7" y1="531.6" x2="214.7" y2="527.1" stroke="#000" stroke-width="1.2"/>
<line x1="270.5" y1="531.6" x2="270.5" y2="527.1" stroke="#000" stroke-width="1.2"/>
<line x1="326.3" y1="531.6" x2="326.3" y2="527.1" stroke="#000" stroke-width="1.2"/>
<line x1="131" y1="531.6" x2="131" y2="529.1" stroke="#000" stroke-width="1.2"/>
<line x1="186.8" y1="531.6" x2="186.8" y2="529.1" stroke="#000" stroke-width="1.2"/>
<line x1="242.6" y1="531.6" x2="242.6" y2="529.1" stroke="#000" stroke-width="1.2"/>
<line x1="298.4" y1="531.6" x2="298.4" y2="529.1" stroke="#000" stroke-width="1.2"/>
<line x1="84.7" y1="521" x2="89.2" y2="521" stroke="#000" stroke-width="1.2"/>
<line x1="84.7" y1="467.27" x2="89.2" y2="467.27" stroke="#000" stroke-width="1.2"/>
<line x1="84.7" y1="413.55" x2="89.2" y2="413.55" stroke="#000" stroke-width="1.2"/>
<line x1="84.7" y1="359.82" x2="89.2" y2="359.82" stroke="#000" stroke-width="1.2"/>
<line x1="84.7" y1="494.14" x2="87.2" y2="494.14" stroke="#000" stroke-width="1.2"/>
<line x1="84.7" y1="440.41" x2="87.2" y2="440.41" stroke="#000" stroke-width="1.2"/>
<line x1="84.7" y1="386.69" x2="87.2" y2="386.69" stroke="#000" stroke-width="1.2"/>
<line x1="84.7" y1="332.96" x2="87.2" y2="332.96" stroke="#000" stroke-width="1.2"/>
<text x="103.1" y="548.4" font-size="14.5" text-anchor="middle" fill="#111" stroke="#111" stroke-width="0.16">-6</text>
<text x="158.9" y="548.4" font-size="14.5" text-anchor="middle" fill="#111" stroke="#111" stroke-width="0.16">-3</text>
<text x="214.7" y="548.4" font-size="14.5" text-anchor="middle" fill="#111" stroke="#111" stroke-width="0.16">0</text>
<text x="270.5" y="548.4" font-size="14.5" text-anchor="middle" fill="#111" stroke="#111" stroke-width="0.16">3</text>
<text x="326.3" y="548.4" font-size="14.5" text-anchor="middle" fill="#111" stroke="#111" stroke-width="0.16">6</text>
<text x="79.4" y="525.8" font-size="14.5" text-anchor="end" fill="#111" stroke="#111" stroke-width="0.16">0</text>
<text x="79.4" y="472.07" font-size="14.5" text-anchor="end" fill="#111" stroke="#111" stroke-width="0.16">500</text>
<text x="79.4" y="418.35" font-size="14.5" text-anchor="end" fill="#111" stroke="#111" stroke-width="0.16">1000</text>
<text x="79.4" y="364.62" font-size="14.5" text-anchor="end" fill="#111" stroke="#111" stroke-width="0.16">1500</text>
<text x="214.8" y="576" font-size="16.75" text-anchor="middle" fill="#000" stroke="#000" stroke-width="0.18">Voltage (V)</text>
<text x="31.4" y="428.4" font-size="16.9" text-anchor="middle" fill="#000" stroke="#000" stroke-width="0.19" transform="rotate(-90 31.4 428.4)">Current density (mA cm<tspan dy="-5.58" font-size="11.32">-2</tspan><tspan dy="5.58">)</tspan></text>
<polyline points="103.1,397.75 125.42,423.97 147.74,450.08 170.06,475.01 192.38,498.65 214.7,521 237.02,498.65 259.34,475.01 281.66,450.08 303.98,423.97 326.3,397.75" fill="none" stroke="#2a9d8f" stroke-width="1.6"/>
<circle cx="103.1" cy="397.75" r="5.3" fill="#2a9d8f" stroke="none" stroke-width="1"/>
<circle cx="125.42" cy="423.97" r="5.3" fill="#2a9d8f" stroke="none" stroke-width="1"/>
<circle cx="147.74" cy="450.08" r="5.3" fill="#2a9d8f" stroke="none" stroke-width="1"/>
<circle cx="170.06" cy="475.01" r="5.3" fill="#2a9d8f" stroke="none" stroke-width="1"/>
<circle cx="192.38" cy="498.65" r="5.3" fill="#2a9d8f" stroke="none" stroke-width="1"/>
<circle cx="214.7" cy="521" r="5.3" fill="#2a9d8f" stroke="none" stroke-width="1"/>
<circle cx="237.02" cy="498.65" r="5.3" fill="#2a9d8f" stroke="none" stroke-width="1"/>
<circle cx="259.34" cy="475.01" r="5.3" fill="#2a9d8f" stroke="none" stroke-width="1"/>
<circle cx="281.66" cy="450.08" r="5.3" fill="#2a9d8f" stroke="none" stroke-width="1"/>
<circle cx="303.98" cy="423.97" r="5.3" fill="#2a9d8f" stroke="none" stroke-width="1"/>
<circle cx="326.3" cy="397.75" r="5.3" fill="#2a9d8f" stroke="none" stroke-width="1"/>
<polyline points="103.1,521 125.42,520.25 147.74,520.36 170.06,521.21 192.38,521.21 214.7,521 237.02,521.21 259.34,519.5 281.66,513.05 303.98,501.44 326.3,487.48" fill="none" stroke="#808080" stroke-width="1.6"/>
<circle cx="103.1" cy="521" r="5.3" fill="#808080" stroke="none" stroke-width="1"/>
<circle cx="125.42" cy="520.25" r="5.3" fill="#808080" stroke="none" stroke-width="1"/>
<circle cx="147.74" cy="520.36" r="5.3" fill="#808080" stroke="none" stroke-width="1"/>
<circle cx="170.06" cy="521.21" r="5.3" fill="#808080" stroke="none" stroke-width="1"/>
<circle cx="192.38" cy="521.21" r="5.3" fill="#808080" stroke="none" stroke-width="1"/>
<circle cx="214.7" cy="521" r="5.3" fill="#808080" stroke="none" stroke-width="1"/>
<circle cx="237.02" cy="521.21" r="5.3" fill="#808080" stroke="none" stroke-width="1"/>
<circle cx="259.34" cy="519.5" r="5.3" fill="#808080" stroke="none" stroke-width="1"/>
<circle cx="281.66" cy="513.05" r="5.3" fill="#808080" stroke="none" stroke-width="1"/>
<circle cx="303.98" cy="501.44" r="5.3" fill="#808080" stroke="none" stroke-width="1"/>
<circle cx="326.3" cy="487.48" r="5.3" fill="#808080" stroke="none" stroke-width="1"/>
<line x1="91" y1="342.6" x2="129.6" y2="342.6" stroke="#808080" stroke-width="1.5"/>
<circle cx="110.8" cy="342.6" r="5.2" fill="#808080" stroke="none" stroke-width="1"/>
<text x="134.6" y="347.8" font-size="16.9" text-anchor="start" fill="#111" stroke="#111" stroke-width="0.19">w/o H<tspan dy="4.56" font-size="11.32">2</tspan><tspan dy="-4.56">O</tspan></text>
<line x1="91" y1="366.4" x2="129.6" y2="366.4" stroke="#2a9d8f" stroke-width="1.6"/>
<circle cx="110.8" cy="366.4" r="5.2" fill="#2a9d8f" stroke="none" stroke-width="1"/>
<text x="134.6" y="372.2" font-size="16.9" text-anchor="start" fill="#111" stroke="#111" stroke-width="0.19">w/ H<tspan dy="4.56" font-size="11.32">2</tspan><tspan dy="-4.56">O</tspan></text>
<text x="424.6" y="299.8" font-size="19.4" text-anchor="start" fill="#000" stroke="#000" stroke-width="0.05">e</text>
<rect x="454" y="328.6" width="259.2" height="205.8" fill="none" stroke="#333" stroke-width="1"/>
<line x1="453.4" y1="328.6" x2="713.2" y2="328.6" stroke="#000" stroke-width="1.5"/>
<line x1="454" y1="328.6" x2="454" y2="534.4" stroke="#000" stroke-width="1.1"/>
<line x1="453.4" y1="534.4" x2="713.7" y2="534.4" stroke="#222" stroke-width="1.2"/>
<line x1="490.6" y1="534.4" x2="490.6" y2="529.9" stroke="#000" stroke-width="1.2"/>
<line x1="564.72" y1="534.4" x2="564.72" y2="529.9" stroke="#000" stroke-width="1.2"/>
<line x1="638.84" y1="534.4" x2="638.84" y2="529.9" stroke="#000" stroke-width="1.2"/>
<line x1="527.66" y1="534.4" x2="527.66" y2="531.9" stroke="#000" stroke-width="1.2"/>
<line x1="601.78" y1="534.4" x2="601.78" y2="531.9" stroke="#000" stroke-width="1.2"/>
<line x1="675.9" y1="534.4" x2="675.9" y2="531.9" stroke="#000" stroke-width="1.2"/>
<line x1="454" y1="507.4" x2="458.5" y2="507.4" stroke="#000" stroke-width="1.2"/>
<line x1="454" y1="462.65" x2="458.5" y2="462.65" stroke="#000" stroke-width="1.2"/>
<line x1="454" y1="417.9" x2="458.5" y2="417.9" stroke="#000" stroke-width="1.2"/>
<line x1="454" y1="373.15" x2="458.5" y2="373.15" stroke="#000" stroke-width="1.2"/>
<line x1="454" y1="529.77" x2="456.5" y2="529.77" stroke="#000" stroke-width="1.2"/>
<line x1="454" y1="485.02" x2="456.5" y2="485.02" stroke="#000" stroke-width="1.2"/>
<line x1="454" y1="440.27" x2="456.5" y2="440.27" stroke="#000" stroke-width="1.2"/>
<line x1="454" y1="395.52" x2="456.5" y2="395.52" stroke="#000" stroke-width="1.2"/>
<line x1="454" y1="350.77" x2="456.5" y2="350.77" stroke="#000" stroke-width="1.2"/>
<text x="490.6" y="550.4" font-size="14.6" text-anchor="middle" fill="#111" stroke="#111" stroke-width="0.16">40</text>
<text x="564.72" y="550.4" font-size="14.6" text-anchor="middle" fill="#111" stroke="#111" stroke-width="0.16">60</text>
<text x="638.84" y="550.4" font-size="14.6" text-anchor="middle" fill="#111" stroke="#111" stroke-width="0.16">80</text>
<text x="712.96" y="550.4" font-size="14.6" text-anchor="middle" fill="#111" stroke="#111" stroke-width="0.16">100</text>
<text x="448.2" y="512.4" font-size="14.6" text-anchor="end" fill="#111" stroke="#111" stroke-width="0.16">500</text>
<text x="448.2" y="467.65" font-size="14.6" text-anchor="end" fill="#111" stroke="#111" stroke-width="0.16">1000</text>
<text x="448.2" y="422.9" font-size="14.6" text-anchor="end" fill="#111" stroke="#111" stroke-width="0.16">1500</text>
<text x="448.2" y="378.15" font-size="14.6" text-anchor="end" fill="#111" stroke="#111" stroke-width="0.16">2000</text>
<text x="448.2" y="333.4" font-size="14.6" text-anchor="end" fill="#111" stroke="#111" stroke-width="0.16">2500</text>
<text x="587" y="577" font-size="16.75" text-anchor="middle" fill="#000" stroke="#000" stroke-width="0.18">ZnMgO-H<tspan dy="4.52" font-size="11.22">2</tspan><tspan dy="-4.52">O thickness (nm)</tspan></text>
<text x="399.2" y="430" font-size="16.8" text-anchor="middle" fill="#000" stroke="#000" stroke-width="0.18" transform="rotate(-90 399.2 430)">Current density at 5 V (mA cm<tspan dy="-5.54" font-size="11.26">-2</tspan><tspan dy="5.54">)</tspan></text>
<line x1="464.4" y1="358" x2="702" y2="494" stroke="#000" stroke-width="1.2" stroke-dasharray="6 4.4"/>
<rect x="479.39" y="356.2" width="7.6" height="7.6" fill="none" stroke="#2a9d8f" stroke-width="1.15"/>
<rect x="479.39" y="362.2" width="7.6" height="7.6" fill="none" stroke="#2a9d8f" stroke-width="1.15"/>
<rect x="479.39" y="368.2" width="7.6" height="7.6" fill="none" stroke="#2a9d8f" stroke-width="1.15"/>
<rect x="523.86" y="387.6" width="7.6" height="7.6" fill="none" stroke="#2a9d8f" stroke-width="1.15"/>
<rect x="523.86" y="388.8" width="7.6" height="7.6" fill="none" stroke="#2a9d8f" stroke-width="1.15"/>
<rect x="523.86" y="393" width="7.6" height="7.6" fill="none" stroke="#2a9d8f" stroke-width="1.15"/>
<rect x="572.04" y="407.2" width="7.6" height="7.6" fill="none" stroke="#2a9d8f" stroke-width="1.15"/>
<rect x="572.04" y="412.2" width="7.6" height="7.6" fill="none" stroke="#2a9d8f" stroke-width="1.15"/>
<rect x="572.04" y="418.2" width="7.6" height="7.6" fill="none" stroke="#2a9d8f" stroke-width="1.15"/>
<rect x="572.04" y="424.2" width="7.6" height="7.6" fill="none" stroke="#2a9d8f" stroke-width="1.15"/>
<rect x="616.51" y="442.6" width="7.6" height="7.6" fill="none" stroke="#2a9d8f" stroke-width="1.15"/>
<rect x="616.51" y="443.8" width="7.6" height="7.6" fill="none" stroke="#2a9d8f" stroke-width="1.15"/>
<rect x="616.51" y="449.6" width="7.6" height="7.6" fill="none" stroke="#2a9d8f" stroke-width="1.15"/>
<rect x="690.63" y="477.2" width="7.6" height="7.6" fill="none" stroke="#2a9d8f" stroke-width="1.15"/>
<rect x="690.63" y="478.4" width="7.6" height="7.6" fill="none" stroke="#2a9d8f" stroke-width="1.15"/>
<rect x="690.63" y="486.2" width="7.6" height="7.6" fill="none" stroke="#2a9d8f" stroke-width="1.15"/>
<rect x="582.2" y="338.2" width="7.6" height="7.6" fill="none" stroke="#2a9d8f" stroke-width="1"/>
<text x="610" y="348" font-size="17" text-anchor="start" fill="#111" stroke="#111" stroke-width="0.19">Experimental</text>
<line x1="576.6" y1="361.5" x2="595.6" y2="361.5" stroke="#000" stroke-width="1.3" stroke-dasharray="7 5"/>
<text x="610" y="367.6" font-size="17" text-anchor="start" fill="#111" stroke="#111" stroke-width="0.19">Fitting</text>
<rect x="483.6" y="438.4" width="83.4" height="24.6" fill="#7f7f7f" stroke="none" stroke-width="1"/>
<rect x="483.6" y="463" width="83.4" height="33.4" fill="#fff2cc" stroke="none" stroke-width="1"/>
<rect x="483.6" y="496.4" width="83.4" height="24" fill="#e7e6e6" stroke="none" stroke-width="1"/>
<line x1="483.6" y1="463" x2="567" y2="463" stroke="#1f3864" stroke-width="0.8"/>
<line x1="483.6" y1="496.4" x2="567" y2="496.4" stroke="#1f3864" stroke-width="0.8"/>
<rect x="483.6" y="438.4" width="83.4" height="82" fill="none" stroke="#1f3864" stroke-width="1.3"/>
<text x="525.4" y="453.8" font-size="13.2" text-anchor="middle" fill="#fff" stroke="#fff" stroke-width="0.15">Al</text>
<text x="526.8" y="484.6" font-size="13.2" text-anchor="middle" fill="#111" stroke="#111" stroke-width="0.15">ZnMgO-H<tspan dy="3.56" font-size="8.84">2</tspan><tspan dy="-3.56">O</tspan></text>
<text x="525.4" y="514.2" font-size="13.2" text-anchor="middle" fill="#111" stroke="#111" stroke-width="0.15">ITO</text>
<path d="M483.6,450.6 H468 V473.6 M468,481.6 V507.6 H483.6" stroke="#000" stroke-width="1.4" fill="none"/>
<line x1="463" y1="473.6" x2="473" y2="473.6" stroke="#000" stroke-width="1.5"/>
<line x1="461.4" y1="481.6" x2="476" y2="481.6" stroke="#000" stroke-width="1.2"/>
<text x="761.6" y="299.6" font-size="19.8" text-anchor="start" fill="#000" stroke="#000" stroke-width="0.05">f</text>
<rect x="812.4" y="330.6" width="194" height="206.8" fill="none" stroke="#333" stroke-width="1"/>
<line x1="812.4" y1="330.6" x2="812.4" y2="537.4" stroke="#000" stroke-width="1.4"/>
<line x1="811.8" y1="537.4" x2="1006.9" y2="537.4" stroke="#000" stroke-width="1.4"/>
<line x1="812.4" y1="330.6" x2="1006.4" y2="330.6" stroke="#222" stroke-width="1.1"/>
<line x1="831.6" y1="537.4" x2="831.6" y2="532.9" stroke="#000" stroke-width="1.2"/>
<line x1="870.4" y1="537.4" x2="870.4" y2="532.9" stroke="#000" stroke-width="1.2"/>
<line x1="909.4" y1="537.4" x2="909.4" y2="532.9" stroke="#000" stroke-width="1.2"/>
<line x1="948.2" y1="537.4" x2="948.2" y2="532.9" stroke="#000" stroke-width="1.2"/>
<line x1="987" y1="537.4" x2="987" y2="532.9" stroke="#000" stroke-width="1.2"/>
<line x1="851" y1="537.4" x2="851" y2="534.9" stroke="#000" stroke-width="1.2"/>
<line x1="889.9" y1="537.4" x2="889.9" y2="534.9" stroke="#000" stroke-width="1.2"/>
<line x1="928.8" y1="537.4" x2="928.8" y2="534.9" stroke="#000" stroke-width="1.2"/>
<line x1="967.6" y1="537.4" x2="967.6" y2="534.9" stroke="#000" stroke-width="1.2"/>
<line x1="812.4" y1="509.25" x2="816.9" y2="509.25" stroke="#000" stroke-width="1.2"/>
<line x1="812.4" y1="441" x2="816.9" y2="441" stroke="#000" stroke-width="1.2"/>
<line x1="812.4" y1="372.75" x2="816.9" y2="372.75" stroke="#000" stroke-width="1.2"/>
<line x1="812.4" y1="475.12" x2="814.9" y2="475.12" stroke="#000" stroke-width="1.2"/>
<line x1="812.4" y1="406.88" x2="814.9" y2="406.88" stroke="#000" stroke-width="1.2"/>
<line x1="812.4" y1="338.62" x2="814.9" y2="338.62" stroke="#000" stroke-width="1.2"/>
<line x1="1006.4" y1="511" x2="1003.4" y2="511" stroke="#000" stroke-width="1"/>
<line x1="1006.4" y1="495.73" x2="1003.4" y2="495.73" stroke="#000" stroke-width="1"/>
<line x1="1006.4" y1="484.9" x2="1003.4" y2="484.9" stroke="#000" stroke-width="1"/>
<line x1="1006.4" y1="476.5" x2="1003.4" y2="476.5" stroke="#000" stroke-width="1"/>
<line x1="1006.4" y1="469.63" x2="1003.4" y2="469.63" stroke="#000" stroke-width="1"/>
<line x1="1006.4" y1="463.83" x2="1003.4" y2="463.83" stroke="#000" stroke-width="1"/>
<line x1="1006.4" y1="458.8" x2="1003.4" y2="458.8" stroke="#000" stroke-width="1"/>
<line x1="1006.4" y1="454.37" x2="1003.4" y2="454.37" stroke="#000" stroke-width="1"/>
<line x1="1006.4" y1="450.4" x2="1000.9" y2="450.4" stroke="#000" stroke-width="1.1"/>
<line x1="1006.4" y1="424.3" x2="1003.4" y2="424.3" stroke="#000" stroke-width="1"/>
<line x1="1006.4" y1="409.03" x2="1003.4" y2="409.03" stroke="#000" stroke-width="1"/>
<line x1="1006.4" y1="398.2" x2="1003.4" y2="398.2" stroke="#000" stroke-width="1"/>
<line x1="1006.4" y1="389.8" x2="1003.4" y2="389.8" stroke="#000" stroke-width="1"/>
<line x1="1006.4" y1="382.93" x2="1003.4" y2="382.93" stroke="#000" stroke-width="1"/>
<line x1="1006.4" y1="377.13" x2="1003.4" y2="377.13" stroke="#000" stroke-width="1"/>
<line x1="1006.4" y1="372.1" x2="1003.4" y2="372.1" stroke="#000" stroke-width="1"/>
<line x1="1006.4" y1="367.67" x2="1003.4" y2="367.67" stroke="#000" stroke-width="1"/>
<line x1="1006.4" y1="363.7" x2="1000.9" y2="363.7" stroke="#000" stroke-width="1.1"/>
<line x1="1006.4" y1="337.6" x2="1003.4" y2="337.6" stroke="#000" stroke-width="1"/>
<text x="831.6" y="552.4" font-size="13.4" text-anchor="middle" fill="#111" stroke="#111" stroke-width="0.15">1</text>
<text x="870.4" y="552.4" font-size="13.4" text-anchor="middle" fill="#111" stroke="#111" stroke-width="0.15">2</text>
<text x="909.4" y="552.4" font-size="13.4" text-anchor="middle" fill="#111" stroke="#111" stroke-width="0.15">3</text>
<text x="948.2" y="552.4" font-size="13.4" text-anchor="middle" fill="#111" stroke="#111" stroke-width="0.15">5</text>
<text x="987" y="552.4" font-size="13.4" text-anchor="middle" fill="#111" stroke="#111" stroke-width="0.15">7</text>
<text x="806.4" y="514.05" font-size="13.4" text-anchor="end" fill="#111" stroke="#111" stroke-width="0.15">0.5</text>
<text x="806.4" y="445.8" font-size="13.4" text-anchor="end" fill="#111" stroke="#111" stroke-width="0.15">1.0</text>
<text x="806.4" y="377.55" font-size="13.4" text-anchor="end" fill="#111" stroke="#111" stroke-width="0.15">1.5</text>
<text x="1012.6" y="541.7" font-size="13.4" text-anchor="start" fill="#111" stroke="#111" stroke-width="0.15">10<tspan dy="-5.49" font-size="8.98">1</tspan></text>
<text x="1012.6" y="455" font-size="13.4" text-anchor="start" fill="#111" stroke="#111" stroke-width="0.15">10<tspan dy="-5.49" font-size="8.98">2</tspan></text>
<text x="1012.6" y="368.3" font-size="13.4" text-anchor="start" fill="#111" stroke="#111" stroke-width="0.15">10<tspan dy="-5.49" font-size="8.98">3</tspan></text>
<text x="914" y="577" font-size="16.67" text-anchor="middle" fill="#000" stroke="#000" stroke-width="0.18">Storge time (day)</text>
<text x="774.4" y="432" font-size="16.7" text-anchor="middle" fill="#000" stroke="#000" stroke-width="0.18" transform="rotate(-90 774.4 432)">Normalized defect emission (a. u.)</text>
<text x="1053.4" y="435" font-size="16.8" text-anchor="middle" fill="#000" stroke="#000" stroke-width="0.18" transform="rotate(-90 1053.4 435)">Current density at 5 V (mA cm<tspan dy="-5.54" font-size="11.26">-2</tspan><tspan dy="5.54">)</tspan></text>
<line x1="836" y1="441" x2="987" y2="441" stroke="#3fa99c" stroke-width="1" stroke-dasharray="4.6 3"/>
<ellipse cx="967.6" cy="383.6" rx="7.8" ry="16.4" fill="none" stroke="#808080" stroke-width="1" stroke-dasharray="3 2"/>
<line x1="965" y1="400" x2="982" y2="400" stroke="#808080" stroke-width="1" stroke-dasharray="2.4 2"/>
<polygon points="989,400 981.6,396.8 981.6,403.2" fill="#8c8c8c" stroke="none" stroke-width="1"/>
<ellipse cx="852" cy="452" rx="8.6" ry="16.2" fill="none" stroke="#808080" stroke-width="1" stroke-dasharray="3 2"/>
<line x1="852" y1="468" x2="838" y2="468" stroke="#808080" stroke-width="1" stroke-dasharray="1.6 1.4"/>
<polygon points="830.8,468 838.2,464.8 838.2,471.2" fill="#8c8c8c" stroke="none" stroke-width="1"/>
<polyline points="831.6,441 870.4,480.6 909.4,505.6 948.2,518 987,526.2" fill="none" stroke="#808080" stroke-width="1.1"/>
<circle cx="831.6" cy="441" r="5.1" fill="#808080" stroke="none" stroke-width="1"/>
<circle cx="870.4" cy="480.6" r="5.1" fill="#808080" stroke="none" stroke-width="1"/>
<circle cx="909.4" cy="505.6" r="5.1" fill="#808080" stroke="none" stroke-width="1"/>
<circle cx="948.2" cy="518" r="5.1" fill="#808080" stroke="none" stroke-width="1"/>
<circle cx="987" cy="526.2" r="5.1" fill="#808080" stroke="none" stroke-width="1"/>
<polyline points="831.6,441 870.4,443.4 909.4,446.2 948.2,454.6 987,456" fill="none" stroke="#2a9d8f" stroke-width="1.2"/>
<circle cx="831.6" cy="441" r="5.1" fill="#2a9d8f" stroke="none" stroke-width="1"/>
<circle cx="870.4" cy="443.4" r="5.1" fill="#2a9d8f" stroke="none" stroke-width="1"/>
<circle cx="909.4" cy="446.2" r="5.1" fill="#2a9d8f" stroke="none" stroke-width="1"/>
<circle cx="948.2" cy="454.6" r="5.1" fill="#2a9d8f" stroke="none" stroke-width="1"/>
<circle cx="987" cy="456" r="5.1" fill="#2a9d8f" stroke="none" stroke-width="1"/>
<polyline points="831.6,433.6 870.4,407.4 909.4,388 948.2,386.6 987,386.4" fill="none" stroke="#808080" stroke-width="1.1"/>
<circle cx="831.6" cy="433.6" r="5.2" fill="#fff" stroke="#808080" stroke-width="1.3"/>
<circle cx="870.4" cy="407.4" r="5.2" fill="#fff" stroke="#808080" stroke-width="1.3"/>
<circle cx="909.4" cy="388" r="5.2" fill="#fff" stroke="#808080" stroke-width="1.3"/>
<circle cx="948.2" cy="386.6" r="5.2" fill="#fff" stroke="#808080" stroke-width="1.3"/>
<circle cx="987" cy="386.4" r="5.2" fill="#fff" stroke="#808080" stroke-width="1.3"/>
<polyline points="831.6,380 870.4,380 909.4,380 948.2,380 987,379.6" fill="none" stroke="#2a9d8f" stroke-width="1.3"/>
<circle cx="831.6" cy="380" r="5.2" fill="#fff" stroke="#2a9d8f" stroke-width="1.5"/>
<circle cx="870.4" cy="380" r="5.2" fill="#fff" stroke="#2a9d8f" stroke-width="1.5"/>
<circle cx="909.4" cy="380" r="5.2" fill="#fff" stroke="#2a9d8f" stroke-width="1.5"/>
<circle cx="948.2" cy="380" r="5.2" fill="#fff" stroke="#2a9d8f" stroke-width="1.5"/>
<circle cx="987" cy="379.6" r="5.2" fill="#fff" stroke="#2a9d8f" stroke-width="1.5"/>
<polygon points="979.3,468 988.7,468 988.7,508 992.2,508 984,517.4 975.8,508 979.3,508" fill="url(#farr)" stroke="none" stroke-width="1"/>
<polygon points="984.3,440.4 988.9,440.4 988.9,446.6 991.4,446.6 986.6,450.4 981.8,446.6 984.3,446.6" fill="url(#farr)" stroke="none" stroke-width="1"/>
<text x="937.8" y="483.4" font-size="11.6" text-anchor="middle" fill="#222" stroke="#222" stroke-width="0.13">Decreased by</text>
<text x="937.6" y="497" font-size="11.6" text-anchor="middle" fill="#222" stroke="#222" stroke-width="0.13">62%</text>
<text x="958.6" y="451.6" font-size="11.6" text-anchor="start" fill="#222" stroke="#222" stroke-width="0.13">11%</text>
<line x1="815" y1="338.4" x2="849" y2="338.4" stroke="#808080" stroke-width="1.1"/>
<circle cx="832.4" cy="338.4" r="4.6" fill="#808080" stroke="none" stroke-width="1"/>
<text x="853.2" y="343" font-size="14.8" text-anchor="start" fill="#111" stroke="#111" stroke-width="0.16">w/o H<tspan dy="4" font-size="9.92">2</tspan><tspan dy="-4">O</tspan></text>
<line x1="815" y1="360" x2="849" y2="360" stroke="#2a9d8f" stroke-width="1.2"/>
<circle cx="832.4" cy="360" r="4.6" fill="#2a9d8f" stroke="none" stroke-width="1"/>
<text x="853.2" y="364.6" font-size="14.8" text-anchor="start" fill="#111" stroke="#111" stroke-width="0.16">w/ H<tspan dy="4" font-size="9.92">2</tspan><tspan dy="-4">O</tspan></text>
<text x="50.6" y="620.6" font-size="19.4" text-anchor="start" fill="#000" stroke="#000" stroke-width="0.05">g</text>
<line x1="85" y1="639.2" x2="343.7" y2="639.2" stroke="#777" stroke-width="1.4"/>
<line x1="85.5" y1="638.8" x2="85.5" y2="829.4" stroke="#000" stroke-width="1.3"/>
<line x1="84.4" y1="829.4" x2="343.6" y2="829.4" stroke="#000" stroke-width="1.6"/>
<line x1="343" y1="638.8" x2="343" y2="829.4" stroke="#666" stroke-width="1.4"/>
<g clip-path="url(#clipg)" fill="none" stroke-linejoin="round">
<polyline points="176.11,828.4 176.48,828.4 176.85,828.4 177.23,828.4 177.6,828.4 177.97,828.4 178.35,828.4 178.72,828.4 179.09,828.4 179.47,828.4 179.84,828.4 180.21,828.4 180.59,828.4 180.96,828.4 181.33,828.4 181.71,828.4 182.08,828.4 182.45,828.4 182.83,828.4 183.2,828.4 183.58,828.4 183.95,828.4 184.32,828.4 184.7,828.4 185.07,828.4 185.44,828.4 185.82,828.4 186.19,828.4 186.56,828.4 186.94,828.4 187.31,828.4 187.68,828.4 188.06,828.4 188.43,828.4 188.8,828.4 189.18,828.4 189.55,828.4 189.92,828.4 190.3,828.4 190.67,828.4 191.04,828.4 191.42,828.4 191.79,828.4 192.16,828.4 192.54,828.4 192.91,828.4 193.28,828.4 193.66,828.4 194.03,828.4 194.4,828.4 194.78,828.4 195.15,828.4 195.52,828.4 195.9,828.4 196.27,828.4 196.64,828.4 197.02,828.4 197.39,828.4 197.76,828.4 198.14,828.4 198.51,828.4 198.88,828.4 199.26,828.4 199.63,828.4 200,828.4 200.38,828.4 200.75,828.4 201.12,828.4 201.5,828.4 201.87,828.4 202.24,828.4 202.62,828.4 202.99,828.4 203.36,828.4 203.74,828.4 204.11,828.4 204.48,828.4 204.86,828.4 205.23,828.4 205.61,828.4 205.98,828.4 206.35,828.4 206.73,828.4 207.1,828.4 207.47,828.4 207.85,828.4 208.22,828.4 208.59,828.4 208.97,828.4 209.34,828.4 209.71,828.4 210.09,828.4 210.46,828.4 210.83,828.4 211.21,828.4 211.58,828.4 211.95,828.4 212.33,828.4 212.7,828.4 213.07,828.4 213.45,828.4 213.82,828.4 214.19,828.4 214.57,828.4 214.94,828.4 215.31,828.4 215.69,828.4 216.06,828.4 216.43,828.4 216.81,828.4 217.18,828.4 217.55,828.4 217.93,828.4 218.3,828.4 218.67,828.4 219.05,828.4 219.42,828.4 219.79,828.4 220.17,828.4 220.54,828.4 220.91,828.4 221.29,828.4 221.66,828.4 222.03,828.4 222.41,828.39 222.78,828.38 223.15,828.36 223.53,828.33 223.9,828.29 224.27,828.24 224.65,828.19 225.02,828.14 225.39,828.08 225.77,828.01 226.14,827.94 226.52,827.87 226.89,827.79 227.26,827.72 227.64,827.64 228.01,827.56 228.38,827.48 228.76,827.4 229.13,827.32 229.5,827.24 229.88,827.16 230.25,827.09 230.62,827.02 231,826.96 231.37,826.89 231.74,826.84 232.12,826.78 232.49,826.73 232.86,826.69 233.24,826.64 233.61,826.59 233.98,826.55 234.36,826.5 234.73,826.46 235.1,826.41 235.48,826.37 235.85,826.33 236.22,826.29 236.6,826.25 236.97,826.21 237.34,826.16 237.72,826.12 238.09,826.08 238.46,826.04 238.84,826 239.21,825.96 239.58,825.92 239.96,825.88 240.33,825.84 240.7,825.8 241.08,825.76 241.45,825.71 241.82,825.67 242.2,825.62 242.57,825.58 242.94,825.53 243.32,825.49 243.69,825.44 244.06,825.39 244.44,825.34 244.81,825.29 245.18,825.25 245.56,825.2 245.93,825.15 246.3,825.1 246.68,825.05 247.05,825 247.42,824.95 247.8,824.9 248.17,824.85 248.55,824.8 248.92,824.75 249.29,824.7 249.67,824.65 250.04,824.6 250.41,824.54 250.79,824.49 251.16,824.43 251.53,824.38 251.91,824.32 252.28,824.26 252.65,824.2 253.03,824.14 253.4,824.08 253.77,824.01 254.15,823.95 254.52,823.88 254.89,823.81 255.27,823.74 255.64,823.67 256.01,823.6 256.39,823.52 256.76,823.44 257.13,823.36 257.51,823.27 257.88,823.18 258.25,823.09 258.63,822.99 259,822.89 259.37,822.79 259.75,822.68 260.12,822.58 260.49,822.47 260.87,822.35 261.24,822.24 261.61,822.13 261.99,822.01 262.36,821.89 262.73,821.77 263.11,821.65 263.48,821.53 263.85,821.4 264.23,821.28 264.6,821.15 264.97,821.03 265.35,820.9 265.72,820.77 266.09,820.65 266.47,820.52 266.84,820.39 267.21,820.27 267.59,820.14 267.96,820.01 268.33,819.89 268.71,819.76 269.08,819.63 269.45,819.5 269.83,819.37 270.2,819.24 270.58,819.11 270.95,818.98 271.32,818.85 271.7,818.71 272.07,818.58 272.44,818.44 272.82,818.3 273.19,818.16 273.56,818.02 273.94,817.88 274.31,817.74 274.68,817.6 275.06,817.45 275.43,817.31 275.8,817.16 276.18,817.01 276.55,816.86 276.92,816.71 277.3,816.55 277.67,816.4 278.04,816.24 278.42,816.09 278.79,815.93 279.16,815.77 279.54,815.6 279.91,815.44 280.28,815.27 280.66,815.11 281.03,814.93 281.4,814.76 281.78,814.59 282.15,814.41 282.52,814.23 282.9,814.04 283.27,813.86 283.64,813.67 284.02,813.48 284.39,813.29 284.76,813.1 285.14,812.91 285.51,812.71 285.88,812.52 286.26,812.32 286.63,812.12 287,811.92 287.38,811.72 287.75,811.51 288.12,811.31 288.5,811.1 288.87,810.89 289.24,810.69 289.62,810.48 289.99,810.27 290.36,810.06 290.74,809.85 291.11,809.64 291.48,809.43 291.86,809.22 292.23,809 292.61,808.79 292.98,808.58 293.35,808.37 293.73,808.16 294.1,807.94 294.47,807.73 294.85,807.51 295.22,807.3 295.59,807.08 295.97,806.86 296.34,806.63 296.71,806.41 297.09,806.18 297.46,805.95 297.83,805.73 298.21,805.5 298.58,805.26 298.95,805.03 299.33,804.8 299.7,804.57 300.07,804.33 300.45,804.1 300.82,803.86 301.19,803.63 301.57,803.39 301.94,803.16 302.31,802.92 302.69,802.68 303.06,802.45 303.43,802.21 303.81,801.98 304.18,801.74 304.55,801.51 304.93,801.28 305.3,801.05 305.67,800.81 306.05,800.58 306.42,800.36 306.79,800.13 307.17,799.9 307.54,799.68 307.91,799.45 308.29,799.23 308.66,799.01 309.03,798.79 309.41,798.57 309.78,798.35 310.15,798.13 310.53,797.91 310.9,797.69 311.27,797.47 311.65,797.26 312.02,797.04 312.39,796.82 312.77,796.61 313.14,796.39 313.52,796.18 313.89,795.96 314.26,795.75 314.64,795.53 315.01,795.32 315.38,795.11 315.76,794.89 316.13,794.68 316.5,794.47 316.88,794.25 317.25,794.04 317.62,793.83 318,793.61 318.37,793.4 318.74,793.19 319.12,792.98 319.49,792.76 319.86,792.55 320.24,792.34 320.61,792.12 320.98,791.91 321.36,791.69 321.73,791.48 322.1,791.27 322.48,791.05 322.85,790.83 323.22,790.62 323.6,790.4 323.97,790.19 324.34,789.97 324.72,789.75 325.09,789.53 325.46,789.32 325.84,789.1 326.21,788.88 326.58,788.66 326.96,788.44 327.33,788.22 327.7,788 328.08,787.78 328.45,787.55 328.82,787.33 329.2,787.11 329.57,786.89 329.94,786.67 330.32,786.45 330.69,786.23 331.06,786.01 331.44,785.78 331.81,785.56 332.18,785.34 332.56,785.12 332.93,784.89 333.3,784.67 333.68,784.45 334.05,784.22 334.42,784 334.8,783.78 335.17,783.55 335.55,783.33 335.92,783.11 336.29,782.88 336.67,782.66 337.04,782.43 337.41,782.21 337.79,781.99 338.16,781.76 338.53,781.54 338.91,781.31 339.28,781.08 339.65,780.86 340.03,780.63 340.4,780.41 340.77,780.18 341.15,779.96 341.52,779.73 341.89,779.5 342.27,779.28 342.64,779.05 343.01,778.82 343.39,778.59 343.76,778.37 344.13,778.14 344.51,777.91 344.88,777.68 345.25,777.46 345.63,777.23 346,777" fill="none" stroke="#808080" stroke-width="3" stroke-dasharray="6 10.6" stroke-linecap="round" stroke-dashoffset="3"/>
<polyline points="176.05,828.4 176.43,828.4 176.81,828.4 177.18,828.4 177.56,828.4 177.93,828.4 178.31,828.4 178.69,828.4 179.06,828.4 179.44,828.4 179.82,828.4 180.19,828.4 180.57,828.4 180.94,828.4 181.32,828.4 181.7,828.4 182.07,828.4 182.45,828.4 182.83,828.4 183.2,828.4 183.58,828.4 183.95,828.4 184.33,828.4 184.71,828.4 185.08,828.4 185.46,828.4 185.84,828.4 186.21,828.4 186.59,828.4 186.96,828.4 187.34,828.4 187.72,828.4 188.09,828.4 188.47,828.4 188.85,828.4 189.22,828.4 189.6,828.4 189.97,828.4 190.35,828.4 190.73,828.4 191.1,828.4 191.48,828.4 191.86,828.4 192.23,828.4 192.61,828.4 192.98,828.4 193.36,828.4 193.74,828.4 194.11,828.4 194.49,828.4 194.87,828.4 195.24,828.4 195.62,828.4 195.99,828.4 196.37,828.4 196.75,828.4 197.12,828.4 197.5,828.4 197.88,828.4 198.25,828.4 198.63,828.4 199,828.4 199.38,828.4 199.76,828.4 200.13,828.4 200.51,828.4 200.89,828.4 201.26,828.4 201.64,828.4 202.01,828.4 202.39,828.4 202.77,828.4 203.14,828.4 203.52,828.4 203.9,828.4 204.27,828.4 204.65,828.4 205.02,828.4 205.4,828.4 205.78,828.4 206.15,828.4 206.53,828.4 206.91,828.4 207.28,828.4 207.66,828.4 208.03,828.4 208.41,828.4 208.79,828.4 209.16,828.4 209.54,828.4 209.92,828.4 210.29,828.4 210.67,828.4 211.04,828.4 211.42,828.4 211.8,828.4 212.17,828.4 212.55,828.4 212.93,828.4 213.3,828.4 213.68,828.4 214.05,828.4 214.43,828.4 214.81,828.4 215.18,828.4 215.56,828.4 215.94,828.4 216.31,828.4 216.69,828.4 217.06,828.4 217.44,828.37 217.82,828.3 218.19,828.2 218.57,828.06 218.95,827.89 219.32,827.7 219.7,827.49 220.07,827.27 220.45,827.03 220.83,826.78 221.2,826.53 221.58,826.28 221.96,826.03 222.33,825.77 222.71,825.48 223.08,825.16 223.46,824.82 223.84,824.45 224.21,824.07 224.59,823.67 224.97,823.26 225.34,822.84 225.72,822.42 226.09,822 226.47,821.58 226.85,821.17 227.22,820.76 227.6,820.35 227.98,819.93 228.35,819.5 228.73,819.07 229.1,818.63 229.48,818.19 229.86,817.75 230.23,817.3 230.61,816.86 230.99,816.41 231.36,815.95 231.74,815.5 232.11,815.05 232.49,814.6 232.87,814.16 233.24,813.71 233.62,813.27 234,812.82 234.37,812.37 234.75,811.92 235.12,811.47 235.5,811.01 235.88,810.56 236.25,810.11 236.63,809.65 237.01,809.2 237.38,808.75 237.76,808.29 238.13,807.84 238.51,807.39 238.89,806.93 239.26,806.48 239.64,806.03 240.02,805.58 240.39,805.13 240.77,804.68 241.14,804.24 241.52,803.79 241.9,803.34 242.27,802.89 242.65,802.44 243.03,802 243.4,801.55 243.78,801.1 244.15,800.66 244.53,800.21 244.91,799.76 245.28,799.32 245.66,798.87 246.04,798.43 246.41,797.98 246.79,797.53 247.16,797.09 247.54,796.64 247.92,796.2 248.29,795.75 248.67,795.31 249.05,794.86 249.42,794.42 249.8,793.97 250.17,793.53 250.55,793.08 250.93,792.64 251.3,792.19 251.68,791.75 252.06,791.3 252.43,790.86 252.81,790.41 253.18,789.97 253.56,789.52 253.94,789.07 254.31,788.63 254.69,788.18 255.07,787.74 255.44,787.29 255.82,786.85 256.19,786.4 256.57,785.96 256.95,785.51 257.32,785.06 257.7,784.62 258.08,784.17 258.45,783.73 258.83,783.28 259.2,782.83 259.58,782.39 259.96,781.94 260.33,781.5 260.71,781.05 261.09,780.61 261.46,780.16 261.84,779.71 262.21,779.27 262.59,778.82 262.97,778.38 263.34,777.93 263.72,777.49 264.1,777.04 264.47,776.6 264.85,776.15 265.22,775.7 265.6,775.26 265.98,774.81 266.35,774.37 266.73,773.92 267.11,773.48 267.48,773.03 267.86,772.59 268.23,772.15 268.61,771.7 268.99,771.26 269.36,770.81 269.74,770.37 270.12,769.92 270.49,769.48 270.87,769.04 271.24,768.59 271.62,768.15 272,767.71 272.37,767.26 272.75,766.82 273.13,766.38 273.5,765.93 273.88,765.49 274.25,765.05 274.63,764.61 275.01,764.17 275.38,763.72 275.76,763.28 276.14,762.84 276.51,762.4 276.89,761.96 277.26,761.52 277.64,761.07 278.02,760.63 278.39,760.19 278.77,759.75 279.15,759.31 279.52,758.87 279.9,758.43 280.27,757.99 280.65,757.55 281.03,757.11 281.4,756.67 281.78,756.23 282.16,755.79 282.53,755.36 282.91,754.92 283.28,754.48 283.66,754.05 284.04,753.61 284.41,753.18 284.79,752.74 285.17,752.31 285.54,751.88 285.92,751.44 286.29,751.01 286.67,750.58 287.05,750.15 287.42,749.71 287.8,749.28 288.18,748.85 288.55,748.42 288.93,747.99 289.3,747.56 289.68,747.13 290.06,746.7 290.43,746.27 290.81,745.84 291.19,745.42 291.56,744.99 291.94,744.56 292.31,744.14 292.69,743.71 293.07,743.29 293.44,742.86 293.82,742.44 294.2,742.02 294.57,741.59 294.95,741.17 295.32,740.75 295.7,740.33 296.08,739.91 296.45,739.5 296.83,739.08 297.21,738.66 297.58,738.24 297.96,737.82 298.33,737.41 298.71,736.99 299.09,736.58 299.46,736.16 299.84,735.75 300.22,735.33 300.59,734.92 300.97,734.51 301.34,734.09 301.72,733.68 302.1,733.27 302.47,732.86 302.85,732.45 303.23,732.05 303.6,731.64 303.98,731.23 304.35,730.83 304.73,730.42 305.11,730.02 305.48,729.61 305.86,729.21 306.24,728.81 306.61,728.41 306.99,728.01 307.36,727.61 307.74,727.21 308.12,726.81 308.49,726.41 308.87,726.01 309.25,725.61 309.62,725.21 310,724.81 310.37,724.41 310.75,724.02 311.13,723.62 311.5,723.22 311.88,722.83 312.26,722.43 312.63,722.04 313.01,721.65 313.38,721.26 313.76,720.87 314.14,720.49 314.51,720.11 314.89,719.73 315.27,719.35 315.64,718.98 316.02,718.61 316.39,718.24 316.77,717.88 317.15,717.52 317.52,717.17 317.9,716.81 318.28,716.46 318.65,716.12 319.03,715.77 319.4,715.43 319.78,715.09 320.16,714.75 320.53,714.42 320.91,714.08 321.29,713.75 321.66,713.42 322.04,713.09 322.41,712.77 322.79,712.44 323.17,712.12 323.54,711.8 323.92,711.48 324.3,711.16 324.67,710.85 325.05,710.53 325.42,710.22 325.8,709.91 326.18,709.6 326.55,709.29 326.93,708.98 327.31,708.67 327.68,708.37 328.06,708.06 328.43,707.76 328.81,707.45 329.19,707.15 329.56,706.85 329.94,706.55 330.32,706.25 330.69,705.95 331.07,705.66 331.44,705.36 331.82,705.07 332.2,704.78 332.57,704.49 332.95,704.21 333.33,703.92 333.7,703.64 334.08,703.36 334.45,703.07 334.83,702.79 335.21,702.51 335.58,702.24 335.96,701.96 336.34,701.68 336.71,701.4 337.09,701.13 337.46,700.85 337.84,700.57 338.22,700.3 338.59,700.02 338.97,699.74 339.35,699.47 339.72,699.19 340.1,698.91 340.47,698.64 340.85,698.36 341.23,698.08 341.6,697.8 341.98,697.52 342.36,697.23 342.73,696.95 343.11,696.67 343.48,696.39 343.86,696.1 344.24,695.82 344.61,695.54 344.99,695.26 345.37,694.98 345.74,694.69 346.12,694.41 346.49,694.13 346.87,693.85 347.25,693.56 347.62,693.28 348,693" fill="none" stroke="#2a9d8f" stroke-width="3" stroke-dasharray="6 10.6" stroke-linecap="round" stroke-dashoffset="9"/>
<polyline points="176.05,828.4 176.43,828.4 176.81,828.4 177.18,828.4 177.56,828.4 177.93,828.4 178.31,828.4 178.69,828.4 179.06,828.4 179.44,828.4 179.82,828.4 180.19,828.4 180.57,828.4 180.94,828.4 181.32,828.4 181.7,828.4 182.07,828.4 182.45,828.4 182.83,828.4 183.2,828.4 183.58,828.4 183.95,828.4 184.33,828.4 184.71,828.4 185.08,828.4 185.46,828.4 185.84,828.4 186.21,828.4 186.59,828.4 186.96,828.4 187.34,828.4 187.72,828.4 188.09,828.4 188.47,828.4 188.85,828.4 189.22,828.4 189.6,828.4 189.97,828.4 190.35,828.4 190.73,828.4 191.1,828.4 191.48,828.4 191.86,828.4 192.23,828.4 192.61,828.4 192.98,828.4 193.36,828.4 193.74,828.4 194.11,828.4 194.49,828.4 194.87,828.4 195.24,828.4 195.62,828.4 195.99,828.4 196.37,828.4 196.75,828.4 197.12,828.4 197.5,828.4 197.88,828.4 198.25,828.4 198.63,828.4 199,828.4 199.38,828.4 199.76,828.4 200.13,828.4 200.51,828.4 200.89,828.4 201.26,828.4 201.64,828.4 202.01,828.4 202.39,828.4 202.77,828.4 203.14,828.4 203.52,828.4 203.9,828.4 204.27,828.4 204.65,828.4 205.02,828.4 205.4,828.4 205.78,828.4 206.15,828.4 206.53,828.4 206.91,828.4 207.28,828.4 207.66,828.4 208.03,828.4 208.41,828.4 208.79,828.4 209.16,828.4 209.54,828.4 209.92,828.4 210.29,828.4 210.67,828.4 211.04,828.4 211.42,828.4 211.8,828.4 212.17,828.4 212.55,828.4 212.93,828.4 213.3,828.4 213.68,828.4 214.05,828.4 214.43,828.36 214.81,828.27 215.18,828.14 215.56,827.97 215.94,827.76 216.31,827.54 216.69,827.29 217.06,827.04 217.44,826.78 217.82,826.52 218.19,826.27 218.57,825.99 218.95,825.68 219.32,825.35 219.7,825 220.07,824.63 220.45,824.24 220.83,823.85 221.2,823.45 221.58,823.05 221.96,822.65 222.33,822.24 222.71,821.83 223.08,821.4 223.46,820.97 223.84,820.52 224.21,820.07 224.59,819.61 224.97,819.14 225.34,818.67 225.72,818.2 226.09,817.73 226.47,817.26 226.85,816.79 227.22,816.32 227.6,815.85 227.98,815.38 228.35,814.9 228.73,814.43 229.1,813.95 229.48,813.47 229.86,812.99 230.23,812.51 230.61,812.02 230.99,811.53 231.36,811.05 231.74,810.56 232.11,810.06 232.49,809.57 232.87,809.08 233.24,808.59 233.62,808.09 234,807.59 234.37,807.1 234.75,806.6 235.12,806.1 235.5,805.6 235.88,805.1 236.25,804.6 236.63,804.1 237.01,803.6 237.38,803.1 237.76,802.59 238.13,802.09 238.51,801.59 238.89,801.09 239.26,800.58 239.64,800.08 240.02,799.58 240.39,799.08 240.77,798.57 241.14,798.07 241.52,797.57 241.9,797.06 242.27,796.56 242.65,796.05 243.03,795.55 243.4,795.04 243.78,794.54 244.15,794.03 244.53,793.52 244.91,793.01 245.28,792.51 245.66,792 246.04,791.49 246.41,790.98 246.79,790.47 247.16,789.96 247.54,789.45 247.92,788.94 248.29,788.43 248.67,787.91 249.05,787.4 249.42,786.89 249.8,786.38 250.17,785.86 250.55,785.35 250.93,784.84 251.3,784.32 251.68,783.81 252.06,783.29 252.43,782.78 252.81,782.26 253.18,781.74 253.56,781.23 253.94,780.71 254.31,780.19 254.69,779.68 255.07,779.16 255.44,778.64 255.82,778.12 256.19,777.6 256.57,777.09 256.95,776.57 257.32,776.05 257.7,775.53 258.08,775.01 258.45,774.49 258.83,773.97 259.2,773.45 259.58,772.92 259.96,772.4 260.33,771.88 260.71,771.36 261.09,770.84 261.46,770.32 261.84,769.79 262.21,769.27 262.59,768.75 262.97,768.22 263.34,767.7 263.72,767.18 264.1,766.65 264.47,766.13 264.85,765.61 265.22,765.08 265.6,764.56 265.98,764.03 266.35,763.51 266.73,762.98 267.11,762.45 267.48,761.92 267.86,761.39 268.23,760.85 268.61,760.32 268.99,759.78 269.36,759.25 269.74,758.71 270.12,758.18 270.49,757.64 270.87,757.11 271.24,756.57 271.62,756.04 272,755.51 272.37,754.98 272.75,754.45 273.13,753.92 273.5,753.4 273.88,752.87 274.25,752.35 274.63,751.83 275.01,751.31 275.38,750.8 275.76,750.28 276.14,749.76 276.51,749.25 276.89,748.74 277.26,748.22 277.64,747.71 278.02,747.2 278.39,746.69 278.77,746.17 279.15,745.66 279.52,745.15 279.9,744.64 280.27,744.12 280.65,743.61 281.03,743.1 281.4,742.58 281.78,742.07 282.16,741.55 282.53,741.03 282.91,740.51 283.28,739.99 283.66,739.47 284.04,738.95 284.41,738.42 284.79,737.9 285.17,737.37 285.54,736.84 285.92,736.31 286.29,735.78 286.67,735.25 287.05,734.72 287.42,734.19 287.8,733.65 288.18,733.12 288.55,732.58 288.93,732.05 289.3,731.51 289.68,730.97 290.06,730.43 290.43,729.9 290.81,729.36 291.19,728.82 291.56,728.28 291.94,727.74 292.31,727.2 292.69,726.66 293.07,726.12 293.44,725.58 293.82,725.04 294.2,724.5 294.57,723.96 294.95,723.42 295.32,722.88 295.7,722.35 296.08,721.81 296.45,721.27 296.83,720.73 297.21,720.19 297.58,719.66 297.96,719.12 298.33,718.58 298.71,718.05 299.09,717.51 299.46,716.98 299.84,716.44 300.22,715.91 300.59,715.38 300.97,714.85 301.34,714.32 301.72,713.79 302.1,713.26 302.47,712.74 302.85,712.21 303.23,711.68 303.6,711.16 303.98,710.64 304.35,710.11 304.73,709.59 305.11,709.07 305.48,708.54 305.86,708.02 306.24,707.5 306.61,706.97 306.99,706.45 307.36,705.93 307.74,705.41 308.12,704.89 308.49,704.37 308.87,703.85 309.25,703.33 309.62,702.81 310,702.29 310.37,701.77 310.75,701.25 311.13,700.73 311.5,700.22 311.88,699.7 312.26,699.18 312.63,698.67 313.01,698.15 313.38,697.63 313.76,697.12 314.14,696.61 314.51,696.09 314.89,695.58 315.27,695.07 315.64,694.55 316.02,694.04 316.39,693.53 316.77,693.02 317.15,692.51 317.52,692 317.9,691.5 318.28,690.99 318.65,690.48 319.03,689.97 319.4,689.47 319.78,688.96 320.16,688.46 320.53,687.96 320.91,687.45 321.29,686.95 321.66,686.45 322.04,685.95 322.41,685.45 322.79,684.94 323.17,684.43 323.54,683.93 323.92,683.42 324.3,682.91 324.67,682.39 325.05,681.88 325.42,681.37 325.8,680.86 326.18,680.35 326.55,679.85 326.93,679.34 327.31,678.84 327.68,678.34 328.06,677.85 328.43,677.36 328.81,676.87 329.19,676.39 329.56,675.92 329.94,675.45 330.32,674.98 330.69,674.53 331.07,674.08 331.44,673.64 331.82,673.2 332.2,672.78 332.57,672.36 332.95,671.96 333.33,671.56 333.7,671.16 334.08,670.78 334.45,670.4 334.83,670.03 335.21,669.66 335.58,669.29 335.96,668.93 336.34,668.57 336.71,668.21 337.09,667.86 337.46,667.5 337.84,667.15 338.22,666.79 338.59,666.43 338.97,666.07 339.35,665.71 339.72,665.34 340.1,664.97 340.47,664.59 340.85,664.21 341.23,663.82 341.6,663.42 341.98,663.02 342.36,662.61 342.73,662.2 343.11,661.78 343.48,661.35 343.86,660.93 344.24,660.5 344.61,660.06 344.99,659.62 345.37,659.18 345.74,658.73 346.12,658.28 346.49,657.83 346.87,657.38 347.25,656.92 347.62,656.46 348,656" fill="none" stroke="#e9695a" stroke-width="3" stroke-dasharray="6 10.6" stroke-linecap="round" stroke-dashoffset="13"/>
<polyline points="85,828.4 85.38,828.4 85.75,828.4 86.13,828.4 86.51,828.4 86.88,828.4 87.26,828.4 87.63,828.4 88.01,828.4 88.39,828.4 88.76,828.4 89.14,828.4 89.52,828.4 89.89,828.4 90.27,828.4 90.64,828.4 91.02,828.4 91.4,828.4 91.77,828.4 92.15,828.4 92.53,828.4 92.9,828.4 93.28,828.4 93.65,828.4 94.03,828.4 94.41,828.4 94.78,828.4 95.16,828.4 95.54,828.4 95.91,828.4 96.29,828.4 96.66,828.4 97.04,828.4 97.42,828.4 97.79,828.4 98.17,828.4 98.55,828.4 98.92,828.4 99.3,828.4 99.67,828.4 100.05,828.4 100.43,828.4 100.8,828.4 101.18,828.4 101.56,828.4 101.93,828.4 102.31,828.4 102.68,828.4 103.06,828.4 103.44,828.4 103.81,828.4 104.19,828.4 104.57,828.4 104.94,828.4 105.32,828.4 105.69,828.4 106.07,828.4 106.45,828.4 106.82,828.4 107.2,828.4 107.58,828.4 107.95,828.4 108.33,828.4 108.7,828.4 109.08,828.4 109.46,828.4 109.83,828.4 110.21,828.4 110.59,828.4 110.96,828.4 111.34,828.4 111.71,828.4 112.09,828.4 112.47,828.4 112.84,828.4 113.22,828.4 113.6,828.4 113.97,828.4 114.35,828.4 114.72,828.4 115.1,828.4 115.48,828.4 115.85,828.4 116.23,828.4 116.61,828.4 116.98,828.4 117.36,828.4 117.73,828.4 118.11,828.4 118.49,828.4 118.86,828.4 119.24,828.4 119.62,828.4 119.99,828.4 120.37,828.4 120.74,828.4 121.12,828.4 121.5,828.4 121.87,828.4 122.25,828.4 122.63,828.4 123,828.4 123.38,828.4 123.75,828.4 124.13,828.4 124.51,828.4 124.88,828.4 125.26,828.4 125.64,828.4 126.01,828.4 126.39,828.4 126.76,828.4 127.14,828.4 127.52,828.4 127.89,828.4 128.27,828.4 128.65,828.4 129.02,828.4 129.4,828.4 129.77,828.4 130.15,828.4 130.53,828.4 130.9,828.4 131.28,828.4 131.66,828.4 132.03,828.4 132.41,828.4 132.78,828.4 133.16,828.4 133.54,828.4 133.91,828.4 134.29,828.4 134.67,828.4 135.04,828.4 135.42,828.4 135.79,828.4 136.17,828.4 136.55,828.4 136.92,828.4 137.3,828.4 137.68,828.4 138.05,828.4 138.43,828.4 138.8,828.4 139.18,828.4 139.56,828.4 139.93,828.4 140.31,828.4 140.69,828.4 141.06,828.4 141.44,828.4 141.81,828.4 142.19,828.4 142.57,828.4 142.94,828.4 143.32,828.4 143.7,828.4 144.07,828.4 144.45,828.4 144.82,828.4 145.2,828.4 145.58,828.4 145.95,828.4 146.33,828.4 146.71,828.4 147.08,828.4 147.46,828.4 147.83,828.4 148.21,828.4 148.59,828.4 148.96,828.4 149.34,828.4 149.72,828.4 150.09,828.4 150.47,828.4 150.84,828.4 151.22,828.4 151.6,828.4 151.97,828.4 152.35,828.4 152.73,828.4 153.1,828.4 153.48,828.4 153.85,828.4 154.23,828.4 154.61,828.4 154.98,828.4 155.36,828.4 155.74,828.4 156.11,828.4 156.49,828.4 156.86,828.4 157.24,828.4 157.62,828.4 157.99,828.4 158.37,828.4 158.75,828.4 159.12,828.4 159.5,828.4 159.87,828.4 160.25,828.4 160.63,828.4 161,828.4 161.38,828.4 161.76,828.4 162.13,828.4 162.51,828.4 162.88,828.4 163.26,828.4 163.64,828.4 164.01,828.4 164.39,828.4 164.77,828.4 165.14,828.4 165.52,828.4 165.89,828.4 166.27,828.4 166.65,828.4 167.02,828.4 167.4,828.4 167.78,828.4 168.15,828.4 168.53,828.4 168.9,828.4 169.28,828.4 169.66,828.4 170.03,828.4 170.41,828.4 170.79,828.4 171.16,828.4 171.54,828.4 171.91,828.4 172.29,828.4 172.67,828.4 173.04,828.4 173.42,828.4 173.8,828.4 174.17,828.4 174.55,828.4 174.92,828.4 175.3,828.4 175.68,828.4 176.05,828.4 176.43,828.4 176.81,828.4 177.18,828.4 177.56,828.4 177.93,828.4 178.31,828.4 178.69,828.4 179.06,828.4 179.44,828.4 179.82,828.4 180.19,828.4 180.57,828.4 180.94,828.4 181.32,828.4 181.7,828.4 182.07,828.4 182.45,828.4 182.83,828.4 183.2,828.4 183.58,828.4 183.95,828.4 184.33,828.4 184.71,828.4 185.08,828.4 185.46,828.4 185.84,828.4 186.21,828.4 186.59,828.4 186.96,828.4 187.34,828.4 187.72,828.4 188.09,828.4 188.47,828.4 188.85,828.4 189.22,828.4 189.6,828.4 189.97,828.4 190.35,828.4 190.73,828.4 191.1,828.4 191.48,828.4 191.86,828.4 192.23,828.4 192.61,828.4 192.98,828.4 193.36,828.4 193.74,828.4 194.11,828.4 194.49,828.4 194.87,828.4 195.24,828.4 195.62,828.4 195.99,828.4 196.37,828.4 196.75,828.4 197.12,828.4 197.5,828.4 197.88,828.4 198.25,828.4 198.63,828.4 199,828.4 199.38,828.4 199.76,828.4 200.13,828.4 200.51,828.4 200.89,828.4 201.26,828.4 201.64,828.4 202.01,828.4 202.39,828.4 202.77,828.4 203.14,828.4 203.52,828.4 203.9,828.4 204.27,828.4 204.65,828.4 205.02,828.4 205.4,828.4 205.78,828.4 206.15,828.4 206.53,828.4 206.91,828.4 207.28,828.4 207.66,828.4 208.03,828.4 208.41,828.4 208.79,828.4 209.16,828.4 209.54,828.4 209.92,828.4 210.29,828.4 210.67,828.4 211.04,828.4 211.42,828.4 211.8,828.4 212.17,828.4 212.55,828.4 212.93,828.4 213.3,828.4 213.68,828.4 214.05,828.4 214.43,828.4 214.81,828.4 215.18,828.39 215.56,828.35 215.94,828.25 216.31,828.13 216.69,827.96 217.06,827.78 217.44,827.57 217.82,827.34 218.19,827.11 218.57,826.87 218.95,826.63 219.32,826.38 219.7,826.09 220.07,825.76 220.45,825.39 220.83,825 221.2,824.6 221.58,824.18 221.96,823.75 222.33,823.33 222.71,822.91 223.08,822.51 223.46,822.11 223.84,821.71 224.21,821.3 224.59,820.88 224.97,820.46 225.34,820.04 225.72,819.62 226.09,819.19 226.47,818.76 226.85,818.33 227.22,817.9 227.6,817.46 227.98,817.03 228.35,816.59 228.73,816.15 229.1,815.71 229.48,815.27 229.86,814.82 230.23,814.38 230.61,813.93 230.99,813.48 231.36,813.02 231.74,812.57 232.11,812.12 232.49,811.66 232.87,811.2 233.24,810.75 233.62,810.29 234,809.83 234.37,809.37 234.75,808.9 235.12,808.44 235.5,807.98 235.88,807.51 236.25,807.05 236.63,806.58 237.01,806.12 237.38,805.65 237.76,805.18 238.13,804.72 238.51,804.25 238.89,803.78 239.26,803.31 239.64,802.85 240.02,802.38 240.39,801.91 240.77,801.44 241.14,800.98 241.52,800.51 241.9,800.03 242.27,799.56 242.65,799.09 243.03,798.62 243.4,798.14 243.78,797.67 244.15,797.19 244.53,796.71 244.91,796.24 245.28,795.76 245.66,795.28 246.04,794.8 246.41,794.32 246.79,793.84 247.16,793.36 247.54,792.88 247.92,792.4 248.29,791.92 248.67,791.44 249.05,790.96 249.42,790.48 249.8,790 250.17,789.51 250.55,789.03 250.93,788.55 251.3,788.07 251.68,787.59 252.06,787.1 252.43,786.62 252.81,786.14 253.18,785.66 253.56,785.18 253.94,784.7 254.31,784.21 254.69,783.73 255.07,783.25 255.44,782.77 255.82,782.29 256.19,781.81 256.57,781.34 256.95,780.86 257.32,780.38 257.7,779.9 258.08,779.43 258.45,778.95 258.83,778.48 259.2,778 259.58,777.53 259.96,777.05 260.33,776.58 260.71,776.11 261.09,775.64 261.46,775.17 261.84,774.7 262.21,774.24 262.59,773.77 262.97,773.31 263.34,772.84 263.72,772.38 264.1,771.91 264.47,771.45 264.85,770.99 265.22,770.53 265.6,770.07 265.98,769.6 266.35,769.14 266.73,768.68 267.11,768.22 267.48,767.76 267.86,767.3 268.23,766.84 268.61,766.38 268.99,765.92 269.36,765.46 269.74,765 270.12,764.54 270.49,764.07 270.87,763.61 271.24,763.15 271.62,762.69 272,762.22 272.37,761.76 272.75,761.29 273.13,760.83 273.5,760.36 273.88,759.89 274.25,759.42 274.63,758.95 275.01,758.48 275.38,758.01 275.76,757.53 276.14,757.06 276.51,756.58 276.89,756.11 277.26,755.63 277.64,755.15 278.02,754.67 278.39,754.18 278.77,753.7 279.15,753.21 279.52,752.72 279.9,752.23 280.27,751.74 280.65,751.24 281.03,750.74 281.4,750.24 281.78,749.74 282.16,749.24 282.53,748.73 282.91,748.23 283.28,747.72 283.66,747.22 284.04,746.71 284.41,746.2 284.79,745.69 285.17,745.18 285.54,744.67 285.92,744.16 286.29,743.65 286.67,743.14 287.05,742.63 287.42,742.12 287.8,741.61 288.18,741.11 288.55,740.6 288.93,740.1 289.3,739.59 289.68,739.08 290.06,738.57 290.43,738.06 290.81,737.55 291.19,737.03 291.56,736.52 291.94,736 292.31,735.48 292.69,734.96 293.07,734.45 293.44,733.93 293.82,733.42 294.2,732.9 294.57,732.39 294.95,731.88 295.32,731.38 295.7,730.87 296.08,730.37 296.45,729.88 296.83,729.38 297.21,728.89 297.58,728.41 297.96,727.93 298.33,727.46 298.71,726.99 299.09,726.52 299.46,726.07 299.84,725.61 300.22,725.16 300.59,724.72 300.97,724.28 301.34,723.84 301.72,723.41 302.1,722.97 302.47,722.55 302.85,722.12 303.23,721.69 303.6,721.27 303.98,720.85 304.35,720.42 304.73,720 305.11,719.58 305.48,719.16 305.86,718.74 306.24,718.32 306.61,717.89 306.99,717.47 307.36,717.04 307.74,716.61 308.12,716.18 308.49,715.74 308.87,715.3 309.25,714.86 309.62,714.42 310,713.98 310.37,713.54 310.75,713.1 311.13,712.65 311.5,712.21 311.88,711.77 312.26,711.32 312.63,710.88 313.01,710.43 313.38,709.99 313.76,709.54 314.14,709.09 314.51,708.65 314.89,708.2 315.27,707.75 315.64,707.31 316.02,706.86 316.39,706.41 316.77,705.97 317.15,705.52 317.52,705.08 317.9,704.63 318.28,704.18 318.65,703.74 319.03,703.29 319.4,702.84 319.78,702.4 320.16,701.95 320.53,701.5 320.91,701.05 321.29,700.6 321.66,700.14 322.04,699.69 322.41,699.24 322.79,698.79 323.17,698.34 323.54,697.89 323.92,697.43 324.3,696.98 324.67,696.53 325.05,696.09 325.42,695.64 325.8,695.19 326.18,694.75 326.55,694.3 326.93,693.86 327.31,693.42 327.68,692.98 328.06,692.54 328.43,692.11 328.81,691.67 329.19,691.24 329.56,690.81 329.94,690.39 330.32,689.96 330.69,689.54 331.07,689.12 331.44,688.7 331.82,688.28 332.2,687.86 332.57,687.44 332.95,687.03 333.33,686.61 333.7,686.2 334.08,685.79 334.45,685.38 334.83,684.97 335.21,684.56 335.58,684.15 335.96,683.74 336.34,683.34 336.71,682.93 337.09,682.52 337.46,682.12 337.84,681.71 338.22,681.31 338.59,680.91 338.97,680.5 339.35,680.1 339.72,679.7 340.1,679.29 340.47,678.89 340.85,678.49 341.23,678.09 341.6,677.69 341.98,677.29 342.36,676.89 342.73,676.49 343.11,676.1 343.48,675.7 343.86,675.31 344.24,674.91 344.61,674.52 344.99,674.12 345.37,673.73 345.74,673.34 346.12,672.95 346.49,672.56 346.87,672.17 347.25,671.78 347.62,671.39 348,671" fill="none" stroke="#eea163" stroke-width="3" stroke-dasharray="6 10.6" stroke-linecap="round" stroke-dashoffset="0"/>
<polyline points="84,750.5 84.43,750.59 84.87,750.69 85.3,750.78 85.74,750.87 86.17,750.97 86.6,751.06 87.04,751.16 87.47,751.25 87.91,751.35 88.34,751.45 88.77,751.54 89.21,751.64 89.64,751.74 90.08,751.84 90.51,751.94 90.94,752.04 91.38,752.14 91.81,752.24 92.25,752.34 92.68,752.44 93.12,752.54 93.55,752.64 93.98,752.74 94.42,752.85 94.85,752.95 95.29,753.05 95.72,753.16 96.15,753.26 96.59,753.37 97.02,753.47 97.46,753.58 97.89,753.69 98.32,753.79 98.76,753.9 99.19,754.01 99.63,754.12 100.06,754.23 100.49,754.34 100.93,754.45 101.36,754.56 101.8,754.66 102.23,754.77 102.66,754.88 103.1,755 103.53,755.11 103.97,755.22 104.4,755.33 104.83,755.44 105.27,755.55 105.7,755.66 106.14,755.78 106.57,755.89 107.01,756 107.44,756.12 107.87,756.23 108.31,756.35 108.74,756.46 109.18,756.58 109.61,756.7 110.04,756.81 110.48,756.93 110.91,757.05 111.35,757.17 111.78,757.29 112.21,757.41 112.65,757.53 113.08,757.66 113.52,757.78 113.95,757.9 114.38,758.03 114.82,758.15 115.25,758.28 115.69,758.41 116.12,758.54 116.55,758.67 116.99,758.8 117.42,758.93 117.86,759.06 118.29,759.19 118.72,759.33 119.16,759.46 119.59,759.6 120.03,759.74 120.46,759.87 120.89,760.01 121.33,760.15 121.76,760.3 122.2,760.44 122.63,760.58 123.07,760.72 123.5,760.87 123.93,761.01 124.37,761.16 124.8,761.31 125.24,761.46 125.67,761.61 126.1,761.76 126.54,761.91 126.97,762.06 127.41,762.22 127.84,762.37 128.27,762.53 128.71,762.69 129.14,762.85 129.58,763.01 130.01,763.17 130.44,763.33 130.88,763.49 131.31,763.66 131.75,763.82 132.18,763.99 132.61,764.16 133.05,764.33 133.48,764.5 133.92,764.67 134.35,764.85 134.78,765.02 135.22,765.2 135.65,765.38 136.09,765.56 136.52,765.74 136.95,765.92 137.39,766.1 137.82,766.29 138.26,766.48 138.69,766.67 139.13,766.85 139.56,767.05 139.99,767.24 140.43,767.44 140.86,767.64 141.3,767.84 141.73,768.05 142.16,768.26 142.6,768.47 143.03,768.69 143.47,768.91 143.9,769.13 144.33,769.36 144.77,769.59 145.2,769.82 145.64,770.06 146.07,770.29 146.5,770.53 146.94,770.77 147.37,771.01 147.81,771.25 148.24,771.5 148.67,771.74 149.11,771.99 149.54,772.24 149.98,772.49 150.41,772.73 150.84,772.98 151.28,773.22 151.71,773.46 152.15,773.7 152.58,773.94 153.02,774.19 153.45,774.44 153.88,774.69 154.32,774.95 154.75,775.21 155.19,775.48 155.62,775.76 156.05,776.05 156.49,776.35 156.92,776.67 157.36,776.99 157.79,777.33 158.22,777.69 158.66,778.06 159.09,778.46 159.53,778.89 159.96,779.33 160.39,779.8 160.83,780.28 161.26,780.79 161.7,781.31 162.13,781.86 162.56,782.42 163,783 163.43,783.59 163.87,784.19 164.3,784.82 164.73,785.49 165.17,786.2 165.6,786.97 166.04,787.81 166.47,788.74 166.9,789.76 167.34,790.99 167.77,792.44 168.21,794.09 168.64,795.9 169.08,797.87 169.51,800.86 169.94,804.24 170.38,806.62 170.81,806.66 171.25,804.34 171.68,800.95 172.11,797.86 172.55,795.72 172.98,793.72 173.42,791.86 173.85,790.19 174.28,788.74 174.72,787.51 175.15,786.39 175.59,785.35 176.02,784.41 176.45,783.54 176.89,782.75 177.32,782.02 177.76,781.35 178.19,780.72 178.62,780.12 179.06,779.55 179.49,779.01 179.93,778.5 180.36,778.01 180.79,777.56 181.23,777.12 181.66,776.71 182.1,776.31 182.53,775.94 182.96,775.58 183.4,775.23 183.83,774.89 184.27,774.57 184.7,774.26 185.14,773.96 185.57,773.66 186,773.38 186.44,773.1 186.87,772.82 187.31,772.55 187.74,772.28 188.17,772.02 188.61,771.75 189.04,771.49 189.48,771.22 189.91,770.96 190.34,770.69 190.78,770.43 191.21,770.17 191.65,769.92 192.08,769.67 192.51,769.43 192.95,769.19 193.38,768.95 193.82,768.71 194.25,768.47 194.68,768.23 195.12,767.99 195.55,767.74 195.99,767.5 196.42,767.24 196.85,766.99 197.29,766.73 197.72,766.49 198.16,766.27 198.59,766.05 199.03,765.83 199.46,765.61 199.89,765.38 200.33,765.13 200.76,764.85 201.2,764.55 201.63,764.22 202.06,763.85 202.5,763.43 202.93,762.9 203.37,762.21 203.8,761.37 204.23,760.39 204.67,759.29 205.1,757.85 205.54,756.04 205.97,753.97 206.4,751.74 206.84,749.46 207.27,747.23 207.71,744.91 208.14,742.42 208.57,739.87 209.01,737.33 209.44,734.88 209.88,732.61 210.31,730.51 210.74,728.49 211.18,726.55 211.61,724.66 212.05,722.83 212.48,721.03 212.91,719.26 213.35,717.5 213.78,715.72 214.22,713.95 214.65,712.23 215.09,710.57 215.52,709.02 215.95,707.61 216.39,706.35 216.82,705.18 217.26,704.07 217.69,703.03 218.12,702.06 218.56,701.15 218.99,700.3 219.43,699.52 219.86,698.78 220.29,698.09 220.73,697.43 221.16,696.81 221.6,696.22 222.03,695.64 222.46,695.09 222.9,694.56 223.33,694.04 223.77,693.53 224.2,693.02 224.63,692.52 225.07,692.02 225.5,691.53 225.94,691.04 226.37,690.57 226.8,690.1 227.24,689.65 227.67,689.2 228.11,688.77 228.54,688.35 228.97,687.94 229.41,687.55 229.84,687.18 230.28,686.82 230.71,686.47 231.15,686.15 231.58,685.83 232.01,685.52 232.45,685.22 232.88,684.93 233.32,684.64 233.75,684.36 234.18,684.09 234.62,683.82 235.05,683.56 235.49,683.31 235.92,683.06 236.35,682.82 236.79,682.59 237.22,682.36 237.66,682.15 238.09,681.93 238.52,681.73 238.96,681.53 239.39,681.35 239.83,681.16 240.26,680.99 240.69,680.82 241.13,680.65 241.56,680.49 242,680.33 242.43,680.18 242.86,680.02 243.3,679.88 243.73,679.73 244.17,679.59 244.6,679.45 245.04,679.31 245.47,679.18 245.9,679.05 246.34,678.92 246.77,678.79 247.21,678.67 247.64,678.54 248.07,678.42 248.51,678.31 248.94,678.19 249.38,678.08 249.81,677.96 250.24,677.85 250.68,677.74 251.11,677.63 251.55,677.52 251.98,677.42 252.41,677.31 252.85,677.2 253.28,677.1 253.72,677 254.15,676.89 254.58,676.79 255.02,676.69 255.45,676.59 255.89,676.49 256.32,676.39 256.75,676.3 257.19,676.2 257.62,676.1 258.06,676.01 258.49,675.92 258.92,675.83 259.36,675.74 259.79,675.65 260.23,675.56 260.66,675.47 261.1,675.39 261.53,675.3 261.96,675.22 262.4,675.13 262.83,675.05 263.27,674.97 263.7,674.89 264.13,674.82 264.57,674.74 265,674.66 265.44,674.59 265.87,674.52 266.3,674.44 266.74,674.37 267.17,674.3 267.61,674.24 268.04,674.17 268.47,674.1 268.91,674.04 269.34,673.97 269.78,673.91 270.21,673.85 270.64,673.79 271.08,673.73 271.51,673.67 271.95,673.61 272.38,673.55 272.81,673.49 273.25,673.43 273.68,673.38 274.12,673.32 274.55,673.27 274.98,673.21 275.42,673.16 275.85,673.1 276.29,673.05 276.72,673 277.16,672.95 277.59,672.89 278.02,672.84 278.46,672.79 278.89,672.74 279.33,672.68 279.76,672.63 280.19,672.58 280.63,672.53 281.06,672.48 281.5,672.43 281.93,672.37 282.36,672.32 282.8,672.27 283.23,672.22 283.67,672.16 284.1,672.11 284.53,672.06 284.97,672 285.4,671.95 285.84,671.9 286.27,671.84 286.7,671.79 287.14,671.73 287.57,671.68 288.01,671.62 288.44,671.56 288.87,671.51 289.31,671.45 289.74,671.4 290.18,671.34 290.61,671.29 291.05,671.23 291.48,671.18 291.91,671.12 292.35,671.06 292.78,671.01 293.22,670.95 293.65,670.9 294.08,670.84 294.52,670.79 294.95,670.73 295.39,670.68 295.82,670.63 296.25,670.57 296.69,670.52 297.12,670.47 297.56,670.42 297.99,670.36 298.42,670.31 298.86,670.26 299.29,670.21 299.73,670.16 300.16,670.11 300.59,670.06 301.03,670.01 301.46,669.96 301.9,669.92 302.33,669.87 302.76,669.82 303.2,669.78 303.63,669.74 304.07,669.69 304.5,669.65 304.93,669.61 305.37,669.56 305.8,669.52 306.24,669.48 306.67,669.44 307.11,669.4 307.54,669.36 307.97,669.32 308.41,669.29 308.84,669.25 309.28,669.21 309.71,669.17 310.14,669.13 310.58,669.1 311.01,669.06 311.45,669.02 311.88,668.99 312.31,668.95 312.75,668.92 313.18,668.88 313.62,668.85 314.05,668.81 314.48,668.78 314.92,668.74 315.35,668.71 315.79,668.68 316.22,668.64 316.65,668.61 317.09,668.58 317.52,668.54 317.96,668.51 318.39,668.48 318.82,668.44 319.26,668.41 319.69,668.38 320.13,668.35 320.56,668.32 320.99,668.29 321.43,668.25 321.86,668.22 322.3,668.19 322.73,668.16 323.17,668.13 323.6,668.1 324.03,668.07 324.47,668.04 324.9,668.01 325.34,667.98 325.77,667.95 326.2,667.92 326.64,667.89 327.07,667.86 327.51,667.83 327.94,667.8 328.37,667.77 328.81,667.74 329.24,667.71 329.68,667.68 330.11,667.65 330.54,667.62 330.98,667.59 331.41,667.56 331.85,667.53 332.28,667.51 332.71,667.48 333.15,667.45 333.58,667.42 334.02,667.39 334.45,667.37 334.88,667.34 335.32,667.31 335.75,667.28 336.19,667.26 336.62,667.23 337.06,667.2 337.49,667.18 337.92,667.15 338.36,667.12 338.79,667.1 339.23,667.07 339.66,667.05 340.09,667.02 340.53,667 340.96,666.97 341.4,666.95 341.83,666.92 342.26,666.9 342.7,666.87 343.13,666.85 343.57,666.82 344,666.8" fill="none" stroke="#2a9d8f" stroke-width="3"/>
<polyline points="84,758.6 84.43,758.66 84.87,758.72 85.3,758.78 85.74,758.84 86.17,758.9 86.6,758.96 87.04,759.03 87.47,759.09 87.91,759.15 88.34,759.22 88.77,759.28 89.21,759.35 89.64,759.41 90.08,759.48 90.51,759.54 90.94,759.61 91.38,759.68 91.81,759.75 92.25,759.81 92.68,759.88 93.12,759.95 93.55,760.02 93.98,760.09 94.42,760.16 94.85,760.23 95.29,760.3 95.72,760.37 96.15,760.44 96.59,760.52 97.02,760.59 97.46,760.66 97.89,760.74 98.32,760.81 98.76,760.88 99.19,760.96 99.63,761.03 100.06,761.11 100.49,761.19 100.93,761.26 101.36,761.34 101.8,761.42 102.23,761.49 102.66,761.57 103.1,761.65 103.53,761.73 103.97,761.8 104.4,761.88 104.83,761.96 105.27,762.04 105.7,762.12 106.14,762.2 106.57,762.28 107.01,762.36 107.44,762.44 107.87,762.53 108.31,762.61 108.74,762.69 109.18,762.78 109.61,762.86 110.04,762.95 110.48,763.03 110.91,763.12 111.35,763.2 111.78,763.29 112.21,763.38 112.65,763.47 113.08,763.56 113.52,763.65 113.95,763.74 114.38,763.83 114.82,763.92 115.25,764.02 115.69,764.11 116.12,764.21 116.55,764.3 116.99,764.4 117.42,764.5 117.86,764.6 118.29,764.7 118.72,764.8 119.16,764.9 119.59,765 120.03,765.11 120.46,765.21 120.89,765.32 121.33,765.42 121.76,765.53 122.2,765.64 122.63,765.75 123.07,765.86 123.5,765.97 123.93,766.09 124.37,766.2 124.8,766.31 125.24,766.43 125.67,766.55 126.1,766.67 126.54,766.79 126.97,766.91 127.41,767.03 127.84,767.15 128.27,767.27 128.71,767.4 129.14,767.53 129.58,767.65 130.01,767.78 130.44,767.91 130.88,768.04 131.31,768.18 131.75,768.31 132.18,768.44 132.61,768.58 133.05,768.72 133.48,768.86 133.92,769 134.35,769.14 134.78,769.28 135.22,769.42 135.65,769.57 136.09,769.72 136.52,769.86 136.95,770.01 137.39,770.16 137.82,770.32 138.26,770.47 138.69,770.62 139.13,770.78 139.56,770.94 139.99,771.1 140.43,771.26 140.86,771.42 141.3,771.59 141.73,771.76 142.16,771.94 142.6,772.11 143.03,772.29 143.47,772.48 143.9,772.67 144.33,772.86 144.77,773.05 145.2,773.24 145.64,773.44 146.07,773.64 146.5,773.85 146.94,774.06 147.37,774.27 147.81,774.48 148.24,774.7 148.67,774.91 149.11,775.14 149.54,775.36 149.98,775.59 150.41,775.82 150.84,776.05 151.28,776.28 151.71,776.51 152.15,776.75 152.58,776.99 153.02,777.23 153.45,777.49 153.88,777.74 154.32,778 154.75,778.28 155.19,778.55 155.62,778.84 156.05,779.14 156.49,779.44 156.92,779.76 157.36,780.09 157.79,780.43 158.22,780.79 158.66,781.16 159.09,781.56 159.53,781.99 159.96,782.43 160.39,782.9 160.83,783.38 161.26,783.89 161.7,784.41 162.13,784.96 162.56,785.52 163,786.1 163.43,786.69 163.87,787.29 164.3,787.92 164.73,788.59 165.17,789.3 165.6,790.07 166.04,790.91 166.47,791.84 166.9,792.86 167.34,794.05 167.77,795.44 168.21,797.05 168.64,798.89 169.08,801.02 169.51,804.65 169.94,808.99 170.38,812.1 170.81,812.1 171.25,808.69 171.68,803.88 172.11,799.8 172.55,797.47 172.98,795.47 173.42,793.74 173.85,792.23 174.28,790.92 174.72,789.77 175.15,788.72 175.59,787.76 176.02,786.89 176.45,786.09 176.89,785.37 177.32,784.72 177.76,784.12 178.19,783.56 178.62,783.04 179.06,782.54 179.49,782.08 179.93,781.64 180.36,781.22 180.79,780.82 181.23,780.43 181.66,780.05 182.1,779.67 182.53,779.3 182.96,778.95 183.4,778.61 183.83,778.28 184.27,777.96 184.7,777.64 185.14,777.34 185.57,777.04 186,776.74 186.44,776.45 186.87,776.16 187.31,775.87 187.74,775.58 188.17,775.29 188.61,774.99 189.04,774.7 189.48,774.39 189.91,774.08 190.34,773.77 190.78,773.45 191.21,773.14 191.65,772.82 192.08,772.5 192.51,772.19 192.95,771.87 193.38,771.55 193.82,771.23 194.25,770.91 194.68,770.59 195.12,770.27 195.55,769.95 195.99,769.63 196.42,769.31 196.85,768.99 197.29,768.68 197.72,768.38 198.16,768.1 198.59,767.84 199.03,767.57 199.46,767.31 199.89,767.03 200.33,766.74 200.76,766.42 201.2,766.07 201.63,765.69 202.06,765.26 202.5,764.79 202.93,764.21 203.37,763.49 203.8,762.62 204.23,761.62 204.67,760.48 205.1,759 205.54,757.16 205.97,755.05 206.4,752.79 206.84,750.47 207.27,748.21 207.71,745.83 208.14,743.3 208.57,740.7 209.01,738.1 209.44,735.59 209.88,733.25 210.31,731.08 210.74,728.98 211.18,726.95 211.61,724.98 212.05,723.05 212.48,721.16 212.91,719.29 213.35,717.42 213.78,715.52 214.22,713.63 214.65,711.78 215.09,710.01 215.52,708.33 215.95,706.8 216.39,705.42 216.82,704.13 217.26,702.89 217.69,701.73 218.12,700.63 218.56,699.62 218.99,698.69 219.43,697.85 219.86,697.08 220.29,696.34 220.73,695.65 221.16,694.98 221.6,694.36 222.03,693.77 222.46,693.21 222.9,692.69 223.33,692.19 223.77,691.74 224.2,691.3 224.63,690.89 225.07,690.49 225.5,690.11 225.94,689.74 226.37,689.38 226.8,689.04 227.24,688.71 227.67,688.39 228.11,688.08 228.54,687.78 228.97,687.5 229.41,687.22 229.84,686.94 230.28,686.68 230.71,686.42 231.15,686.17 231.58,685.93 232.01,685.69 232.45,685.46 232.88,685.23 233.32,685.01 233.75,684.79 234.18,684.58 234.62,684.37 235.05,684.16 235.49,683.97 235.92,683.77 236.35,683.58 236.79,683.4 237.22,683.21 237.66,683.04 238.09,682.86 238.52,682.69 238.96,682.52 239.39,682.36 239.83,682.2 240.26,682.04 240.69,681.89 241.13,681.73 241.56,681.58 242,681.43 242.43,681.29 242.86,681.14 243.3,681 243.73,680.86 244.17,680.72 244.6,680.58 245.04,680.45 245.47,680.31 245.9,680.18 246.34,680.05 246.77,679.93 247.21,679.8 247.64,679.68 248.07,679.55 248.51,679.43 248.94,679.31 249.38,679.19 249.81,679.08 250.24,678.96 250.68,678.85 251.11,678.74 251.55,678.63 251.98,678.52 252.41,678.41 252.85,678.31 253.28,678.2 253.72,678.1 254.15,677.99 254.58,677.89 255.02,677.79 255.45,677.69 255.89,677.59 256.32,677.49 256.75,677.4 257.19,677.3 257.62,677.21 258.06,677.11 258.49,677.02 258.92,676.93 259.36,676.84 259.79,676.75 260.23,676.66 260.66,676.57 261.1,676.49 261.53,676.4 261.96,676.32 262.4,676.24 262.83,676.15 263.27,676.07 263.7,675.99 264.13,675.92 264.57,675.84 265,675.76 265.44,675.69 265.87,675.62 266.3,675.54 266.74,675.47 267.17,675.4 267.61,675.34 268.04,675.27 268.47,675.2 268.91,675.14 269.34,675.07 269.78,675.01 270.21,674.95 270.64,674.89 271.08,674.83 271.51,674.77 271.95,674.71 272.38,674.65 272.81,674.59 273.25,674.53 273.68,674.48 274.12,674.42 274.55,674.37 274.98,674.31 275.42,674.26 275.85,674.2 276.29,674.15 276.72,674.1 277.16,674.05 277.59,673.99 278.02,673.94 278.46,673.89 278.89,673.84 279.33,673.78 279.76,673.73 280.19,673.68 280.63,673.63 281.06,673.58 281.5,673.53 281.93,673.47 282.36,673.42 282.8,673.37 283.23,673.32 283.67,673.26 284.1,673.21 284.53,673.16 284.97,673.1 285.4,673.05 285.84,673 286.27,672.94 286.7,672.89 287.14,672.83 287.57,672.78 288.01,672.72 288.44,672.66 288.87,672.61 289.31,672.55 289.74,672.5 290.18,672.44 290.61,672.39 291.05,672.33 291.48,672.28 291.91,672.22 292.35,672.16 292.78,672.11 293.22,672.05 293.65,672 294.08,671.94 294.52,671.89 294.95,671.83 295.39,671.78 295.82,671.73 296.25,671.67 296.69,671.62 297.12,671.57 297.56,671.52 297.99,671.46 298.42,671.41 298.86,671.36 299.29,671.31 299.73,671.26 300.16,671.21 300.59,671.16 301.03,671.11 301.46,671.06 301.9,671.02 302.33,670.97 302.76,670.92 303.2,670.88 303.63,670.84 304.07,670.79 304.5,670.75 304.93,670.71 305.37,670.66 305.8,670.62 306.24,670.58 306.67,670.54 307.11,670.5 307.54,670.46 307.97,670.42 308.41,670.39 308.84,670.35 309.28,670.31 309.71,670.27 310.14,670.23 310.58,670.2 311.01,670.16 311.45,670.12 311.88,670.09 312.31,670.05 312.75,670.02 313.18,669.98 313.62,669.95 314.05,669.91 314.48,669.88 314.92,669.84 315.35,669.81 315.79,669.78 316.22,669.74 316.65,669.71 317.09,669.68 317.52,669.64 317.96,669.61 318.39,669.58 318.82,669.54 319.26,669.51 319.69,669.48 320.13,669.45 320.56,669.42 320.99,669.39 321.43,669.35 321.86,669.32 322.3,669.29 322.73,669.26 323.17,669.23 323.6,669.2 324.03,669.17 324.47,669.14 324.9,669.11 325.34,669.08 325.77,669.05 326.2,669.02 326.64,668.99 327.07,668.96 327.51,668.93 327.94,668.9 328.37,668.87 328.81,668.84 329.24,668.81 329.68,668.78 330.11,668.75 330.54,668.72 330.98,668.69 331.41,668.66 331.85,668.63 332.28,668.61 332.71,668.58 333.15,668.55 333.58,668.52 334.02,668.49 334.45,668.47 334.88,668.44 335.32,668.41 335.75,668.38 336.19,668.36 336.62,668.33 337.06,668.3 337.49,668.28 337.92,668.25 338.36,668.22 338.79,668.2 339.23,668.17 339.66,668.15 340.09,668.12 340.53,668.1 340.96,668.07 341.4,668.05 341.83,668.02 342.26,668 342.7,667.97 343.13,667.95 343.57,667.92 344,667.9" fill="none" stroke="#e9695a" stroke-width="3"/>
<polyline points="84,756 84.43,756.06 84.87,756.12 85.3,756.18 85.74,756.24 86.17,756.3 86.6,756.36 87.04,756.43 87.47,756.49 87.91,756.55 88.34,756.62 88.77,756.68 89.21,756.75 89.64,756.81 90.08,756.88 90.51,756.94 90.94,757.01 91.38,757.08 91.81,757.15 92.25,757.21 92.68,757.28 93.12,757.35 93.55,757.42 93.98,757.49 94.42,757.56 94.85,757.63 95.29,757.7 95.72,757.77 96.15,757.84 96.59,757.92 97.02,757.99 97.46,758.06 97.89,758.14 98.32,758.21 98.76,758.28 99.19,758.36 99.63,758.43 100.06,758.51 100.49,758.59 100.93,758.66 101.36,758.74 101.8,758.82 102.23,758.89 102.66,758.97 103.1,759.05 103.53,759.13 103.97,759.2 104.4,759.28 104.83,759.36 105.27,759.44 105.7,759.52 106.14,759.6 106.57,759.68 107.01,759.76 107.44,759.84 107.87,759.93 108.31,760.01 108.74,760.09 109.18,760.18 109.61,760.26 110.04,760.35 110.48,760.43 110.91,760.52 111.35,760.6 111.78,760.69 112.21,760.78 112.65,760.87 113.08,760.96 113.52,761.05 113.95,761.14 114.38,761.23 114.82,761.32 115.25,761.42 115.69,761.51 116.12,761.61 116.55,761.7 116.99,761.8 117.42,761.9 117.86,762 118.29,762.1 118.72,762.2 119.16,762.3 119.59,762.4 120.03,762.51 120.46,762.61 120.89,762.72 121.33,762.82 121.76,762.93 122.2,763.04 122.63,763.15 123.07,763.26 123.5,763.37 123.93,763.49 124.37,763.6 124.8,763.71 125.24,763.83 125.67,763.95 126.1,764.07 126.54,764.19 126.97,764.31 127.41,764.43 127.84,764.55 128.27,764.67 128.71,764.8 129.14,764.93 129.58,765.05 130.01,765.18 130.44,765.31 130.88,765.44 131.31,765.58 131.75,765.71 132.18,765.84 132.61,765.98 133.05,766.12 133.48,766.26 133.92,766.4 134.35,766.54 134.78,766.68 135.22,766.82 135.65,766.97 136.09,767.12 136.52,767.26 136.95,767.41 137.39,767.56 137.82,767.72 138.26,767.87 138.69,768.02 139.13,768.18 139.56,768.34 139.99,768.5 140.43,768.66 140.86,768.82 141.3,768.99 141.73,769.16 142.16,769.34 142.6,769.51 143.03,769.69 143.47,769.88 143.9,770.07 144.33,770.26 144.77,770.45 145.2,770.64 145.64,770.84 146.07,771.04 146.5,771.25 146.94,771.46 147.37,771.67 147.81,771.88 148.24,772.1 148.67,772.31 149.11,772.54 149.54,772.76 149.98,772.99 150.41,773.22 150.84,773.45 151.28,773.68 151.71,773.91 152.15,774.15 152.58,774.39 153.02,774.63 153.45,774.89 153.88,775.14 154.32,775.4 154.75,775.68 155.19,775.95 155.62,776.24 156.05,776.54 156.49,776.84 156.92,777.16 157.36,777.49 157.79,777.83 158.22,778.19 158.66,778.56 159.09,778.96 159.53,779.39 159.96,779.83 160.39,780.3 160.83,780.78 161.26,781.29 161.7,781.81 162.13,782.36 162.56,782.92 163,783.5 163.43,784.09 163.87,784.69 164.3,785.32 164.73,785.99 165.17,786.7 165.6,787.47 166.04,788.31 166.47,789.24 166.9,790.26 167.34,791.46 167.77,792.88 168.21,794.5 168.64,796.33 169.08,798.4 169.51,801.78 169.94,805.73 170.38,808.55 170.81,808.6 171.25,805.88 171.68,801.97 172.11,798.5 172.55,796.25 172.98,794.23 173.42,792.39 173.85,790.76 174.28,789.34 174.72,788.11 175.15,786.99 175.59,785.95 176.02,785.01 176.45,784.14 176.89,783.35 177.32,782.62 177.76,781.95 178.19,781.32 178.62,780.72 179.06,780.15 179.49,779.61 179.93,779.1 180.36,778.61 180.79,778.16 181.23,777.72 181.66,777.31 182.1,776.91 182.53,776.54 182.96,776.18 183.4,775.83 183.83,775.49 184.27,775.17 184.7,774.86 185.14,774.56 185.57,774.26 186,773.98 186.44,773.7 186.87,773.42 187.31,773.15 187.74,772.88 188.17,772.62 188.61,772.35 189.04,772.09 189.48,771.82 189.91,771.56 190.34,771.29 190.78,771.03 191.21,770.77 191.65,770.52 192.08,770.27 192.51,770.03 192.95,769.79 193.38,769.55 193.82,769.31 194.25,769.07 194.68,768.83 195.12,768.59 195.55,768.34 195.99,768.1 196.42,767.84 196.85,767.59 197.29,767.33 197.72,767.09 198.16,766.86 198.59,766.64 199.03,766.42 199.46,766.2 199.89,765.96 200.33,765.71 200.76,765.44 201.2,765.14 201.63,764.8 202.06,764.42 202.5,764 202.93,763.47 203.37,762.77 203.8,761.92 204.23,760.93 204.67,759.81 205.1,758.36 205.54,756.54 205.97,754.44 206.4,752.19 206.84,749.89 207.27,747.63 207.71,745.27 208.14,742.75 208.57,740.15 209.01,737.56 209.44,735.06 209.88,732.72 210.31,730.55 210.74,728.46 211.18,726.43 211.61,724.46 212.05,722.54 212.48,720.65 212.91,718.78 213.35,716.91 213.78,715.02 214.22,713.13 214.65,711.28 215.09,709.5 215.52,707.83 215.95,706.3 216.39,704.92 216.82,703.62 217.26,702.39 217.69,701.22 218.12,700.13 218.56,699.12 218.99,698.19 219.43,697.35 219.86,696.58 220.29,695.84 220.73,695.15 221.16,694.48 221.6,693.86 222.03,693.27 222.46,692.71 222.9,692.19 223.33,691.69 223.77,691.24 224.2,690.8 224.63,690.39 225.07,689.99 225.5,689.61 225.94,689.24 226.37,688.88 226.8,688.54 227.24,688.21 227.67,687.89 228.11,687.58 228.54,687.28 228.97,687 229.41,686.72 229.84,686.44 230.28,686.18 230.71,685.92 231.15,685.67 231.58,685.43 232.01,685.19 232.45,684.96 232.88,684.73 233.32,684.51 233.75,684.29 234.18,684.08 234.62,683.87 235.05,683.66 235.49,683.47 235.92,683.27 236.35,683.08 236.79,682.9 237.22,682.71 237.66,682.54 238.09,682.36 238.52,682.19 238.96,682.02 239.39,681.86 239.83,681.7 240.26,681.54 240.69,681.39 241.13,681.23 241.56,681.08 242,680.93 242.43,680.79 242.86,680.64 243.3,680.5 243.73,680.36 244.17,680.22 244.6,680.08 245.04,679.95 245.47,679.81 245.9,679.68 246.34,679.55 246.77,679.43 247.21,679.3 247.64,679.18 248.07,679.05 248.51,678.93 248.94,678.81 249.38,678.69 249.81,678.58 250.24,678.46 250.68,678.35 251.11,678.24 251.55,678.13 251.98,678.02 252.41,677.91 252.85,677.81 253.28,677.7 253.72,677.6 254.15,677.49 254.58,677.39 255.02,677.29 255.45,677.19 255.89,677.09 256.32,676.99 256.75,676.9 257.19,676.8 257.62,676.71 258.06,676.61 258.49,676.52 258.92,676.43 259.36,676.34 259.79,676.25 260.23,676.16 260.66,676.07 261.1,675.99 261.53,675.9 261.96,675.82 262.4,675.74 262.83,675.65 263.27,675.57 263.7,675.49 264.13,675.42 264.57,675.34 265,675.26 265.44,675.19 265.87,675.12 266.3,675.04 266.74,674.97 267.17,674.9 267.61,674.84 268.04,674.77 268.47,674.7 268.91,674.64 269.34,674.57 269.78,674.51 270.21,674.45 270.64,674.39 271.08,674.33 271.51,674.27 271.95,674.21 272.38,674.15 272.81,674.09 273.25,674.03 273.68,673.98 274.12,673.92 274.55,673.87 274.98,673.81 275.42,673.76 275.85,673.7 276.29,673.65 276.72,673.6 277.16,673.55 277.59,673.49 278.02,673.44 278.46,673.39 278.89,673.34 279.33,673.28 279.76,673.23 280.19,673.18 280.63,673.13 281.06,673.08 281.5,673.03 281.93,672.97 282.36,672.92 282.8,672.87 283.23,672.82 283.67,672.76 284.1,672.71 284.53,672.66 284.97,672.6 285.4,672.55 285.84,672.5 286.27,672.44 286.7,672.39 287.14,672.33 287.57,672.28 288.01,672.22 288.44,672.16 288.87,672.11 289.31,672.05 289.74,672 290.18,671.94 290.61,671.89 291.05,671.83 291.48,671.78 291.91,671.72 292.35,671.66 292.78,671.61 293.22,671.55 293.65,671.5 294.08,671.44 294.52,671.39 294.95,671.33 295.39,671.28 295.82,671.23 296.25,671.17 296.69,671.12 297.12,671.07 297.56,671.02 297.99,670.96 298.42,670.91 298.86,670.86 299.29,670.81 299.73,670.76 300.16,670.71 300.59,670.66 301.03,670.61 301.46,670.56 301.9,670.52 302.33,670.47 302.76,670.42 303.2,670.38 303.63,670.34 304.07,670.29 304.5,670.25 304.93,670.21 305.37,670.16 305.8,670.12 306.24,670.08 306.67,670.04 307.11,670 307.54,669.96 307.97,669.92 308.41,669.89 308.84,669.85 309.28,669.81 309.71,669.77 310.14,669.73 310.58,669.7 311.01,669.66 311.45,669.62 311.88,669.59 312.31,669.55 312.75,669.52 313.18,669.48 313.62,669.45 314.05,669.41 314.48,669.38 314.92,669.34 315.35,669.31 315.79,669.28 316.22,669.24 316.65,669.21 317.09,669.18 317.52,669.14 317.96,669.11 318.39,669.08 318.82,669.04 319.26,669.01 319.69,668.98 320.13,668.95 320.56,668.92 320.99,668.89 321.43,668.85 321.86,668.82 322.3,668.79 322.73,668.76 323.17,668.73 323.6,668.7 324.03,668.67 324.47,668.64 324.9,668.61 325.34,668.58 325.77,668.55 326.2,668.52 326.64,668.49 327.07,668.46 327.51,668.43 327.94,668.4 328.37,668.37 328.81,668.34 329.24,668.31 329.68,668.28 330.11,668.25 330.54,668.22 330.98,668.19 331.41,668.16 331.85,668.13 332.28,668.11 332.71,668.08 333.15,668.05 333.58,668.02 334.02,667.99 334.45,667.97 334.88,667.94 335.32,667.91 335.75,667.88 336.19,667.86 336.62,667.83 337.06,667.8 337.49,667.78 337.92,667.75 338.36,667.72 338.79,667.7 339.23,667.67 339.66,667.65 340.09,667.62 340.53,667.6 340.96,667.57 341.4,667.55 341.83,667.52 342.26,667.5 342.7,667.47 343.13,667.45 343.57,667.42 344,667.4" fill="none" stroke="#eea163" stroke-width="3"/>
<polyline points="84,752.4 84.43,752.5 84.87,752.61 85.3,752.71 85.74,752.82 86.17,752.93 86.6,753.03 87.04,753.14 87.47,753.25 87.91,753.36 88.34,753.48 88.77,753.59 89.21,753.7 89.64,753.82 90.08,753.93 90.51,754.05 90.94,754.17 91.38,754.28 91.81,754.4 92.25,754.52 92.68,754.64 93.12,754.76 93.55,754.89 93.98,755.01 94.42,755.13 94.85,755.26 95.29,755.38 95.72,755.51 96.15,755.64 96.59,755.77 97.02,755.89 97.46,756.02 97.89,756.15 98.32,756.29 98.76,756.42 99.19,756.55 99.63,756.68 100.06,756.82 100.49,756.95 100.93,757.09 101.36,757.23 101.8,757.36 102.23,757.5 102.66,757.64 103.1,757.78 103.53,757.92 103.97,758.06 104.4,758.21 104.83,758.35 105.27,758.49 105.7,758.64 106.14,758.79 106.57,758.93 107.01,759.08 107.44,759.23 107.87,759.38 108.31,759.53 108.74,759.68 109.18,759.84 109.61,759.99 110.04,760.14 110.48,760.3 110.91,760.46 111.35,760.62 111.78,760.77 112.21,760.93 112.65,761.1 113.08,761.26 113.52,761.42 113.95,761.59 114.38,761.75 114.82,761.92 115.25,762.09 115.69,762.26 116.12,762.43 116.55,762.6 116.99,762.77 117.42,762.94 117.86,763.12 118.29,763.29 118.72,763.47 119.16,763.65 119.59,763.83 120.03,764.01 120.46,764.19 120.89,764.38 121.33,764.56 121.76,764.75 122.2,764.94 122.63,765.13 123.07,765.32 123.5,765.52 123.93,765.71 124.37,765.91 124.8,766.11 125.24,766.31 125.67,766.51 126.1,766.72 126.54,766.92 126.97,767.13 127.41,767.34 127.84,767.55 128.27,767.76 128.71,767.97 129.14,768.18 129.58,768.4 130.01,768.62 130.44,768.84 130.88,769.06 131.31,769.28 131.75,769.5 132.18,769.73 132.61,769.95 133.05,770.18 133.48,770.41 133.92,770.64 134.35,770.87 134.78,771.1 135.22,771.33 135.65,771.57 136.09,771.81 136.52,772.05 136.95,772.28 137.39,772.53 137.82,772.77 138.26,773.01 138.69,773.26 139.13,773.5 139.56,773.75 139.99,774 140.43,774.25 140.86,774.5 141.3,774.76 141.73,775.02 142.16,775.28 142.6,775.54 143.03,775.81 143.47,776.08 143.9,776.35 144.33,776.63 144.77,776.91 145.2,777.19 145.64,777.48 146.07,777.76 146.5,778.06 146.94,778.35 147.37,778.65 147.81,778.94 148.24,779.25 148.67,779.55 149.11,779.86 149.54,780.17 149.98,780.48 150.41,780.8 150.84,781.12 151.28,781.44 151.71,781.76 152.15,782.09 152.58,782.42 153.02,782.75 153.45,783.09 153.88,783.44 154.32,783.79 154.75,784.14 155.19,784.5 155.62,784.87 156.05,785.24 156.49,785.62 156.92,786.01 157.36,786.4 157.79,786.8 158.22,787.21 158.66,787.64 159.09,788.08 159.53,788.53 159.96,788.99 160.39,789.46 160.83,789.95 161.26,790.44 161.7,790.94 162.13,791.46 162.56,791.97 163,792.5 163.43,793.04 163.87,793.62 164.3,794.22 164.73,794.82 165.17,795.42 165.6,796 166.04,796.55 166.47,797.15 166.9,797.79 167.34,798.35 167.77,798.72 168.21,798.83 168.64,798.89 169.08,798.93 169.51,798.96 169.94,798.99 170.38,799 170.81,798.91 171.25,798.26 171.68,797.22 172.11,796.07 172.55,795.09 172.98,794.35 173.42,793.63 173.85,792.93 174.28,792.26 174.72,791.62 175.15,791.03 175.59,790.48 176.02,789.98 176.45,789.52 176.89,789.08 177.32,788.66 177.76,788.27 178.19,787.89 178.62,787.52 179.06,787.17 179.49,786.84 179.93,786.51 180.36,786.18 180.79,785.87 181.23,785.55 181.66,785.24 182.1,784.93 182.53,784.62 182.96,784.33 183.4,784.04 183.83,783.75 184.27,783.48 184.7,783.21 185.14,782.94 185.57,782.67 186,782.41 186.44,782.15 186.87,781.9 187.31,781.64 187.74,781.38 188.17,781.12 188.61,780.86 189.04,780.6 189.48,780.33 189.91,780.06 190.34,779.78 190.78,779.51 191.21,779.23 191.65,778.96 192.08,778.69 192.51,778.41 192.95,778.14 193.38,777.86 193.82,777.58 194.25,777.31 194.68,777.03 195.12,776.74 195.55,776.46 195.99,776.18 196.42,775.89 196.85,775.6 197.29,775.31 197.72,775.06 198.16,774.82 198.59,774.59 199.03,774.35 199.46,774.09 199.89,773.81 200.33,773.48 200.76,773.09 201.2,772.64 201.63,772.06 202.06,771.11 202.5,769.85 202.93,768.39 203.37,766.84 203.8,765.26 204.23,763.44 204.67,761.41 205.1,759.25 205.54,757.07 205.97,754.95 206.4,752.98 206.84,751.09 207.27,749.19 207.71,747.31 208.14,745.5 208.57,743.8 209.01,742.24 209.44,740.88 209.88,739.68 210.31,738.59 210.74,737.58 211.18,736.64 211.61,735.73 212.05,734.82 212.48,733.89 212.91,732.92 213.35,731.87 213.78,730.78 214.22,729.65 214.65,728.52 215.09,727.39 215.52,726.29 215.95,725.24 216.39,724.26 216.82,723.36 217.26,722.5 217.69,721.66 218.12,720.85 218.56,720.06 218.99,719.3 219.43,718.56 219.86,717.84 220.29,717.16 220.73,716.5 221.16,715.87 221.6,715.26 222.03,714.69 222.46,714.14 222.9,713.61 223.33,713.09 223.77,712.59 224.2,712.11 224.63,711.64 225.07,711.18 225.5,710.73 225.94,710.3 226.37,709.88 226.8,709.47 227.24,709.07 227.67,708.68 228.11,708.3 228.54,707.93 228.97,707.57 229.41,707.21 229.84,706.86 230.28,706.52 230.71,706.18 231.15,705.85 231.58,705.52 232.01,705.21 232.45,704.89 232.88,704.58 233.32,704.28 233.75,703.98 234.18,703.69 234.62,703.4 235.05,703.11 235.49,702.83 235.92,702.56 236.35,702.29 236.79,702.02 237.22,701.75 237.66,701.5 238.09,701.24 238.52,700.99 238.96,700.74 239.39,700.49 239.83,700.25 240.26,700.01 240.69,699.78 241.13,699.54 241.56,699.31 242,699.09 242.43,698.86 242.86,698.64 243.3,698.43 243.73,698.21 244.17,698 244.6,697.79 245.04,697.58 245.47,697.38 245.9,697.17 246.34,696.97 246.77,696.77 247.21,696.58 247.64,696.38 248.07,696.19 248.51,696 248.94,695.81 249.38,695.62 249.81,695.43 250.24,695.24 250.68,695.06 251.11,694.88 251.55,694.69 251.98,694.51 252.41,694.33 252.85,694.15 253.28,693.97 253.72,693.79 254.15,693.61 254.58,693.44 255.02,693.26 255.45,693.08 255.89,692.91 256.32,692.73 256.75,692.56 257.19,692.38 257.62,692.21 258.06,692.04 258.49,691.87 258.92,691.7 259.36,691.53 259.79,691.37 260.23,691.2 260.66,691.04 261.1,690.88 261.53,690.72 261.96,690.56 262.4,690.4 262.83,690.24 263.27,690.09 263.7,689.94 264.13,689.79 264.57,689.64 265,689.5 265.44,689.36 265.87,689.22 266.3,689.08 266.74,688.94 267.17,688.81 267.61,688.68 268.04,688.55 268.47,688.42 268.91,688.29 269.34,688.17 269.78,688.05 270.21,687.92 270.64,687.8 271.08,687.68 271.51,687.56 271.95,687.45 272.38,687.33 272.81,687.22 273.25,687.1 273.68,686.99 274.12,686.88 274.55,686.77 274.98,686.66 275.42,686.55 275.85,686.44 276.29,686.33 276.72,686.23 277.16,686.12 277.59,686.02 278.02,685.91 278.46,685.81 278.89,685.71 279.33,685.61 279.76,685.5 280.19,685.4 280.63,685.3 281.06,685.2 281.5,685.1 281.93,685 282.36,684.9 282.8,684.8 283.23,684.7 283.67,684.6 284.1,684.5 284.53,684.41 284.97,684.31 285.4,684.21 285.84,684.11 286.27,684.01 286.7,683.91 287.14,683.81 287.57,683.72 288.01,683.62 288.44,683.52 288.87,683.42 289.31,683.33 289.74,683.23 290.18,683.13 290.61,683.03 291.05,682.94 291.48,682.84 291.91,682.75 292.35,682.65 292.78,682.55 293.22,682.46 293.65,682.36 294.08,682.27 294.52,682.18 294.95,682.08 295.39,681.99 295.82,681.9 296.25,681.8 296.69,681.71 297.12,681.62 297.56,681.53 297.99,681.44 298.42,681.35 298.86,681.26 299.29,681.17 299.73,681.08 300.16,680.99 300.59,680.91 301.03,680.82 301.46,680.73 301.9,680.65 302.33,680.57 302.76,680.48 303.2,680.4 303.63,680.32 304.07,680.23 304.5,680.15 304.93,680.07 305.37,679.99 305.8,679.92 306.24,679.84 306.67,679.76 307.11,679.68 307.54,679.61 307.97,679.53 308.41,679.46 308.84,679.39 309.28,679.32 309.71,679.25 310.14,679.18 310.58,679.11 311.01,679.04 311.45,678.97 311.88,678.9 312.31,678.83 312.75,678.76 313.18,678.7 313.62,678.63 314.05,678.56 314.48,678.49 314.92,678.43 315.35,678.36 315.79,678.29 316.22,678.23 316.65,678.16 317.09,678.1 317.52,678.03 317.96,677.97 318.39,677.9 318.82,677.84 319.26,677.77 319.69,677.71 320.13,677.64 320.56,677.58 320.99,677.52 321.43,677.46 321.86,677.39 322.3,677.33 322.73,677.27 323.17,677.21 323.6,677.15 324.03,677.09 324.47,677.03 324.9,676.97 325.34,676.91 325.77,676.85 326.2,676.79 326.64,676.73 327.07,676.68 327.51,676.62 327.94,676.56 328.37,676.51 328.81,676.45 329.24,676.4 329.68,676.34 330.11,676.29 330.54,676.23 330.98,676.18 331.41,676.12 331.85,676.07 332.28,676.02 332.71,675.97 333.15,675.92 333.58,675.86 334.02,675.81 334.45,675.76 334.88,675.71 335.32,675.67 335.75,675.62 336.19,675.57 336.62,675.52 337.06,675.47 337.49,675.43 337.92,675.38 338.36,675.34 338.79,675.29 339.23,675.25 339.66,675.2 340.09,675.16 340.53,675.12 340.96,675.08 341.4,675.04 341.83,675 342.26,674.95 342.7,674.92 343.13,674.88 343.57,674.84 344,674.8" fill="none" stroke="#808080" stroke-width="3"/>
</g>
<line x1="171" y1="829.4" x2="171" y2="824.4" stroke="#000" stroke-width="1.1"/>
<line x1="257" y1="829.4" x2="257" y2="824.4" stroke="#000" stroke-width="1.1"/>
<line x1="128" y1="829.4" x2="128" y2="826.4" stroke="#000" stroke-width="1.1"/>
<line x1="214" y1="829.4" x2="214" y2="826.4" stroke="#000" stroke-width="1.1"/>
<line x1="300" y1="829.4" x2="300" y2="826.4" stroke="#000" stroke-width="1.1"/>
<line x1="85" y1="812.35" x2="88" y2="812.35" stroke="#000" stroke-width="1.1"/>
<line x1="85" y1="795.02" x2="88" y2="795.02" stroke="#000" stroke-width="1.1"/>
<line x1="85" y1="777.69" x2="89.5" y2="777.69" stroke="#000" stroke-width="1.1"/>
<line x1="85" y1="760.36" x2="88" y2="760.36" stroke="#000" stroke-width="1.1"/>
<line x1="85" y1="743.03" x2="88" y2="743.03" stroke="#000" stroke-width="1.1"/>
<line x1="85" y1="725.7" x2="89.5" y2="725.7" stroke="#000" stroke-width="1.1"/>
<line x1="85" y1="708.37" x2="88" y2="708.37" stroke="#000" stroke-width="1.1"/>
<line x1="85" y1="691.04" x2="88" y2="691.04" stroke="#000" stroke-width="1.1"/>
<line x1="85" y1="673.71" x2="89.5" y2="673.71" stroke="#000" stroke-width="1.1"/>
<line x1="85" y1="656.38" x2="88" y2="656.38" stroke="#000" stroke-width="1.1"/>
<line x1="343" y1="828" x2="338" y2="828" stroke="#000" stroke-width="1.1"/>
<line x1="343" y1="752.5" x2="338" y2="752.5" stroke="#000" stroke-width="1.1"/>
<line x1="343" y1="677" x2="338" y2="677" stroke="#000" stroke-width="1.1"/>
<line x1="343" y1="790.25" x2="340" y2="790.25" stroke="#000" stroke-width="1.1"/>
<line x1="343" y1="714.75" x2="340" y2="714.75" stroke="#000" stroke-width="1.1"/>
<text x="85" y="846.6" font-size="14.5" text-anchor="middle" fill="#111" stroke="#111" stroke-width="0.16">-4</text>
<text x="171" y="846.6" font-size="14.5" text-anchor="middle" fill="#111" stroke="#111" stroke-width="0.16">0</text>
<text x="257" y="846.6" font-size="14.5" text-anchor="middle" fill="#111" stroke="#111" stroke-width="0.16">4</text>
<text x="343" y="846.6" font-size="14.5" text-anchor="middle" fill="#111" stroke="#111" stroke-width="0.16">8</text>
<text x="80" y="835.28" font-size="14.5" text-anchor="end" fill="#111" stroke="#111" stroke-width="0.16">10<tspan dy="-5.94" font-size="9.71">-6</tspan></text>
<text x="80" y="783.29" font-size="14.5" text-anchor="end" fill="#111" stroke="#111" stroke-width="0.16">10<tspan dy="-5.94" font-size="9.71">-3</tspan></text>
<text x="80" y="731.3" font-size="14.5" text-anchor="end" fill="#111" stroke="#111" stroke-width="0.16">10<tspan dy="-5.94" font-size="9.71">0</tspan></text>
<text x="80" y="679.31" font-size="14.5" text-anchor="end" fill="#111" stroke="#111" stroke-width="0.16">10<tspan dy="-5.94" font-size="9.71">3</tspan></text>
<text x="348.2" y="832.2" font-size="14.5" text-anchor="start" fill="#111" stroke="#111" stroke-width="0.16">0</text>
<text x="348.2" y="756.7" font-size="14.5" text-anchor="start" fill="#111" stroke="#111" stroke-width="0.16">2</text>
<text x="348.2" y="681.2" font-size="14.5" text-anchor="start" fill="#111" stroke="#111" stroke-width="0.16">4</text>
<text x="330.2" y="629" font-size="14.5" text-anchor="start" fill="#111" stroke="#111" stroke-width="0.16">×10<tspan dy="-5.94" font-size="9.71">5</tspan></text>
<text x="212" y="870.8" font-size="16.75" text-anchor="middle" fill="#000" stroke="#000" stroke-width="0.18">Voltage (V)</text>
<text x="31.4" y="734.5" font-size="16.9" text-anchor="middle" fill="#000" stroke="#000" stroke-width="0.19" transform="rotate(-90 31.4 734.5)">Current density (mA cm<tspan dy="-5.58" font-size="11.32">-2</tspan><tspan dy="5.58">)</tspan></text>
<text x="382.8" y="731" font-size="16.75" text-anchor="middle" fill="#000" stroke="#000" stroke-width="0.18" transform="rotate(-90 382.8 731)">Luminance (cd m<tspan dy="-5.53" font-size="11.22">-2</tspan><tspan dy="5.53">)</tspan></text>
<line x1="90.4" y1="650.4" x2="122.6" y2="650.4" stroke="#808080" stroke-width="3.2" stroke-linecap="round"/>
<text x="127" y="654.8" font-size="14.8" text-anchor="start" fill="#111" stroke="#111" stroke-width="0.16">w/o H<tspan dy="4" font-size="9.92">2</tspan><tspan dy="-4">O @ Fresh</tspan></text>
<text x="90" y="677" font-size="14.8" text-anchor="start" fill="#111" stroke="#111" stroke-width="0.16">w/ H<tspan dy="4" font-size="9.92">2</tspan><tspan dy="-4">O:</tspan></text>
<line x1="90.4" y1="693" x2="122.6" y2="693" stroke="#2a9d8f" stroke-width="3.2" stroke-linecap="round"/>
<text x="127" y="697.4" font-size="14.8" text-anchor="start" fill="#111" stroke="#111" stroke-width="0.16">Fresh</text>
<line x1="90.4" y1="711" x2="122.6" y2="711" stroke="#eea163" stroke-width="3.2" stroke-linecap="round"/>
<text x="127" y="715.4" font-size="14.8" text-anchor="start" fill="#111" stroke="#111" stroke-width="0.16">Day 3</text>
<line x1="90.4" y1="728.6" x2="122.6" y2="728.6" stroke="#e9695a" stroke-width="3.2" stroke-linecap="round"/>
<text x="127" y="733.4" font-size="14.8" text-anchor="start" fill="#111" stroke="#111" stroke-width="0.16">Day 5</text>
<path d="M197,750.2 H184.2 M188.4,747.2 L184.2,750.2 L188.4,753.2" stroke="#000" stroke-width="1.1" fill="none"/>
<path d="M308.6,808.2 H320.6 M316.4,805.2 L320.6,808.2 L316.4,811.2" stroke="#000" stroke-width="1.1" fill="none"/>
<text x="424.2" y="620.8" font-size="19.4" text-anchor="start" fill="#000" stroke="#000" stroke-width="0.05">h</text>
<polyline points="507,829 511,829.6 518,808.4 554,734 596.6,705.4 625,698 639,698 654,703 662,707 668,710.4 673.34,713.31 676.94,715.82 679.91,718.34 682.47,720.92 684.71,723.58 686.67,726.31 688.39,729.12 689.91,732.02 691.23,734.99 692.38,738.05 693.37,741.19 694.2,744.4" fill="none" stroke="#2a9d8f" stroke-width="1.6" stroke-linejoin="round"/>
<circle cx="497.6" cy="826.6" r="3.9" fill="#fff" stroke="#2a9d8f" stroke-width="1.3"/>
<circle cx="518" cy="808.4" r="3.9" fill="#fff" stroke="#2a9d8f" stroke-width="1.3"/>
<circle cx="596.6" cy="705.4" r="3.9" fill="#fff" stroke="#2a9d8f" stroke-width="1.3"/>
<circle cx="639" cy="698" r="3.9" fill="#fff" stroke="#2a9d8f" stroke-width="1.3"/>
<circle cx="654" cy="703" r="3.9" fill="#fff" stroke="#2a9d8f" stroke-width="1.3"/>
<circle cx="662" cy="707" r="3.9" fill="#fff" stroke="#2a9d8f" stroke-width="1.3"/>
<circle cx="668" cy="710.4" r="3.9" fill="#fff" stroke="#2a9d8f" stroke-width="1.3"/>
<circle cx="673.34" cy="713.31" r="3.9" fill="#fff" stroke="#2a9d8f" stroke-width="1.3"/>
<circle cx="676.94" cy="715.82" r="3.9" fill="#fff" stroke="#2a9d8f" stroke-width="1.3"/>
<circle cx="679.91" cy="718.34" r="3.9" fill="#fff" stroke="#2a9d8f" stroke-width="1.3"/>
<circle cx="682.47" cy="720.92" r="3.9" fill="#fff" stroke="#2a9d8f" stroke-width="1.3"/>
<circle cx="684.71" cy="723.58" r="3.9" fill="#fff" stroke="#2a9d8f" stroke-width="1.3"/>
<circle cx="686.67" cy="726.31" r="3.9" fill="#fff" stroke="#2a9d8f" stroke-width="1.3"/>
<circle cx="688.39" cy="729.12" r="3.9" fill="#fff" stroke="#2a9d8f" stroke-width="1.3"/>
<circle cx="689.91" cy="732.02" r="3.9" fill="#fff" stroke="#2a9d8f" stroke-width="1.3"/>
<circle cx="691.23" cy="734.99" r="3.9" fill="#fff" stroke="#2a9d8f" stroke-width="1.3"/>
<circle cx="692.38" cy="738.05" r="3.9" fill="#fff" stroke="#2a9d8f" stroke-width="1.3"/>
<circle cx="693.37" cy="741.19" r="3.9" fill="#fff" stroke="#2a9d8f" stroke-width="1.3"/>
<circle cx="694.2" cy="744.4" r="3.9" fill="#fff" stroke="#2a9d8f" stroke-width="1.3"/>
<polyline points="480,817.6 491.6,825.4 496,827 500,829 504,831 513.6,785.6 557,683.4 601.6,666 622,662.6 640.6,662 655,667 663,671 669,676 674.34,679.05 677.95,681.71 680.94,684.4 683.51,687.17 685.75,690.02 687.73,692.96 689.48,696 691.01,699.14 692.36,702.36 693.53,705.69 694.54,709.1 695.4,712.6" fill="none" stroke="#e9695a" stroke-width="1.6" stroke-linejoin="round"/>
<circle cx="480" cy="817.6" r="3.9" fill="#fff" stroke="#e9695a" stroke-width="1.3"/>
<circle cx="491.6" cy="825.4" r="3.9" fill="#fff" stroke="#e9695a" stroke-width="1.3"/>
<circle cx="496" cy="827" r="3.9" fill="#fff" stroke="#e9695a" stroke-width="1.3"/>
<circle cx="500" cy="829" r="3.9" fill="#fff" stroke="#e9695a" stroke-width="1.3"/>
<circle cx="504" cy="831" r="3.9" fill="#fff" stroke="#e9695a" stroke-width="1.3"/>
<circle cx="513.6" cy="785.6" r="3.9" fill="#fff" stroke="#e9695a" stroke-width="1.3"/>
<circle cx="601.6" cy="666" r="3.9" fill="#fff" stroke="#e9695a" stroke-width="1.3"/>
<circle cx="640.6" cy="662" r="3.9" fill="#fff" stroke="#e9695a" stroke-width="1.3"/>
<circle cx="655" cy="667" r="3.9" fill="#fff" stroke="#e9695a" stroke-width="1.3"/>
<circle cx="663" cy="671" r="3.9" fill="#fff" stroke="#e9695a" stroke-width="1.3"/>
<circle cx="669" cy="676" r="3.9" fill="#fff" stroke="#e9695a" stroke-width="1.3"/>
<circle cx="674.34" cy="679.05" r="3.9" fill="#fff" stroke="#e9695a" stroke-width="1.3"/>
<circle cx="677.95" cy="681.71" r="3.9" fill="#fff" stroke="#e9695a" stroke-width="1.3"/>
<circle cx="680.94" cy="684.4" r="3.9" fill="#fff" stroke="#e9695a" stroke-width="1.3"/>
<circle cx="683.51" cy="687.17" r="3.9" fill="#fff" stroke="#e9695a" stroke-width="1.3"/>
<circle cx="685.75" cy="690.02" r="3.9" fill="#fff" stroke="#e9695a" stroke-width="1.3"/>
<circle cx="687.73" cy="692.96" r="3.9" fill="#fff" stroke="#e9695a" stroke-width="1.3"/>
<circle cx="689.48" cy="696" r="3.9" fill="#fff" stroke="#e9695a" stroke-width="1.3"/>
<circle cx="691.01" cy="699.14" r="3.9" fill="#fff" stroke="#e9695a" stroke-width="1.3"/>
<circle cx="692.36" cy="702.36" r="3.9" fill="#fff" stroke="#e9695a" stroke-width="1.3"/>
<circle cx="693.53" cy="705.69" r="3.9" fill="#fff" stroke="#e9695a" stroke-width="1.3"/>
<circle cx="694.54" cy="709.1" r="3.9" fill="#fff" stroke="#e9695a" stroke-width="1.3"/>
<circle cx="695.4" cy="712.6" r="3.9" fill="#fff" stroke="#e9695a" stroke-width="1.3"/>
<polyline points="494,826.6 498,828 503,830 507,831 517,799 558.6,693 603.4,672 624,672 642,675 649.4,677 655,679.4 658.97,681.99 661.8,683.98 664.26,685.84 666.48,687.62 668.54,689.36 670.45,691.07 672.24,692.77 673.93,694.45 675.53,696.12 677.05,697.8 678.5,699.46 679.87,701.13 681.18,702.8 682.43,704.48 683.62,706.15 684.76,707.83 685.84,709.52 686.88,711.21 687.87,712.91 688.81,714.62 689.71,716.33 690.57,718.05 691.38,719.77 692.16,721.51 692.9,723.25 693.6,725" fill="none" stroke="#eea163" stroke-width="1.6" stroke-linejoin="round"/>
<circle cx="494" cy="826.6" r="3.9" fill="#fff" stroke="#eea163" stroke-width="1.3"/>
<circle cx="498" cy="828" r="3.9" fill="#fff" stroke="#eea163" stroke-width="1.3"/>
<circle cx="503" cy="830" r="3.9" fill="#fff" stroke="#eea163" stroke-width="1.3"/>
<circle cx="507" cy="831" r="3.9" fill="#fff" stroke="#eea163" stroke-width="1.3"/>
<circle cx="517" cy="799" r="3.9" fill="#fff" stroke="#eea163" stroke-width="1.3"/>
<circle cx="558.6" cy="693" r="3.9" fill="#fff" stroke="#eea163" stroke-width="1.3"/>
<circle cx="603.4" cy="672" r="3.9" fill="#fff" stroke="#eea163" stroke-width="1.3"/>
<circle cx="624" cy="672" r="3.9" fill="#fff" stroke="#eea163" stroke-width="1.3"/>
<circle cx="642" cy="675" r="3.9" fill="#fff" stroke="#eea163" stroke-width="1.3"/>
<circle cx="649.4" cy="677" r="3.9" fill="#fff" stroke="#eea163" stroke-width="1.3"/>
<circle cx="655" cy="679.4" r="3.9" fill="#fff" stroke="#eea163" stroke-width="1.3"/>
<circle cx="658.97" cy="681.99" r="3.9" fill="#fff" stroke="#eea163" stroke-width="1.3"/>
<circle cx="661.8" cy="683.98" r="3.9" fill="#fff" stroke="#eea163" stroke-width="1.3"/>
<circle cx="664.26" cy="685.84" r="3.9" fill="#fff" stroke="#eea163" stroke-width="1.3"/>
<circle cx="666.48" cy="687.62" r="3.9" fill="#fff" stroke="#eea163" stroke-width="1.3"/>
<circle cx="668.54" cy="689.36" r="3.9" fill="#fff" stroke="#eea163" stroke-width="1.3"/>
<circle cx="670.45" cy="691.07" r="3.9" fill="#fff" stroke="#eea163" stroke-width="1.3"/>
<circle cx="672.24" cy="692.77" r="3.9" fill="#fff" stroke="#eea163" stroke-width="1.3"/>
<circle cx="673.93" cy="694.45" r="3.9" fill="#fff" stroke="#eea163" stroke-width="1.3"/>
<circle cx="675.53" cy="696.12" r="3.9" fill="#fff" stroke="#eea163" stroke-width="1.3"/>
<circle cx="677.05" cy="697.8" r="3.9" fill="#fff" stroke="#eea163" stroke-width="1.3"/>
<circle cx="678.5" cy="699.46" r="3.9" fill="#fff" stroke="#eea163" stroke-width="1.3"/>
<circle cx="679.87" cy="701.13" r="3.9" fill="#fff" stroke="#eea163" stroke-width="1.3"/>
<circle cx="681.18" cy="702.8" r="3.9" fill="#fff" stroke="#eea163" stroke-width="1.3"/>
<circle cx="682.43" cy="704.48" r="3.9" fill="#fff" stroke="#eea163" stroke-width="1.3"/>
<circle cx="683.62" cy="706.15" r="3.9" fill="#fff" stroke="#eea163" stroke-width="1.3"/>
<circle cx="684.76" cy="707.83" r="3.9" fill="#fff" stroke="#eea163" stroke-width="1.3"/>
<circle cx="685.84" cy="709.52" r="3.9" fill="#fff" stroke="#eea163" stroke-width="1.3"/>
<circle cx="686.88" cy="711.21" r="3.9" fill="#fff" stroke="#eea163" stroke-width="1.3"/>
<circle cx="687.87" cy="712.91" r="3.9" fill="#fff" stroke="#eea163" stroke-width="1.3"/>
<circle cx="688.81" cy="714.62" r="3.9" fill="#fff" stroke="#eea163" stroke-width="1.3"/>
<circle cx="689.71" cy="716.33" r="3.9" fill="#fff" stroke="#eea163" stroke-width="1.3"/>
<circle cx="690.57" cy="718.05" r="3.9" fill="#fff" stroke="#eea163" stroke-width="1.3"/>
<circle cx="691.38" cy="719.77" r="3.9" fill="#fff" stroke="#eea163" stroke-width="1.3"/>
<circle cx="692.16" cy="721.51" r="3.9" fill="#fff" stroke="#eea163" stroke-width="1.3"/>
<circle cx="692.9" cy="723.25" r="3.9" fill="#fff" stroke="#eea163" stroke-width="1.3"/>
<circle cx="693.6" cy="725" r="3.9" fill="#fff" stroke="#eea163" stroke-width="1.3"/>
<polyline points="510,815 546,809 574.6,777.4 601.4,754.6 616.6,744.4 628,738.4 636.4,734.4 643.6,732 650,730.4 656,729.6 661,730 666,731 670,733 674,735.6 677.6,738.2 681,741" fill="none" stroke="#7f7f7f" stroke-width="1.6" stroke-linejoin="round"/>
<circle cx="510" cy="815" r="3.9" fill="#fff" stroke="#7f7f7f" stroke-width="1.3"/>
<circle cx="574.6" cy="777.4" r="3.9" fill="#fff" stroke="#7f7f7f" stroke-width="1.3"/>
<circle cx="601.4" cy="754.6" r="3.9" fill="#fff" stroke="#7f7f7f" stroke-width="1.3"/>
<circle cx="616.6" cy="744.4" r="3.9" fill="#fff" stroke="#7f7f7f" stroke-width="1.3"/>
<circle cx="628" cy="738.4" r="3.9" fill="#fff" stroke="#7f7f7f" stroke-width="1.3"/>
<circle cx="636.4" cy="734.4" r="3.9" fill="#fff" stroke="#7f7f7f" stroke-width="1.3"/>
<circle cx="643.6" cy="732" r="3.9" fill="#fff" stroke="#7f7f7f" stroke-width="1.3"/>
<circle cx="650" cy="730.4" r="3.9" fill="#fff" stroke="#7f7f7f" stroke-width="1.3"/>
<circle cx="656" cy="729.6" r="3.9" fill="#fff" stroke="#7f7f7f" stroke-width="1.3"/>
<circle cx="661" cy="730" r="3.9" fill="#fff" stroke="#7f7f7f" stroke-width="1.3"/>
<circle cx="666" cy="731" r="3.9" fill="#fff" stroke="#7f7f7f" stroke-width="1.3"/>
<circle cx="670" cy="733" r="3.9" fill="#fff" stroke="#7f7f7f" stroke-width="1.3"/>
<circle cx="674" cy="735.6" r="3.9" fill="#fff" stroke="#7f7f7f" stroke-width="1.3"/>
<circle cx="677.6" cy="738.2" r="3.9" fill="#fff" stroke="#7f7f7f" stroke-width="1.3"/>
<circle cx="681" cy="741" r="3.9" fill="#fff" stroke="#7f7f7f" stroke-width="1.3"/>
<rect x="450.4" y="636" width="265.6" height="195.8" fill="none" stroke="#000" stroke-width="1.5"/>
<line x1="460.39" y1="831.8" x2="460.39" y2="829.4" stroke="#000" stroke-width="0.8"/>
<line x1="466.24" y1="831.8" x2="466.24" y2="829.4" stroke="#000" stroke-width="0.8"/>
<line x1="470.39" y1="831.8" x2="470.39" y2="829.4" stroke="#000" stroke-width="0.8"/>
<line x1="473.61" y1="831.8" x2="473.61" y2="829.4" stroke="#000" stroke-width="0.8"/>
<line x1="476.23" y1="831.8" x2="476.23" y2="829.4" stroke="#000" stroke-width="0.8"/>
<line x1="478.46" y1="831.8" x2="478.46" y2="829.4" stroke="#000" stroke-width="0.8"/>
<line x1="480.38" y1="831.8" x2="480.38" y2="829.4" stroke="#000" stroke-width="0.8"/>
<line x1="482.08" y1="831.8" x2="482.08" y2="829.4" stroke="#000" stroke-width="0.8"/>
<line x1="483.6" y1="831.8" x2="483.6" y2="827.8" stroke="#000" stroke-width="1.1"/>
<line x1="493.59" y1="831.8" x2="493.59" y2="829.4" stroke="#000" stroke-width="0.8"/>
<line x1="499.44" y1="831.8" x2="499.44" y2="829.4" stroke="#000" stroke-width="0.8"/>
<line x1="503.59" y1="831.8" x2="503.59" y2="829.4" stroke="#000" stroke-width="0.8"/>
<line x1="506.81" y1="831.8" x2="506.81" y2="829.4" stroke="#000" stroke-width="0.8"/>
<line x1="509.43" y1="831.8" x2="509.43" y2="829.4" stroke="#000" stroke-width="0.8"/>
<line x1="511.66" y1="831.8" x2="511.66" y2="829.4" stroke="#000" stroke-width="0.8"/>
<line x1="513.58" y1="831.8" x2="513.58" y2="829.4" stroke="#000" stroke-width="0.8"/>
<line x1="515.28" y1="831.8" x2="515.28" y2="829.4" stroke="#000" stroke-width="0.8"/>
<line x1="516.8" y1="831.8" x2="516.8" y2="826.8" stroke="#000" stroke-width="1.1"/>
<line x1="526.79" y1="831.8" x2="526.79" y2="829.4" stroke="#000" stroke-width="0.8"/>
<line x1="532.64" y1="831.8" x2="532.64" y2="829.4" stroke="#000" stroke-width="0.8"/>
<line x1="536.79" y1="831.8" x2="536.79" y2="829.4" stroke="#000" stroke-width="0.8"/>
<line x1="540.01" y1="831.8" x2="540.01" y2="829.4" stroke="#000" stroke-width="0.8"/>
<line x1="542.63" y1="831.8" x2="542.63" y2="829.4" stroke="#000" stroke-width="0.8"/>
<line x1="544.86" y1="831.8" x2="544.86" y2="829.4" stroke="#000" stroke-width="0.8"/>
<line x1="546.78" y1="831.8" x2="546.78" y2="829.4" stroke="#000" stroke-width="0.8"/>
<line x1="548.48" y1="831.8" x2="548.48" y2="829.4" stroke="#000" stroke-width="0.8"/>
<line x1="550" y1="831.8" x2="550" y2="827.8" stroke="#000" stroke-width="1.1"/>
<line x1="559.99" y1="831.8" x2="559.99" y2="829.4" stroke="#000" stroke-width="0.8"/>
<line x1="565.84" y1="831.8" x2="565.84" y2="829.4" stroke="#000" stroke-width="0.8"/>
<line x1="569.99" y1="831.8" x2="569.99" y2="829.4" stroke="#000" stroke-width="0.8"/>
<line x1="573.21" y1="831.8" x2="573.21" y2="829.4" stroke="#000" stroke-width="0.8"/>
<line x1="575.83" y1="831.8" x2="575.83" y2="829.4" stroke="#000" stroke-width="0.8"/>
<line x1="578.06" y1="831.8" x2="578.06" y2="829.4" stroke="#000" stroke-width="0.8"/>
<line x1="579.98" y1="831.8" x2="579.98" y2="829.4" stroke="#000" stroke-width="0.8"/>
<line x1="581.68" y1="831.8" x2="581.68" y2="829.4" stroke="#000" stroke-width="0.8"/>
<line x1="583.2" y1="831.8" x2="583.2" y2="826.8" stroke="#000" stroke-width="1.1"/>
<line x1="593.19" y1="831.8" x2="593.19" y2="829.4" stroke="#000" stroke-width="0.8"/>
<line x1="599.04" y1="831.8" x2="599.04" y2="829.4" stroke="#000" stroke-width="0.8"/>
<line x1="603.19" y1="831.8" x2="603.19" y2="829.4" stroke="#000" stroke-width="0.8"/>
<line x1="606.41" y1="831.8" x2="606.41" y2="829.4" stroke="#000" stroke-width="0.8"/>
<line x1="609.03" y1="831.8" x2="609.03" y2="829.4" stroke="#000" stroke-width="0.8"/>
<line x1="611.26" y1="831.8" x2="611.26" y2="829.4" stroke="#000" stroke-width="0.8"/>
<line x1="613.18" y1="831.8" x2="613.18" y2="829.4" stroke="#000" stroke-width="0.8"/>
<line x1="614.88" y1="831.8" x2="614.88" y2="829.4" stroke="#000" stroke-width="0.8"/>
<line x1="616.4" y1="831.8" x2="616.4" y2="827.8" stroke="#000" stroke-width="1.1"/>
<line x1="626.39" y1="831.8" x2="626.39" y2="829.4" stroke="#000" stroke-width="0.8"/>
<line x1="632.24" y1="831.8" x2="632.24" y2="829.4" stroke="#000" stroke-width="0.8"/>
<line x1="636.39" y1="831.8" x2="636.39" y2="829.4" stroke="#000" stroke-width="0.8"/>
<line x1="639.61" y1="831.8" x2="639.61" y2="829.4" stroke="#000" stroke-width="0.8"/>
<line x1="642.23" y1="831.8" x2="642.23" y2="829.4" stroke="#000" stroke-width="0.8"/>
<line x1="644.46" y1="831.8" x2="644.46" y2="829.4" stroke="#000" stroke-width="0.8"/>
<line x1="646.38" y1="831.8" x2="646.38" y2="829.4" stroke="#000" stroke-width="0.8"/>
<line x1="648.08" y1="831.8" x2="648.08" y2="829.4" stroke="#000" stroke-width="0.8"/>
<line x1="649.6" y1="831.8" x2="649.6" y2="826.8" stroke="#000" stroke-width="1.1"/>
<line x1="659.59" y1="831.8" x2="659.59" y2="829.4" stroke="#000" stroke-width="0.8"/>
<line x1="665.44" y1="831.8" x2="665.44" y2="829.4" stroke="#000" stroke-width="0.8"/>
<line x1="669.59" y1="831.8" x2="669.59" y2="829.4" stroke="#000" stroke-width="0.8"/>
<line x1="672.81" y1="831.8" x2="672.81" y2="829.4" stroke="#000" stroke-width="0.8"/>
<line x1="675.43" y1="831.8" x2="675.43" y2="829.4" stroke="#000" stroke-width="0.8"/>
<line x1="677.66" y1="831.8" x2="677.66" y2="829.4" stroke="#000" stroke-width="0.8"/>
<line x1="679.58" y1="831.8" x2="679.58" y2="829.4" stroke="#000" stroke-width="0.8"/>
<line x1="681.28" y1="831.8" x2="681.28" y2="829.4" stroke="#000" stroke-width="0.8"/>
<line x1="682.8" y1="831.8" x2="682.8" y2="827.8" stroke="#000" stroke-width="1.1"/>
<line x1="692.79" y1="831.8" x2="692.79" y2="829.4" stroke="#000" stroke-width="0.8"/>
<line x1="698.64" y1="831.8" x2="698.64" y2="829.4" stroke="#000" stroke-width="0.8"/>
<line x1="702.79" y1="831.8" x2="702.79" y2="829.4" stroke="#000" stroke-width="0.8"/>
<line x1="706.01" y1="831.8" x2="706.01" y2="829.4" stroke="#000" stroke-width="0.8"/>
<line x1="708.63" y1="831.8" x2="708.63" y2="829.4" stroke="#000" stroke-width="0.8"/>
<line x1="710.86" y1="831.8" x2="710.86" y2="829.4" stroke="#000" stroke-width="0.8"/>
<line x1="712.78" y1="831.8" x2="712.78" y2="829.4" stroke="#000" stroke-width="0.8"/>
<line x1="714.48" y1="831.8" x2="714.48" y2="829.4" stroke="#000" stroke-width="0.8"/>
<line x1="450.4" y1="766.6" x2="454.9" y2="766.6" stroke="#000" stroke-width="1.2"/>
<line x1="450.4" y1="701.4" x2="454.9" y2="701.4" stroke="#000" stroke-width="1.2"/>
<line x1="450.4" y1="799.2" x2="452.9" y2="799.2" stroke="#000" stroke-width="1.2"/>
<line x1="450.4" y1="734" x2="452.9" y2="734" stroke="#000" stroke-width="1.2"/>
<line x1="450.4" y1="668.8" x2="452.9" y2="668.8" stroke="#000" stroke-width="1.2"/>
<text x="445" y="836.1" font-size="14.5" text-anchor="end" fill="#111" stroke="#111" stroke-width="0.16">0</text>
<text x="445" y="770.9" font-size="14.5" text-anchor="end" fill="#111" stroke="#111" stroke-width="0.16">10</text>
<text x="445" y="705.7" font-size="14.5" text-anchor="end" fill="#111" stroke="#111" stroke-width="0.16">20</text>
<text x="445" y="640.5" font-size="14.5" text-anchor="end" fill="#111" stroke="#111" stroke-width="0.16">30</text>
<text x="450.8" y="851.6" font-size="14.3" text-anchor="middle" fill="#111" stroke="#111" stroke-width="0.16">10<tspan dy="-5.86" font-size="9.58">-4</tspan></text>
<text x="517.2" y="851.6" font-size="14.3" text-anchor="middle" fill="#111" stroke="#111" stroke-width="0.16">10<tspan dy="-5.86" font-size="9.58">-2</tspan></text>
<text x="583.6" y="851.6" font-size="14.3" text-anchor="middle" fill="#111" stroke="#111" stroke-width="0.16">10<tspan dy="-5.86" font-size="9.58">0</tspan></text>
<text x="650" y="851.6" font-size="14.3" text-anchor="middle" fill="#111" stroke="#111" stroke-width="0.16">10<tspan dy="-5.86" font-size="9.58">2</tspan></text>
<text x="716.4" y="851.6" font-size="14.3" text-anchor="middle" fill="#111" stroke="#111" stroke-width="0.16">10<tspan dy="-5.86" font-size="9.58">4</tspan></text>
<text x="585" y="870.8" font-size="16.75" text-anchor="middle" fill="#000" stroke="#000" stroke-width="0.18">Current density (mA cm<tspan dy="-5.53" font-size="11.22">-2</tspan><tspan dy="5.53">)</tspan></text>
<text x="413.6" y="731" font-size="16.75" text-anchor="middle" fill="#000" stroke="#000" stroke-width="0.18" transform="rotate(-90 413.6 731)">EQE (%)</text>
<line x1="452.6" y1="646" x2="487" y2="646" stroke="#7f7f7f" stroke-width="1.6"/>
<circle cx="469.6" cy="646" r="4.3" fill="#fff" stroke="#7f7f7f" stroke-width="1.4"/>
<text x="491" y="650.6" font-size="15.1" text-anchor="start" fill="#111" stroke="#111" stroke-width="0.17">w/o H<tspan dy="4.08" font-size="10.12">2</tspan><tspan dy="-4.08">O @ Fresh</tspan></text>
<text x="453" y="671.6" font-size="15.1" text-anchor="start" fill="#111" stroke="#111" stroke-width="0.17">w/ H<tspan dy="4.08" font-size="10.12">2</tspan><tspan dy="-4.08">O:</tspan></text>
<line x1="452.6" y1="689.6" x2="487" y2="689.6" stroke="#2a9d8f" stroke-width="1.6"/>
<circle cx="469.6" cy="689.6" r="4.3" fill="#fff" stroke="#2a9d8f" stroke-width="1.4"/>
<text x="491" y="694.4" font-size="15.1" text-anchor="start" fill="#111" stroke="#111" stroke-width="0.17">Fresh</text>
<line x1="452.6" y1="708" x2="487" y2="708" stroke="#eea163" stroke-width="1.6"/>
<circle cx="469.6" cy="708" r="4.3" fill="#fff" stroke="#eea163" stroke-width="1.4"/>
<text x="491" y="713" font-size="15.1" text-anchor="start" fill="#111" stroke="#111" stroke-width="0.17">Day 3</text>
<line x1="452.6" y1="726.4" x2="487" y2="726.4" stroke="#e9695a" stroke-width="1.6"/>
<circle cx="469.6" cy="726.4" r="4.3" fill="#fff" stroke="#e9695a" stroke-width="1.4"/>
<text x="491" y="731" font-size="15.1" text-anchor="start" fill="#111" stroke="#111" stroke-width="0.17">Day 5</text>
<text x="763.2" y="620.8" font-size="19.6" text-anchor="start" fill="#000" stroke="#000" stroke-width="0.05">i</text>
<line x1="810" y1="633.2" x2="810" y2="831.2" stroke="#111" stroke-width="1.1"/>
<line x1="809.5" y1="831.2" x2="1008.2" y2="831.2" stroke="#222" stroke-width="1.3"/>
<line x1="809.5" y1="633.2" x2="1008.2" y2="633.2" stroke="#000" stroke-width="1.5"/>
<line x1="1008.2" y1="632.4" x2="1008.2" y2="831.8" stroke="#2a9d8f" stroke-width="1.2"/>
<line x1="834.6" y1="831.2" x2="834.6" y2="826.7" stroke="#000" stroke-width="1.2"/>
<line x1="884" y1="831.2" x2="884" y2="826.7" stroke="#000" stroke-width="1.2"/>
<line x1="933.6" y1="831.2" x2="933.6" y2="826.7" stroke="#000" stroke-width="1.2"/>
<line x1="983.6" y1="831.2" x2="983.6" y2="826.7" stroke="#000" stroke-width="1.2"/>
<line x1="859.3" y1="831.2" x2="859.3" y2="828.7" stroke="#000" stroke-width="1.2"/>
<line x1="908.8" y1="831.2" x2="908.8" y2="828.7" stroke="#000" stroke-width="1.2"/>
<line x1="958.6" y1="831.2" x2="958.6" y2="828.7" stroke="#000" stroke-width="1.2"/>
<line x1="810" y1="772.8" x2="814" y2="772.8" stroke="#000" stroke-width="1.2"/>
<line x1="810" y1="714.4" x2="814" y2="714.4" stroke="#000" stroke-width="1.2"/>
<line x1="810" y1="656" x2="814" y2="656" stroke="#000" stroke-width="1.2"/>
<line x1="810" y1="802" x2="812.2" y2="802" stroke="#000" stroke-width="1.2"/>
<line x1="810" y1="743.6" x2="812.2" y2="743.6" stroke="#000" stroke-width="1.2"/>
<line x1="810" y1="685.2" x2="812.2" y2="685.2" stroke="#000" stroke-width="1.2"/>
<line x1="1008.2" y1="818" x2="1003.6" y2="818" stroke="#2a9d8f" stroke-width="1.2"/>
<line x1="1008.2" y1="765" x2="1003.6" y2="765" stroke="#2a9d8f" stroke-width="1.2"/>
<line x1="1008.2" y1="712" x2="1003.6" y2="712" stroke="#2a9d8f" stroke-width="1.2"/>
<line x1="1008.2" y1="659" x2="1003.6" y2="659" stroke="#2a9d8f" stroke-width="1.2"/>
<line x1="1008.2" y1="791.5" x2="1005.2" y2="791.5" stroke="#2a9d8f" stroke-width="1.1"/>
<line x1="1008.2" y1="738.5" x2="1005.2" y2="738.5" stroke="#2a9d8f" stroke-width="1.1"/>
<line x1="1008.2" y1="685.5" x2="1005.2" y2="685.5" stroke="#2a9d8f" stroke-width="1.1"/>
<text x="834.6" y="846.6" font-size="13.4" text-anchor="middle" fill="#111" stroke="#111" stroke-width="0.15">1</text>
<text x="884" y="846.6" font-size="13.4" text-anchor="middle" fill="#111" stroke="#111" stroke-width="0.15">2</text>
<text x="933.6" y="846.6" font-size="13.4" text-anchor="middle" fill="#111" stroke="#111" stroke-width="0.15">3</text>
<text x="983.6" y="846.6" font-size="13.4" text-anchor="middle" fill="#111" stroke="#111" stroke-width="0.15">5</text>
<text x="804.2" y="835.8" font-size="13.6" text-anchor="end" fill="#111" stroke="#111" stroke-width="0.15">10</text>
<text x="804.2" y="777.4" font-size="13.6" text-anchor="end" fill="#111" stroke="#111" stroke-width="0.15">15</text>
<text x="804.2" y="719" font-size="13.6" text-anchor="end" fill="#111" stroke="#111" stroke-width="0.15">20</text>
<text x="804.2" y="660.6" font-size="13.6" text-anchor="end" fill="#111" stroke="#111" stroke-width="0.15">25</text>
<text x="1013" y="822.8" font-size="14" text-anchor="start" fill="#2a9d8f" stroke="#2a9d8f" stroke-width="0.15">20</text>
<text x="1013" y="769.8" font-size="14" text-anchor="start" fill="#2a9d8f" stroke="#2a9d8f" stroke-width="0.15">40</text>
<text x="1013" y="716.8" font-size="14" text-anchor="start" fill="#2a9d8f" stroke="#2a9d8f" stroke-width="0.15">60</text>
<text x="1013" y="663.8" font-size="14" text-anchor="start" fill="#2a9d8f" stroke="#2a9d8f" stroke-width="0.15">80</text>
<text x="922.6" y="870.6" font-size="16.67" text-anchor="middle" fill="#000" stroke="#000" stroke-width="0.18">Storge time (day)</text>
<text x="774.8" y="731" font-size="16.75" text-anchor="middle" fill="#000" stroke="#000" stroke-width="0.18" transform="rotate(-90 774.8 731)">Peak EQE (%)</text>
<text x="1054.6" y="730" font-size="16.9" text-anchor="middle" fill="#2a9d8f" stroke="#2a9d8f" stroke-width="0.19" transform="rotate(-90 1054.6 730)">J @Peak EQE (mA cm<tspan dy="-5.58" font-size="11.32">-2</tspan><tspan dy="5.58">)</tspan></text>
<line x1="846.6" y1="710.6" x2="973" y2="710.6" stroke="#555" stroke-width="0.9" stroke-dasharray="5 3"/>
<line x1="846.6" y1="737.6" x2="973" y2="737.6" stroke="#2a9d8f" stroke-width="0.9" stroke-dasharray="5 3"/>
<circle cx="909.4" cy="659" r="8.2" fill="none" stroke="#666" stroke-width="0.9" stroke-dasharray="1.2 1.5"/>
<path d="M909.4,650.8 C904,649.6 899,650.4 895.6,651.4" stroke="#7f7f7f" stroke-width="0.8" fill="none" stroke-dasharray="1.2 1.5"/>
<path d="M898.6,648.4 L893.4,651.4 L899,654.2" stroke="#7f7f7f" stroke-width="0.8" fill="none"/>
<circle cx="909.6" cy="804" r="8.2" fill="none" stroke="#666" stroke-width="0.9" stroke-dasharray="1.2 1.5"/>
<line x1="909.6" y1="812.2" x2="927" y2="812.2" stroke="#7f7f7f" stroke-width="0.8" stroke-dasharray="1.2 1.5"/>
<path d="M926.6,809.6 L932.4,812.2 L926.6,814.8 Z" stroke="#7f7f7f" stroke-width="0.7" fill="none"/>
<polyline points="834.6,709 884,669.6 933.6,650 983.6,645" fill="none" stroke="#808080" stroke-width="1.1"/>
<circle cx="834.6" cy="709" r="4.9" fill="#808080" stroke="none" stroke-width="1"/>
<circle cx="884" cy="669.6" r="4.9" fill="#808080" stroke="none" stroke-width="1"/>
<circle cx="933.6" cy="650" r="4.9" fill="#808080" stroke="none" stroke-width="1"/>
<circle cx="983.6" cy="645" r="4.9" fill="#808080" stroke="none" stroke-width="1"/>
<polyline points="834.6,737.6 884,805.2 933.6,805.2 983.6,811" fill="none" stroke="#2a9d8f" stroke-width="1.2"/>
<circle cx="834.6" cy="737.6" r="4.9" fill="#2a9d8f" stroke="none" stroke-width="1"/>
<circle cx="884" cy="805.2" r="4.9" fill="#2a9d8f" stroke="none" stroke-width="1"/>
<circle cx="933.6" cy="805.2" r="4.9" fill="#2a9d8f" stroke="none" stroke-width="1"/>
<circle cx="983.6" cy="811" r="4.9" fill="#2a9d8f" stroke="none" stroke-width="1"/>
<polygon points="962.8,698 971.2,698 971.2,667 975,667 967,659.4 959,667 962.8,667" fill="url(#iarrR)" stroke="none" stroke-width="1"/>
<polygon points="963.1,748 971.7,748 971.7,785 975.4,785 967.4,792.8 959.4,785 963.1,785" fill="url(#iarrG)" stroke="none" stroke-width="1"/>
<text x="925" y="685.6" font-size="11.6" text-anchor="middle" fill="#222" stroke="#222" stroke-width="0.13">Improved by</text>
<text x="925" y="699" font-size="11.6" text-anchor="middle" fill="#222" stroke="#222" stroke-width="0.13">27%</text>
<text x="917.6" y="767.6" font-size="11.6" text-anchor="middle" fill="#222" stroke="#222" stroke-width="0.13">Decreased by</text>
<text x="917.6" y="781.4" font-size="11.6" text-anchor="middle" fill="#222" stroke="#222" stroke-width="0.13">55%</text>
<line x1="24.6" y1="594.2" x2="1080" y2="594.2" stroke="#adadad" stroke-width="2" stroke-dasharray="8.4 6.6"/>
</svg>
</body></html>
